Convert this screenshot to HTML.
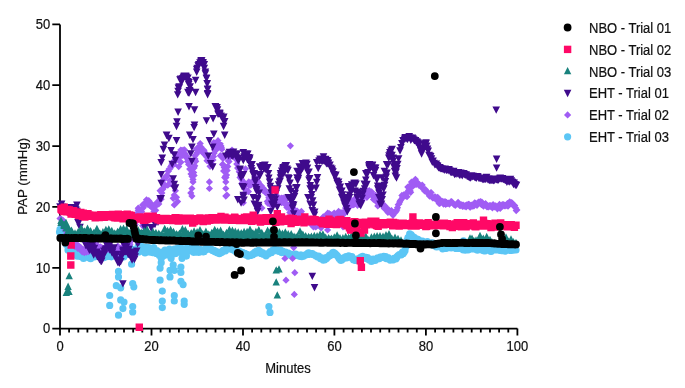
<!DOCTYPE html>
<html><head><meta charset="utf-8"><style>
html,body{margin:0;padding:0;background:#fff;}
svg{display:block;will-change:transform;font-family:"Liberation Sans",sans-serif;font-size:13px;fill:#000;}
</style></head><body>
<svg width="685" height="388" viewBox="0 0 685 388">
<rect width="685" height="388" fill="#fff"/>
<path d="M60 24.4V328.6H517.4" fill="none" stroke="#000" stroke-width="1.8"/><path d="M52.3 328.6H60M52.3 267.8H60M52.3 206.9H60M52.3 146.1H60M52.3 85.2H60M52.3 24.4H60M60.0 328.6v6.8M69.1 328.6v3.9M78.3 328.6v3.9M87.4 328.6v3.9M96.6 328.6v3.9M105.7 328.6v3.9M114.9 328.6v3.9M124.0 328.6v3.9M133.2 328.6v3.9M142.3 328.6v3.9M151.5 328.6v6.8M160.6 328.6v3.9M169.8 328.6v3.9M178.9 328.6v3.9M188.1 328.6v3.9M197.2 328.6v3.9M206.4 328.6v3.9M215.5 328.6v3.9M224.7 328.6v3.9M233.8 328.6v3.9M243.0 328.6v6.8M252.1 328.6v3.9M261.3 328.6v3.9M270.4 328.6v3.9M279.6 328.6v3.9M288.7 328.6v3.9M297.8 328.6v3.9M307.0 328.6v3.9M316.1 328.6v3.9M325.3 328.6v3.9M334.4 328.6v6.8M343.6 328.6v3.9M352.7 328.6v3.9M361.9 328.6v3.9M371.0 328.6v3.9M380.2 328.6v3.9M389.3 328.6v3.9M398.5 328.6v3.9M407.6 328.6v3.9M416.8 328.6v3.9M425.9 328.6v6.8M435.1 328.6v3.9M444.2 328.6v3.9M453.4 328.6v3.9M462.5 328.6v3.9M471.7 328.6v3.9M480.8 328.6v3.9M490.0 328.6v3.9M499.1 328.6v3.9M508.3 328.6v3.9M517.4 328.6v6.8" fill="none" stroke="#000" stroke-width="1.8"/>
<path fill="#5CC6F5" d="M58.0 227.8a3.6 3.6 0 1 0 7.2 0a3.6 3.6 0 1 0 -7.2 0zM60.2 230.0a3.6 3.6 0 1 0 7.2 0a3.6 3.6 0 1 0 -7.2 0zM79.9 258.5a3.6 3.6 0 1 0 7.2 0a3.6 3.6 0 1 0 -7.2 0zM114.9 271.4a3.6 3.6 0 1 0 7.2 0a3.6 3.6 0 1 0 -7.2 0zM114.9 276.9a3.6 3.6 0 1 0 7.2 0a3.6 3.6 0 1 0 -7.2 0zM112.7 285.7a3.6 3.6 0 1 0 7.2 0a3.6 3.6 0 1 0 -7.2 0zM117.1 287.8a3.6 3.6 0 1 0 7.2 0a3.6 3.6 0 1 0 -7.2 0zM129.1 283.5a3.6 3.6 0 1 0 7.2 0a3.6 3.6 0 1 0 -7.2 0zM130.2 286.8a3.6 3.6 0 1 0 7.2 0a3.6 3.6 0 1 0 -7.2 0zM106.1 295.5a3.6 3.6 0 1 0 7.2 0a3.6 3.6 0 1 0 -7.2 0zM106.1 305.4a3.6 3.6 0 1 0 7.2 0a3.6 3.6 0 1 0 -7.2 0zM117.1 299.9a3.6 3.6 0 1 0 7.2 0a3.6 3.6 0 1 0 -7.2 0zM120.4 302.1a3.6 3.6 0 1 0 7.2 0a3.6 3.6 0 1 0 -7.2 0zM119.3 308.6a3.6 3.6 0 1 0 7.2 0a3.6 3.6 0 1 0 -7.2 0zM114.9 315.2a3.6 3.6 0 1 0 7.2 0a3.6 3.6 0 1 0 -7.2 0zM129.1 306.5a3.6 3.6 0 1 0 7.2 0a3.6 3.6 0 1 0 -7.2 0zM129.1 311.9a3.6 3.6 0 1 0 7.2 0a3.6 3.6 0 1 0 -7.2 0zM128.0 264.2a3.6 3.6 0 1 0 7.2 0a3.6 3.6 0 1 0 -7.2 0zM157.6 258.3a3.6 3.6 0 1 0 7.2 0a3.6 3.6 0 1 0 -7.2 0zM157.6 262.7a3.6 3.6 0 1 0 7.2 0a3.6 3.6 0 1 0 -7.2 0zM156.5 268.1a3.6 3.6 0 1 0 7.2 0a3.6 3.6 0 1 0 -7.2 0zM156.5 280.2a3.6 3.6 0 1 0 7.2 0a3.6 3.6 0 1 0 -7.2 0zM158.7 291.1a3.6 3.6 0 1 0 7.2 0a3.6 3.6 0 1 0 -7.2 0zM158.7 301.0a3.6 3.6 0 1 0 7.2 0a3.6 3.6 0 1 0 -7.2 0zM158.7 307.6a3.6 3.6 0 1 0 7.2 0a3.6 3.6 0 1 0 -7.2 0zM167.5 258.3a3.6 3.6 0 1 0 7.2 0a3.6 3.6 0 1 0 -7.2 0zM169.6 264.9a3.6 3.6 0 1 0 7.2 0a3.6 3.6 0 1 0 -7.2 0zM166.4 270.3a3.6 3.6 0 1 0 7.2 0a3.6 3.6 0 1 0 -7.2 0zM166.4 276.9a3.6 3.6 0 1 0 7.2 0a3.6 3.6 0 1 0 -7.2 0zM170.7 270.3a3.6 3.6 0 1 0 7.2 0a3.6 3.6 0 1 0 -7.2 0zM170.7 295.5a3.6 3.6 0 1 0 7.2 0a3.6 3.6 0 1 0 -7.2 0zM170.7 301.0a3.6 3.6 0 1 0 7.2 0a3.6 3.6 0 1 0 -7.2 0zM178.4 258.3a3.6 3.6 0 1 0 7.2 0a3.6 3.6 0 1 0 -7.2 0zM177.3 267.0a3.6 3.6 0 1 0 7.2 0a3.6 3.6 0 1 0 -7.2 0zM177.3 272.5a3.6 3.6 0 1 0 7.2 0a3.6 3.6 0 1 0 -7.2 0zM177.3 281.3a3.6 3.6 0 1 0 7.2 0a3.6 3.6 0 1 0 -7.2 0zM179.5 284.6a3.6 3.6 0 1 0 7.2 0a3.6 3.6 0 1 0 -7.2 0zM180.6 301.0a3.6 3.6 0 1 0 7.2 0a3.6 3.6 0 1 0 -7.2 0zM180.6 304.3a3.6 3.6 0 1 0 7.2 0a3.6 3.6 0 1 0 -7.2 0zM182.8 256.1a3.6 3.6 0 1 0 7.2 0a3.6 3.6 0 1 0 -7.2 0zM265.3 306.5a3.6 3.6 0 1 0 7.2 0a3.6 3.6 0 1 0 -7.2 0zM266.4 312.4a3.6 3.6 0 1 0 7.2 0a3.6 3.6 0 1 0 -7.2 0zM58.4 228.0a3.6 3.6 0 1 0 7.2 0a3.6 3.6 0 1 0 -7.2 0zM60.4 231.0a3.6 3.6 0 1 0 7.2 0a3.6 3.6 0 1 0 -7.2 0zM55.9 232.0a3.6 3.6 0 1 0 7.2 0a3.6 3.6 0 1 0 -7.2 0zM59.4 226.0a3.6 3.6 0 1 0 7.2 0a3.6 3.6 0 1 0 -7.2 0zM459.9 240.8a3.6 3.6 0 1 0 7.2 0a3.6 3.6 0 1 0 -7.2 0zM62.4 228.5a3.6 3.6 0 1 0 7.2 0a3.6 3.6 0 1 0 -7.2 0zM61.4 232.0a3.6 3.6 0 1 0 7.2 0a3.6 3.6 0 1 0 -7.2 0zM57.4 229.0a3.6 3.6 0 1 0 7.2 0a3.6 3.6 0 1 0 -7.2 0zM59.9 226.5a3.6 3.6 0 1 0 7.2 0a3.6 3.6 0 1 0 -7.2 0zM56.4 229.4a3.6 3.6 0 1 0 7.2 0a3.6 3.6 0 1 0 -7.2 0zM57.0 229.3a3.6 3.6 0 1 0 7.2 0a3.6 3.6 0 1 0 -7.2 0zM57.6 231.5a3.6 3.6 0 1 0 7.2 0a3.6 3.6 0 1 0 -7.2 0zM58.2 232.6a3.6 3.6 0 1 0 7.2 0a3.6 3.6 0 1 0 -7.2 0zM58.8 234.3a3.6 3.6 0 1 0 7.2 0a3.6 3.6 0 1 0 -7.2 0zM59.4 237.5a3.6 3.6 0 1 0 7.2 0a3.6 3.6 0 1 0 -7.2 0zM60.0 237.2a3.6 3.6 0 1 0 7.2 0a3.6 3.6 0 1 0 -7.2 0zM60.6 234.0a3.6 3.6 0 1 0 7.2 0a3.6 3.6 0 1 0 -7.2 0zM61.2 240.2a3.6 3.6 0 1 0 7.2 0a3.6 3.6 0 1 0 -7.2 0zM61.8 239.8a3.6 3.6 0 1 0 7.2 0a3.6 3.6 0 1 0 -7.2 0zM62.4 244.3a3.6 3.6 0 1 0 7.2 0a3.6 3.6 0 1 0 -7.2 0zM63.1 242.6a3.6 3.6 0 1 0 7.2 0a3.6 3.6 0 1 0 -7.2 0zM63.7 245.0a3.6 3.6 0 1 0 7.2 0a3.6 3.6 0 1 0 -7.2 0zM64.4 249.9a3.6 3.6 0 1 0 7.2 0a3.6 3.6 0 1 0 -7.2 0zM65.1 244.2a3.6 3.6 0 1 0 7.2 0a3.6 3.6 0 1 0 -7.2 0zM65.7 244.9a3.6 3.6 0 1 0 7.2 0a3.6 3.6 0 1 0 -7.2 0zM66.4 245.2a3.6 3.6 0 1 0 7.2 0a3.6 3.6 0 1 0 -7.2 0zM67.0 243.6a3.6 3.6 0 1 0 7.2 0a3.6 3.6 0 1 0 -7.2 0zM67.6 245.0a3.6 3.6 0 1 0 7.2 0a3.6 3.6 0 1 0 -7.2 0zM68.2 249.9a3.6 3.6 0 1 0 7.2 0a3.6 3.6 0 1 0 -7.2 0zM68.8 248.3a3.6 3.6 0 1 0 7.2 0a3.6 3.6 0 1 0 -7.2 0zM69.4 246.3a3.6 3.6 0 1 0 7.2 0a3.6 3.6 0 1 0 -7.2 0zM70.0 247.4a3.6 3.6 0 1 0 7.2 0a3.6 3.6 0 1 0 -7.2 0zM70.6 252.0a3.6 3.6 0 1 0 7.2 0a3.6 3.6 0 1 0 -7.2 0zM71.2 249.6a3.6 3.6 0 1 0 7.2 0a3.6 3.6 0 1 0 -7.2 0zM71.8 250.9a3.6 3.6 0 1 0 7.2 0a3.6 3.6 0 1 0 -7.2 0zM72.4 252.7a3.6 3.6 0 1 0 7.2 0a3.6 3.6 0 1 0 -7.2 0zM73.0 254.8a3.6 3.6 0 1 0 7.2 0a3.6 3.6 0 1 0 -7.2 0zM73.6 256.1a3.6 3.6 0 1 0 7.2 0a3.6 3.6 0 1 0 -7.2 0zM74.2 254.5a3.6 3.6 0 1 0 7.2 0a3.6 3.6 0 1 0 -7.2 0zM74.8 252.8a3.6 3.6 0 1 0 7.2 0a3.6 3.6 0 1 0 -7.2 0zM75.4 253.0a3.6 3.6 0 1 0 7.2 0a3.6 3.6 0 1 0 -7.2 0zM76.0 256.4a3.6 3.6 0 1 0 7.2 0a3.6 3.6 0 1 0 -7.2 0zM76.6 255.8a3.6 3.6 0 1 0 7.2 0a3.6 3.6 0 1 0 -7.2 0zM77.2 252.4a3.6 3.6 0 1 0 7.2 0a3.6 3.6 0 1 0 -7.2 0zM77.8 254.1a3.6 3.6 0 1 0 7.2 0a3.6 3.6 0 1 0 -7.2 0zM78.4 253.9a3.6 3.6 0 1 0 7.2 0a3.6 3.6 0 1 0 -7.2 0zM79.0 253.6a3.6 3.6 0 1 0 7.2 0a3.6 3.6 0 1 0 -7.2 0zM79.6 252.6a3.6 3.6 0 1 0 7.2 0a3.6 3.6 0 1 0 -7.2 0zM80.2 251.1a3.6 3.6 0 1 0 7.2 0a3.6 3.6 0 1 0 -7.2 0zM80.8 252.8a3.6 3.6 0 1 0 7.2 0a3.6 3.6 0 1 0 -7.2 0zM81.4 250.9a3.6 3.6 0 1 0 7.2 0a3.6 3.6 0 1 0 -7.2 0zM82.0 256.5a3.6 3.6 0 1 0 7.2 0a3.6 3.6 0 1 0 -7.2 0zM82.7 255.2a3.6 3.6 0 1 0 7.2 0a3.6 3.6 0 1 0 -7.2 0zM83.3 251.8a3.6 3.6 0 1 0 7.2 0a3.6 3.6 0 1 0 -7.2 0zM83.9 257.0a3.6 3.6 0 1 0 7.2 0a3.6 3.6 0 1 0 -7.2 0zM84.5 256.1a3.6 3.6 0 1 0 7.2 0a3.6 3.6 0 1 0 -7.2 0zM85.2 250.6a3.6 3.6 0 1 0 7.2 0a3.6 3.6 0 1 0 -7.2 0zM85.8 258.1a3.6 3.6 0 1 0 7.2 0a3.6 3.6 0 1 0 -7.2 0zM86.4 256.1a3.6 3.6 0 1 0 7.2 0a3.6 3.6 0 1 0 -7.2 0zM87.0 258.7a3.6 3.6 0 1 0 7.2 0a3.6 3.6 0 1 0 -7.2 0zM87.7 252.2a3.6 3.6 0 1 0 7.2 0a3.6 3.6 0 1 0 -7.2 0zM88.3 255.7a3.6 3.6 0 1 0 7.2 0a3.6 3.6 0 1 0 -7.2 0zM88.9 255.6a3.6 3.6 0 1 0 7.2 0a3.6 3.6 0 1 0 -7.2 0zM89.5 255.2a3.6 3.6 0 1 0 7.2 0a3.6 3.6 0 1 0 -7.2 0zM90.2 255.2a3.6 3.6 0 1 0 7.2 0a3.6 3.6 0 1 0 -7.2 0zM90.8 257.0a3.6 3.6 0 1 0 7.2 0a3.6 3.6 0 1 0 -7.2 0zM91.4 252.0a3.6 3.6 0 1 0 7.2 0a3.6 3.6 0 1 0 -7.2 0zM92.0 252.5a3.6 3.6 0 1 0 7.2 0a3.6 3.6 0 1 0 -7.2 0zM92.7 252.1a3.6 3.6 0 1 0 7.2 0a3.6 3.6 0 1 0 -7.2 0zM93.3 253.8a3.6 3.6 0 1 0 7.2 0a3.6 3.6 0 1 0 -7.2 0zM93.9 253.7a3.6 3.6 0 1 0 7.2 0a3.6 3.6 0 1 0 -7.2 0zM94.5 255.6a3.6 3.6 0 1 0 7.2 0a3.6 3.6 0 1 0 -7.2 0zM95.2 255.3a3.6 3.6 0 1 0 7.2 0a3.6 3.6 0 1 0 -7.2 0zM95.8 254.8a3.6 3.6 0 1 0 7.2 0a3.6 3.6 0 1 0 -7.2 0zM96.4 253.4a3.6 3.6 0 1 0 7.2 0a3.6 3.6 0 1 0 -7.2 0zM97.0 253.8a3.6 3.6 0 1 0 7.2 0a3.6 3.6 0 1 0 -7.2 0zM97.7 256.6a3.6 3.6 0 1 0 7.2 0a3.6 3.6 0 1 0 -7.2 0zM98.3 256.2a3.6 3.6 0 1 0 7.2 0a3.6 3.6 0 1 0 -7.2 0zM98.9 254.8a3.6 3.6 0 1 0 7.2 0a3.6 3.6 0 1 0 -7.2 0zM99.5 253.9a3.6 3.6 0 1 0 7.2 0a3.6 3.6 0 1 0 -7.2 0zM100.2 257.7a3.6 3.6 0 1 0 7.2 0a3.6 3.6 0 1 0 -7.2 0zM100.8 253.3a3.6 3.6 0 1 0 7.2 0a3.6 3.6 0 1 0 -7.2 0zM101.4 255.8a3.6 3.6 0 1 0 7.2 0a3.6 3.6 0 1 0 -7.2 0zM102.0 256.8a3.6 3.6 0 1 0 7.2 0a3.6 3.6 0 1 0 -7.2 0zM102.7 253.9a3.6 3.6 0 1 0 7.2 0a3.6 3.6 0 1 0 -7.2 0zM103.3 256.1a3.6 3.6 0 1 0 7.2 0a3.6 3.6 0 1 0 -7.2 0zM103.9 252.1a3.6 3.6 0 1 0 7.2 0a3.6 3.6 0 1 0 -7.2 0zM104.5 256.4a3.6 3.6 0 1 0 7.2 0a3.6 3.6 0 1 0 -7.2 0zM105.2 254.7a3.6 3.6 0 1 0 7.2 0a3.6 3.6 0 1 0 -7.2 0zM105.8 251.1a3.6 3.6 0 1 0 7.2 0a3.6 3.6 0 1 0 -7.2 0zM106.4 255.6a3.6 3.6 0 1 0 7.2 0a3.6 3.6 0 1 0 -7.2 0zM107.0 252.4a3.6 3.6 0 1 0 7.2 0a3.6 3.6 0 1 0 -7.2 0zM107.7 256.8a3.6 3.6 0 1 0 7.2 0a3.6 3.6 0 1 0 -7.2 0zM108.3 252.8a3.6 3.6 0 1 0 7.2 0a3.6 3.6 0 1 0 -7.2 0zM108.9 253.8a3.6 3.6 0 1 0 7.2 0a3.6 3.6 0 1 0 -7.2 0zM109.5 254.7a3.6 3.6 0 1 0 7.2 0a3.6 3.6 0 1 0 -7.2 0zM110.2 253.4a3.6 3.6 0 1 0 7.2 0a3.6 3.6 0 1 0 -7.2 0zM110.8 254.6a3.6 3.6 0 1 0 7.2 0a3.6 3.6 0 1 0 -7.2 0zM111.4 252.9a3.6 3.6 0 1 0 7.2 0a3.6 3.6 0 1 0 -7.2 0zM112.0 255.2a3.6 3.6 0 1 0 7.2 0a3.6 3.6 0 1 0 -7.2 0zM112.7 253.8a3.6 3.6 0 1 0 7.2 0a3.6 3.6 0 1 0 -7.2 0zM113.3 254.0a3.6 3.6 0 1 0 7.2 0a3.6 3.6 0 1 0 -7.2 0zM113.9 248.0a3.6 3.6 0 1 0 7.2 0a3.6 3.6 0 1 0 -7.2 0zM114.5 255.7a3.6 3.6 0 1 0 7.2 0a3.6 3.6 0 1 0 -7.2 0zM115.2 253.3a3.6 3.6 0 1 0 7.2 0a3.6 3.6 0 1 0 -7.2 0zM115.8 249.6a3.6 3.6 0 1 0 7.2 0a3.6 3.6 0 1 0 -7.2 0zM116.4 253.2a3.6 3.6 0 1 0 7.2 0a3.6 3.6 0 1 0 -7.2 0zM117.0 253.8a3.6 3.6 0 1 0 7.2 0a3.6 3.6 0 1 0 -7.2 0zM117.7 254.9a3.6 3.6 0 1 0 7.2 0a3.6 3.6 0 1 0 -7.2 0zM118.3 250.5a3.6 3.6 0 1 0 7.2 0a3.6 3.6 0 1 0 -7.2 0zM118.9 255.6a3.6 3.6 0 1 0 7.2 0a3.6 3.6 0 1 0 -7.2 0zM119.5 252.1a3.6 3.6 0 1 0 7.2 0a3.6 3.6 0 1 0 -7.2 0zM120.2 257.0a3.6 3.6 0 1 0 7.2 0a3.6 3.6 0 1 0 -7.2 0zM120.8 251.8a3.6 3.6 0 1 0 7.2 0a3.6 3.6 0 1 0 -7.2 0zM121.4 253.4a3.6 3.6 0 1 0 7.2 0a3.6 3.6 0 1 0 -7.2 0zM122.0 251.1a3.6 3.6 0 1 0 7.2 0a3.6 3.6 0 1 0 -7.2 0zM122.7 249.5a3.6 3.6 0 1 0 7.2 0a3.6 3.6 0 1 0 -7.2 0zM123.3 253.8a3.6 3.6 0 1 0 7.2 0a3.6 3.6 0 1 0 -7.2 0zM123.9 253.3a3.6 3.6 0 1 0 7.2 0a3.6 3.6 0 1 0 -7.2 0zM124.5 254.5a3.6 3.6 0 1 0 7.2 0a3.6 3.6 0 1 0 -7.2 0zM125.2 253.0a3.6 3.6 0 1 0 7.2 0a3.6 3.6 0 1 0 -7.2 0zM125.8 250.0a3.6 3.6 0 1 0 7.2 0a3.6 3.6 0 1 0 -7.2 0zM126.4 247.7a3.6 3.6 0 1 0 7.2 0a3.6 3.6 0 1 0 -7.2 0zM127.0 249.6a3.6 3.6 0 1 0 7.2 0a3.6 3.6 0 1 0 -7.2 0zM127.7 249.4a3.6 3.6 0 1 0 7.2 0a3.6 3.6 0 1 0 -7.2 0zM128.3 249.0a3.6 3.6 0 1 0 7.2 0a3.6 3.6 0 1 0 -7.2 0zM128.9 251.7a3.6 3.6 0 1 0 7.2 0a3.6 3.6 0 1 0 -7.2 0zM129.5 251.0a3.6 3.6 0 1 0 7.2 0a3.6 3.6 0 1 0 -7.2 0zM130.2 249.7a3.6 3.6 0 1 0 7.2 0a3.6 3.6 0 1 0 -7.2 0zM130.8 250.5a3.6 3.6 0 1 0 7.2 0a3.6 3.6 0 1 0 -7.2 0zM131.4 249.7a3.6 3.6 0 1 0 7.2 0a3.6 3.6 0 1 0 -7.2 0zM132.0 250.3a3.6 3.6 0 1 0 7.2 0a3.6 3.6 0 1 0 -7.2 0zM132.7 251.3a3.6 3.6 0 1 0 7.2 0a3.6 3.6 0 1 0 -7.2 0zM133.3 251.5a3.6 3.6 0 1 0 7.2 0a3.6 3.6 0 1 0 -7.2 0zM133.9 248.1a3.6 3.6 0 1 0 7.2 0a3.6 3.6 0 1 0 -7.2 0zM134.5 246.4a3.6 3.6 0 1 0 7.2 0a3.6 3.6 0 1 0 -7.2 0zM135.2 252.1a3.6 3.6 0 1 0 7.2 0a3.6 3.6 0 1 0 -7.2 0zM135.8 249.4a3.6 3.6 0 1 0 7.2 0a3.6 3.6 0 1 0 -7.2 0zM136.4 251.2a3.6 3.6 0 1 0 7.2 0a3.6 3.6 0 1 0 -7.2 0zM137.0 245.8a3.6 3.6 0 1 0 7.2 0a3.6 3.6 0 1 0 -7.2 0zM137.7 248.5a3.6 3.6 0 1 0 7.2 0a3.6 3.6 0 1 0 -7.2 0zM138.3 249.3a3.6 3.6 0 1 0 7.2 0a3.6 3.6 0 1 0 -7.2 0zM138.9 246.5a3.6 3.6 0 1 0 7.2 0a3.6 3.6 0 1 0 -7.2 0zM139.5 248.4a3.6 3.6 0 1 0 7.2 0a3.6 3.6 0 1 0 -7.2 0zM140.2 251.0a3.6 3.6 0 1 0 7.2 0a3.6 3.6 0 1 0 -7.2 0zM140.8 251.8a3.6 3.6 0 1 0 7.2 0a3.6 3.6 0 1 0 -7.2 0zM141.4 252.9a3.6 3.6 0 1 0 7.2 0a3.6 3.6 0 1 0 -7.2 0zM142.0 248.1a3.6 3.6 0 1 0 7.2 0a3.6 3.6 0 1 0 -7.2 0zM142.7 247.1a3.6 3.6 0 1 0 7.2 0a3.6 3.6 0 1 0 -7.2 0zM143.3 251.1a3.6 3.6 0 1 0 7.2 0a3.6 3.6 0 1 0 -7.2 0zM143.9 252.0a3.6 3.6 0 1 0 7.2 0a3.6 3.6 0 1 0 -7.2 0zM144.5 250.6a3.6 3.6 0 1 0 7.2 0a3.6 3.6 0 1 0 -7.2 0zM145.2 247.7a3.6 3.6 0 1 0 7.2 0a3.6 3.6 0 1 0 -7.2 0zM145.8 252.0a3.6 3.6 0 1 0 7.2 0a3.6 3.6 0 1 0 -7.2 0zM146.4 252.1a3.6 3.6 0 1 0 7.2 0a3.6 3.6 0 1 0 -7.2 0zM147.0 251.7a3.6 3.6 0 1 0 7.2 0a3.6 3.6 0 1 0 -7.2 0zM147.7 249.8a3.6 3.6 0 1 0 7.2 0a3.6 3.6 0 1 0 -7.2 0zM148.3 251.5a3.6 3.6 0 1 0 7.2 0a3.6 3.6 0 1 0 -7.2 0zM148.9 252.6a3.6 3.6 0 1 0 7.2 0a3.6 3.6 0 1 0 -7.2 0zM149.5 250.0a3.6 3.6 0 1 0 7.2 0a3.6 3.6 0 1 0 -7.2 0zM150.2 247.6a3.6 3.6 0 1 0 7.2 0a3.6 3.6 0 1 0 -7.2 0zM150.8 252.0a3.6 3.6 0 1 0 7.2 0a3.6 3.6 0 1 0 -7.2 0zM151.4 252.5a3.6 3.6 0 1 0 7.2 0a3.6 3.6 0 1 0 -7.2 0zM152.0 251.7a3.6 3.6 0 1 0 7.2 0a3.6 3.6 0 1 0 -7.2 0zM152.7 253.5a3.6 3.6 0 1 0 7.2 0a3.6 3.6 0 1 0 -7.2 0zM153.3 250.7a3.6 3.6 0 1 0 7.2 0a3.6 3.6 0 1 0 -7.2 0zM153.9 251.8a3.6 3.6 0 1 0 7.2 0a3.6 3.6 0 1 0 -7.2 0zM154.5 251.5a3.6 3.6 0 1 0 7.2 0a3.6 3.6 0 1 0 -7.2 0zM155.2 253.4a3.6 3.6 0 1 0 7.2 0a3.6 3.6 0 1 0 -7.2 0zM155.8 255.6a3.6 3.6 0 1 0 7.2 0a3.6 3.6 0 1 0 -7.2 0zM156.4 252.0a3.6 3.6 0 1 0 7.2 0a3.6 3.6 0 1 0 -7.2 0zM157.0 256.6a3.6 3.6 0 1 0 7.2 0a3.6 3.6 0 1 0 -7.2 0zM157.7 255.5a3.6 3.6 0 1 0 7.2 0a3.6 3.6 0 1 0 -7.2 0zM158.3 254.0a3.6 3.6 0 1 0 7.2 0a3.6 3.6 0 1 0 -7.2 0zM158.9 253.5a3.6 3.6 0 1 0 7.2 0a3.6 3.6 0 1 0 -7.2 0zM159.5 255.9a3.6 3.6 0 1 0 7.2 0a3.6 3.6 0 1 0 -7.2 0zM160.2 252.0a3.6 3.6 0 1 0 7.2 0a3.6 3.6 0 1 0 -7.2 0zM160.8 252.1a3.6 3.6 0 1 0 7.2 0a3.6 3.6 0 1 0 -7.2 0zM161.4 250.1a3.6 3.6 0 1 0 7.2 0a3.6 3.6 0 1 0 -7.2 0zM162.0 253.2a3.6 3.6 0 1 0 7.2 0a3.6 3.6 0 1 0 -7.2 0zM162.7 254.9a3.6 3.6 0 1 0 7.2 0a3.6 3.6 0 1 0 -7.2 0zM163.3 253.2a3.6 3.6 0 1 0 7.2 0a3.6 3.6 0 1 0 -7.2 0zM163.9 253.0a3.6 3.6 0 1 0 7.2 0a3.6 3.6 0 1 0 -7.2 0zM164.5 251.7a3.6 3.6 0 1 0 7.2 0a3.6 3.6 0 1 0 -7.2 0zM165.2 252.4a3.6 3.6 0 1 0 7.2 0a3.6 3.6 0 1 0 -7.2 0zM165.8 249.2a3.6 3.6 0 1 0 7.2 0a3.6 3.6 0 1 0 -7.2 0zM166.4 254.1a3.6 3.6 0 1 0 7.2 0a3.6 3.6 0 1 0 -7.2 0zM167.0 251.1a3.6 3.6 0 1 0 7.2 0a3.6 3.6 0 1 0 -7.2 0zM167.7 249.7a3.6 3.6 0 1 0 7.2 0a3.6 3.6 0 1 0 -7.2 0zM168.3 250.4a3.6 3.6 0 1 0 7.2 0a3.6 3.6 0 1 0 -7.2 0zM168.9 250.2a3.6 3.6 0 1 0 7.2 0a3.6 3.6 0 1 0 -7.2 0zM169.5 253.6a3.6 3.6 0 1 0 7.2 0a3.6 3.6 0 1 0 -7.2 0zM170.2 253.9a3.6 3.6 0 1 0 7.2 0a3.6 3.6 0 1 0 -7.2 0zM170.8 249.1a3.6 3.6 0 1 0 7.2 0a3.6 3.6 0 1 0 -7.2 0zM171.4 253.6a3.6 3.6 0 1 0 7.2 0a3.6 3.6 0 1 0 -7.2 0zM172.0 253.5a3.6 3.6 0 1 0 7.2 0a3.6 3.6 0 1 0 -7.2 0zM172.7 250.5a3.6 3.6 0 1 0 7.2 0a3.6 3.6 0 1 0 -7.2 0zM173.3 248.7a3.6 3.6 0 1 0 7.2 0a3.6 3.6 0 1 0 -7.2 0zM173.9 250.1a3.6 3.6 0 1 0 7.2 0a3.6 3.6 0 1 0 -7.2 0zM174.5 250.3a3.6 3.6 0 1 0 7.2 0a3.6 3.6 0 1 0 -7.2 0zM175.2 252.2a3.6 3.6 0 1 0 7.2 0a3.6 3.6 0 1 0 -7.2 0zM175.8 250.8a3.6 3.6 0 1 0 7.2 0a3.6 3.6 0 1 0 -7.2 0zM176.4 247.4a3.6 3.6 0 1 0 7.2 0a3.6 3.6 0 1 0 -7.2 0zM177.0 251.9a3.6 3.6 0 1 0 7.2 0a3.6 3.6 0 1 0 -7.2 0zM177.7 248.2a3.6 3.6 0 1 0 7.2 0a3.6 3.6 0 1 0 -7.2 0zM178.3 253.0a3.6 3.6 0 1 0 7.2 0a3.6 3.6 0 1 0 -7.2 0zM178.9 248.7a3.6 3.6 0 1 0 7.2 0a3.6 3.6 0 1 0 -7.2 0zM179.5 249.6a3.6 3.6 0 1 0 7.2 0a3.6 3.6 0 1 0 -7.2 0zM180.2 249.2a3.6 3.6 0 1 0 7.2 0a3.6 3.6 0 1 0 -7.2 0zM180.8 249.8a3.6 3.6 0 1 0 7.2 0a3.6 3.6 0 1 0 -7.2 0zM181.4 253.3a3.6 3.6 0 1 0 7.2 0a3.6 3.6 0 1 0 -7.2 0zM182.0 252.4a3.6 3.6 0 1 0 7.2 0a3.6 3.6 0 1 0 -7.2 0zM182.7 251.8a3.6 3.6 0 1 0 7.2 0a3.6 3.6 0 1 0 -7.2 0zM183.3 251.1a3.6 3.6 0 1 0 7.2 0a3.6 3.6 0 1 0 -7.2 0zM183.9 247.3a3.6 3.6 0 1 0 7.2 0a3.6 3.6 0 1 0 -7.2 0zM184.5 249.2a3.6 3.6 0 1 0 7.2 0a3.6 3.6 0 1 0 -7.2 0zM185.2 249.1a3.6 3.6 0 1 0 7.2 0a3.6 3.6 0 1 0 -7.2 0zM185.8 248.1a3.6 3.6 0 1 0 7.2 0a3.6 3.6 0 1 0 -7.2 0zM186.4 251.0a3.6 3.6 0 1 0 7.2 0a3.6 3.6 0 1 0 -7.2 0zM187.0 248.5a3.6 3.6 0 1 0 7.2 0a3.6 3.6 0 1 0 -7.2 0zM187.7 248.5a3.6 3.6 0 1 0 7.2 0a3.6 3.6 0 1 0 -7.2 0zM188.3 247.8a3.6 3.6 0 1 0 7.2 0a3.6 3.6 0 1 0 -7.2 0zM188.9 245.8a3.6 3.6 0 1 0 7.2 0a3.6 3.6 0 1 0 -7.2 0zM189.5 251.0a3.6 3.6 0 1 0 7.2 0a3.6 3.6 0 1 0 -7.2 0zM190.2 252.5a3.6 3.6 0 1 0 7.2 0a3.6 3.6 0 1 0 -7.2 0zM190.8 250.1a3.6 3.6 0 1 0 7.2 0a3.6 3.6 0 1 0 -7.2 0zM191.4 247.8a3.6 3.6 0 1 0 7.2 0a3.6 3.6 0 1 0 -7.2 0zM192.0 244.3a3.6 3.6 0 1 0 7.2 0a3.6 3.6 0 1 0 -7.2 0zM192.7 250.0a3.6 3.6 0 1 0 7.2 0a3.6 3.6 0 1 0 -7.2 0zM193.3 252.1a3.6 3.6 0 1 0 7.2 0a3.6 3.6 0 1 0 -7.2 0zM193.9 250.2a3.6 3.6 0 1 0 7.2 0a3.6 3.6 0 1 0 -7.2 0zM194.5 251.4a3.6 3.6 0 1 0 7.2 0a3.6 3.6 0 1 0 -7.2 0zM195.2 252.5a3.6 3.6 0 1 0 7.2 0a3.6 3.6 0 1 0 -7.2 0zM195.8 251.8a3.6 3.6 0 1 0 7.2 0a3.6 3.6 0 1 0 -7.2 0zM196.4 249.3a3.6 3.6 0 1 0 7.2 0a3.6 3.6 0 1 0 -7.2 0zM197.0 250.6a3.6 3.6 0 1 0 7.2 0a3.6 3.6 0 1 0 -7.2 0zM197.6 251.1a3.6 3.6 0 1 0 7.2 0a3.6 3.6 0 1 0 -7.2 0zM198.2 250.5a3.6 3.6 0 1 0 7.2 0a3.6 3.6 0 1 0 -7.2 0zM198.8 251.7a3.6 3.6 0 1 0 7.2 0a3.6 3.6 0 1 0 -7.2 0zM199.4 251.8a3.6 3.6 0 1 0 7.2 0a3.6 3.6 0 1 0 -7.2 0zM200.0 251.8a3.6 3.6 0 1 0 7.2 0a3.6 3.6 0 1 0 -7.2 0zM200.7 251.4a3.6 3.6 0 1 0 7.2 0a3.6 3.6 0 1 0 -7.2 0zM201.3 249.9a3.6 3.6 0 1 0 7.2 0a3.6 3.6 0 1 0 -7.2 0zM201.9 248.7a3.6 3.6 0 1 0 7.2 0a3.6 3.6 0 1 0 -7.2 0zM202.5 249.7a3.6 3.6 0 1 0 7.2 0a3.6 3.6 0 1 0 -7.2 0zM203.2 248.6a3.6 3.6 0 1 0 7.2 0a3.6 3.6 0 1 0 -7.2 0zM203.8 248.4a3.6 3.6 0 1 0 7.2 0a3.6 3.6 0 1 0 -7.2 0zM204.4 246.3a3.6 3.6 0 1 0 7.2 0a3.6 3.6 0 1 0 -7.2 0zM205.0 247.9a3.6 3.6 0 1 0 7.2 0a3.6 3.6 0 1 0 -7.2 0zM205.6 248.8a3.6 3.6 0 1 0 7.2 0a3.6 3.6 0 1 0 -7.2 0zM206.2 249.2a3.6 3.6 0 1 0 7.2 0a3.6 3.6 0 1 0 -7.2 0zM206.8 248.5a3.6 3.6 0 1 0 7.2 0a3.6 3.6 0 1 0 -7.2 0zM207.4 249.1a3.6 3.6 0 1 0 7.2 0a3.6 3.6 0 1 0 -7.2 0zM208.0 249.3a3.6 3.6 0 1 0 7.2 0a3.6 3.6 0 1 0 -7.2 0zM208.6 250.3a3.6 3.6 0 1 0 7.2 0a3.6 3.6 0 1 0 -7.2 0zM209.2 250.7a3.6 3.6 0 1 0 7.2 0a3.6 3.6 0 1 0 -7.2 0zM209.8 250.6a3.6 3.6 0 1 0 7.2 0a3.6 3.6 0 1 0 -7.2 0zM210.4 250.3a3.6 3.6 0 1 0 7.2 0a3.6 3.6 0 1 0 -7.2 0zM211.0 251.6a3.6 3.6 0 1 0 7.2 0a3.6 3.6 0 1 0 -7.2 0zM211.6 251.2a3.6 3.6 0 1 0 7.2 0a3.6 3.6 0 1 0 -7.2 0zM212.2 251.9a3.6 3.6 0 1 0 7.2 0a3.6 3.6 0 1 0 -7.2 0zM212.8 251.9a3.6 3.6 0 1 0 7.2 0a3.6 3.6 0 1 0 -7.2 0zM213.4 252.8a3.6 3.6 0 1 0 7.2 0a3.6 3.6 0 1 0 -7.2 0zM214.0 252.8a3.6 3.6 0 1 0 7.2 0a3.6 3.6 0 1 0 -7.2 0zM214.6 252.2a3.6 3.6 0 1 0 7.2 0a3.6 3.6 0 1 0 -7.2 0zM215.2 252.8a3.6 3.6 0 1 0 7.2 0a3.6 3.6 0 1 0 -7.2 0zM215.8 253.7a3.6 3.6 0 1 0 7.2 0a3.6 3.6 0 1 0 -7.2 0zM216.4 252.7a3.6 3.6 0 1 0 7.2 0a3.6 3.6 0 1 0 -7.2 0zM217.0 252.8a3.6 3.6 0 1 0 7.2 0a3.6 3.6 0 1 0 -7.2 0zM217.6 252.8a3.6 3.6 0 1 0 7.2 0a3.6 3.6 0 1 0 -7.2 0zM218.2 252.5a3.6 3.6 0 1 0 7.2 0a3.6 3.6 0 1 0 -7.2 0zM218.9 251.7a3.6 3.6 0 1 0 7.2 0a3.6 3.6 0 1 0 -7.2 0zM219.5 250.4a3.6 3.6 0 1 0 7.2 0a3.6 3.6 0 1 0 -7.2 0zM220.1 250.1a3.6 3.6 0 1 0 7.2 0a3.6 3.6 0 1 0 -7.2 0zM220.7 250.4a3.6 3.6 0 1 0 7.2 0a3.6 3.6 0 1 0 -7.2 0zM221.3 250.1a3.6 3.6 0 1 0 7.2 0a3.6 3.6 0 1 0 -7.2 0zM221.9 250.8a3.6 3.6 0 1 0 7.2 0a3.6 3.6 0 1 0 -7.2 0zM222.6 248.7a3.6 3.6 0 1 0 7.2 0a3.6 3.6 0 1 0 -7.2 0zM223.2 249.3a3.6 3.6 0 1 0 7.2 0a3.6 3.6 0 1 0 -7.2 0zM223.8 248.8a3.6 3.6 0 1 0 7.2 0a3.6 3.6 0 1 0 -7.2 0zM224.4 247.2a3.6 3.6 0 1 0 7.2 0a3.6 3.6 0 1 0 -7.2 0zM225.0 247.8a3.6 3.6 0 1 0 7.2 0a3.6 3.6 0 1 0 -7.2 0zM225.6 248.5a3.6 3.6 0 1 0 7.2 0a3.6 3.6 0 1 0 -7.2 0zM226.2 248.4a3.6 3.6 0 1 0 7.2 0a3.6 3.6 0 1 0 -7.2 0zM226.8 248.7a3.6 3.6 0 1 0 7.2 0a3.6 3.6 0 1 0 -7.2 0zM227.4 249.2a3.6 3.6 0 1 0 7.2 0a3.6 3.6 0 1 0 -7.2 0zM228.0 248.8a3.6 3.6 0 1 0 7.2 0a3.6 3.6 0 1 0 -7.2 0zM228.6 249.6a3.6 3.6 0 1 0 7.2 0a3.6 3.6 0 1 0 -7.2 0zM229.2 249.3a3.6 3.6 0 1 0 7.2 0a3.6 3.6 0 1 0 -7.2 0zM229.8 249.5a3.6 3.6 0 1 0 7.2 0a3.6 3.6 0 1 0 -7.2 0zM230.4 250.3a3.6 3.6 0 1 0 7.2 0a3.6 3.6 0 1 0 -7.2 0zM231.0 249.9a3.6 3.6 0 1 0 7.2 0a3.6 3.6 0 1 0 -7.2 0zM231.6 250.5a3.6 3.6 0 1 0 7.2 0a3.6 3.6 0 1 0 -7.2 0zM232.2 251.4a3.6 3.6 0 1 0 7.2 0a3.6 3.6 0 1 0 -7.2 0zM232.8 250.8a3.6 3.6 0 1 0 7.2 0a3.6 3.6 0 1 0 -7.2 0zM233.4 250.9a3.6 3.6 0 1 0 7.2 0a3.6 3.6 0 1 0 -7.2 0zM234.0 251.6a3.6 3.6 0 1 0 7.2 0a3.6 3.6 0 1 0 -7.2 0zM234.6 251.2a3.6 3.6 0 1 0 7.2 0a3.6 3.6 0 1 0 -7.2 0zM235.2 252.1a3.6 3.6 0 1 0 7.2 0a3.6 3.6 0 1 0 -7.2 0zM235.8 251.2a3.6 3.6 0 1 0 7.2 0a3.6 3.6 0 1 0 -7.2 0zM236.4 252.3a3.6 3.6 0 1 0 7.2 0a3.6 3.6 0 1 0 -7.2 0zM237.0 252.0a3.6 3.6 0 1 0 7.2 0a3.6 3.6 0 1 0 -7.2 0zM237.7 252.0a3.6 3.6 0 1 0 7.2 0a3.6 3.6 0 1 0 -7.2 0zM238.3 253.5a3.6 3.6 0 1 0 7.2 0a3.6 3.6 0 1 0 -7.2 0zM238.9 252.4a3.6 3.6 0 1 0 7.2 0a3.6 3.6 0 1 0 -7.2 0zM239.5 254.0a3.6 3.6 0 1 0 7.2 0a3.6 3.6 0 1 0 -7.2 0zM240.2 253.6a3.6 3.6 0 1 0 7.2 0a3.6 3.6 0 1 0 -7.2 0zM240.8 254.3a3.6 3.6 0 1 0 7.2 0a3.6 3.6 0 1 0 -7.2 0zM241.4 253.3a3.6 3.6 0 1 0 7.2 0a3.6 3.6 0 1 0 -7.2 0zM242.0 254.6a3.6 3.6 0 1 0 7.2 0a3.6 3.6 0 1 0 -7.2 0zM242.7 254.9a3.6 3.6 0 1 0 7.2 0a3.6 3.6 0 1 0 -7.2 0zM243.3 254.3a3.6 3.6 0 1 0 7.2 0a3.6 3.6 0 1 0 -7.2 0zM243.9 254.6a3.6 3.6 0 1 0 7.2 0a3.6 3.6 0 1 0 -7.2 0zM244.5 256.1a3.6 3.6 0 1 0 7.2 0a3.6 3.6 0 1 0 -7.2 0zM245.2 255.2a3.6 3.6 0 1 0 7.2 0a3.6 3.6 0 1 0 -7.2 0zM245.8 255.1a3.6 3.6 0 1 0 7.2 0a3.6 3.6 0 1 0 -7.2 0zM246.4 255.2a3.6 3.6 0 1 0 7.2 0a3.6 3.6 0 1 0 -7.2 0zM247.0 255.4a3.6 3.6 0 1 0 7.2 0a3.6 3.6 0 1 0 -7.2 0zM247.6 255.0a3.6 3.6 0 1 0 7.2 0a3.6 3.6 0 1 0 -7.2 0zM248.2 254.6a3.6 3.6 0 1 0 7.2 0a3.6 3.6 0 1 0 -7.2 0zM248.9 255.0a3.6 3.6 0 1 0 7.2 0a3.6 3.6 0 1 0 -7.2 0zM249.5 253.6a3.6 3.6 0 1 0 7.2 0a3.6 3.6 0 1 0 -7.2 0zM250.1 253.7a3.6 3.6 0 1 0 7.2 0a3.6 3.6 0 1 0 -7.2 0zM250.7 253.8a3.6 3.6 0 1 0 7.2 0a3.6 3.6 0 1 0 -7.2 0zM251.3 252.2a3.6 3.6 0 1 0 7.2 0a3.6 3.6 0 1 0 -7.2 0zM251.9 252.9a3.6 3.6 0 1 0 7.2 0a3.6 3.6 0 1 0 -7.2 0zM252.6 253.0a3.6 3.6 0 1 0 7.2 0a3.6 3.6 0 1 0 -7.2 0zM253.2 251.0a3.6 3.6 0 1 0 7.2 0a3.6 3.6 0 1 0 -7.2 0zM253.8 250.8a3.6 3.6 0 1 0 7.2 0a3.6 3.6 0 1 0 -7.2 0zM254.4 250.5a3.6 3.6 0 1 0 7.2 0a3.6 3.6 0 1 0 -7.2 0zM255.0 250.4a3.6 3.6 0 1 0 7.2 0a3.6 3.6 0 1 0 -7.2 0zM255.6 251.9a3.6 3.6 0 1 0 7.2 0a3.6 3.6 0 1 0 -7.2 0zM256.2 251.1a3.6 3.6 0 1 0 7.2 0a3.6 3.6 0 1 0 -7.2 0zM256.9 252.6a3.6 3.6 0 1 0 7.2 0a3.6 3.6 0 1 0 -7.2 0zM257.5 253.5a3.6 3.6 0 1 0 7.2 0a3.6 3.6 0 1 0 -7.2 0zM258.1 252.3a3.6 3.6 0 1 0 7.2 0a3.6 3.6 0 1 0 -7.2 0zM258.7 253.3a3.6 3.6 0 1 0 7.2 0a3.6 3.6 0 1 0 -7.2 0zM259.3 252.8a3.6 3.6 0 1 0 7.2 0a3.6 3.6 0 1 0 -7.2 0zM259.9 254.5a3.6 3.6 0 1 0 7.2 0a3.6 3.6 0 1 0 -7.2 0zM260.6 254.1a3.6 3.6 0 1 0 7.2 0a3.6 3.6 0 1 0 -7.2 0zM261.2 254.7a3.6 3.6 0 1 0 7.2 0a3.6 3.6 0 1 0 -7.2 0zM261.8 255.2a3.6 3.6 0 1 0 7.2 0a3.6 3.6 0 1 0 -7.2 0zM262.4 255.8a3.6 3.6 0 1 0 7.2 0a3.6 3.6 0 1 0 -7.2 0zM263.0 254.9a3.6 3.6 0 1 0 7.2 0a3.6 3.6 0 1 0 -7.2 0zM263.6 254.7a3.6 3.6 0 1 0 7.2 0a3.6 3.6 0 1 0 -7.2 0zM264.2 254.0a3.6 3.6 0 1 0 7.2 0a3.6 3.6 0 1 0 -7.2 0zM264.9 253.9a3.6 3.6 0 1 0 7.2 0a3.6 3.6 0 1 0 -7.2 0zM265.5 252.8a3.6 3.6 0 1 0 7.2 0a3.6 3.6 0 1 0 -7.2 0zM266.1 253.0a3.6 3.6 0 1 0 7.2 0a3.6 3.6 0 1 0 -7.2 0zM266.7 251.6a3.6 3.6 0 1 0 7.2 0a3.6 3.6 0 1 0 -7.2 0zM267.3 251.9a3.6 3.6 0 1 0 7.2 0a3.6 3.6 0 1 0 -7.2 0zM267.9 252.6a3.6 3.6 0 1 0 7.2 0a3.6 3.6 0 1 0 -7.2 0zM268.6 251.3a3.6 3.6 0 1 0 7.2 0a3.6 3.6 0 1 0 -7.2 0zM269.2 250.2a3.6 3.6 0 1 0 7.2 0a3.6 3.6 0 1 0 -7.2 0zM269.8 250.6a3.6 3.6 0 1 0 7.2 0a3.6 3.6 0 1 0 -7.2 0zM270.4 249.5a3.6 3.6 0 1 0 7.2 0a3.6 3.6 0 1 0 -7.2 0zM271.0 249.3a3.6 3.6 0 1 0 7.2 0a3.6 3.6 0 1 0 -7.2 0zM271.6 249.8a3.6 3.6 0 1 0 7.2 0a3.6 3.6 0 1 0 -7.2 0zM272.2 250.6a3.6 3.6 0 1 0 7.2 0a3.6 3.6 0 1 0 -7.2 0zM272.8 250.5a3.6 3.6 0 1 0 7.2 0a3.6 3.6 0 1 0 -7.2 0zM273.4 250.4a3.6 3.6 0 1 0 7.2 0a3.6 3.6 0 1 0 -7.2 0zM274.0 250.0a3.6 3.6 0 1 0 7.2 0a3.6 3.6 0 1 0 -7.2 0zM274.6 250.0a3.6 3.6 0 1 0 7.2 0a3.6 3.6 0 1 0 -7.2 0zM275.2 251.3a3.6 3.6 0 1 0 7.2 0a3.6 3.6 0 1 0 -7.2 0zM275.8 250.8a3.6 3.6 0 1 0 7.2 0a3.6 3.6 0 1 0 -7.2 0zM276.4 250.3a3.6 3.6 0 1 0 7.2 0a3.6 3.6 0 1 0 -7.2 0zM277.0 250.0a3.6 3.6 0 1 0 7.2 0a3.6 3.6 0 1 0 -7.2 0zM277.6 250.6a3.6 3.6 0 1 0 7.2 0a3.6 3.6 0 1 0 -7.2 0zM278.2 252.7a3.6 3.6 0 1 0 7.2 0a3.6 3.6 0 1 0 -7.2 0zM278.8 251.1a3.6 3.6 0 1 0 7.2 0a3.6 3.6 0 1 0 -7.2 0zM279.4 251.9a3.6 3.6 0 1 0 7.2 0a3.6 3.6 0 1 0 -7.2 0zM280.0 252.2a3.6 3.6 0 1 0 7.2 0a3.6 3.6 0 1 0 -7.2 0zM280.6 252.3a3.6 3.6 0 1 0 7.2 0a3.6 3.6 0 1 0 -7.2 0zM281.2 252.4a3.6 3.6 0 1 0 7.2 0a3.6 3.6 0 1 0 -7.2 0zM281.8 252.1a3.6 3.6 0 1 0 7.2 0a3.6 3.6 0 1 0 -7.2 0zM282.4 252.5a3.6 3.6 0 1 0 7.2 0a3.6 3.6 0 1 0 -7.2 0zM283.0 254.0a3.6 3.6 0 1 0 7.2 0a3.6 3.6 0 1 0 -7.2 0zM283.6 253.0a3.6 3.6 0 1 0 7.2 0a3.6 3.6 0 1 0 -7.2 0zM284.2 254.0a3.6 3.6 0 1 0 7.2 0a3.6 3.6 0 1 0 -7.2 0zM284.8 253.0a3.6 3.6 0 1 0 7.2 0a3.6 3.6 0 1 0 -7.2 0zM285.4 253.9a3.6 3.6 0 1 0 7.2 0a3.6 3.6 0 1 0 -7.2 0zM286.0 254.3a3.6 3.6 0 1 0 7.2 0a3.6 3.6 0 1 0 -7.2 0zM286.6 254.9a3.6 3.6 0 1 0 7.2 0a3.6 3.6 0 1 0 -7.2 0zM287.2 254.0a3.6 3.6 0 1 0 7.2 0a3.6 3.6 0 1 0 -7.2 0zM287.8 255.1a3.6 3.6 0 1 0 7.2 0a3.6 3.6 0 1 0 -7.2 0zM288.4 255.2a3.6 3.6 0 1 0 7.2 0a3.6 3.6 0 1 0 -7.2 0zM289.0 254.7a3.6 3.6 0 1 0 7.2 0a3.6 3.6 0 1 0 -7.2 0zM289.6 255.4a3.6 3.6 0 1 0 7.2 0a3.6 3.6 0 1 0 -7.2 0zM290.3 254.7a3.6 3.6 0 1 0 7.2 0a3.6 3.6 0 1 0 -7.2 0zM290.9 254.9a3.6 3.6 0 1 0 7.2 0a3.6 3.6 0 1 0 -7.2 0zM291.5 255.3a3.6 3.6 0 1 0 7.2 0a3.6 3.6 0 1 0 -7.2 0zM292.1 254.0a3.6 3.6 0 1 0 7.2 0a3.6 3.6 0 1 0 -7.2 0zM292.8 255.4a3.6 3.6 0 1 0 7.2 0a3.6 3.6 0 1 0 -7.2 0zM293.4 255.0a3.6 3.6 0 1 0 7.2 0a3.6 3.6 0 1 0 -7.2 0zM294.0 254.8a3.6 3.6 0 1 0 7.2 0a3.6 3.6 0 1 0 -7.2 0zM294.6 255.4a3.6 3.6 0 1 0 7.2 0a3.6 3.6 0 1 0 -7.2 0zM295.2 256.0a3.6 3.6 0 1 0 7.2 0a3.6 3.6 0 1 0 -7.2 0zM295.8 255.5a3.6 3.6 0 1 0 7.2 0a3.6 3.6 0 1 0 -7.2 0zM296.4 256.4a3.6 3.6 0 1 0 7.2 0a3.6 3.6 0 1 0 -7.2 0zM297.0 255.2a3.6 3.6 0 1 0 7.2 0a3.6 3.6 0 1 0 -7.2 0zM297.6 255.2a3.6 3.6 0 1 0 7.2 0a3.6 3.6 0 1 0 -7.2 0zM298.2 256.7a3.6 3.6 0 1 0 7.2 0a3.6 3.6 0 1 0 -7.2 0zM298.8 256.1a3.6 3.6 0 1 0 7.2 0a3.6 3.6 0 1 0 -7.2 0zM299.4 256.5a3.6 3.6 0 1 0 7.2 0a3.6 3.6 0 1 0 -7.2 0zM300.0 255.3a3.6 3.6 0 1 0 7.2 0a3.6 3.6 0 1 0 -7.2 0zM300.6 255.8a3.6 3.6 0 1 0 7.2 0a3.6 3.6 0 1 0 -7.2 0zM301.3 255.2a3.6 3.6 0 1 0 7.2 0a3.6 3.6 0 1 0 -7.2 0zM301.9 255.1a3.6 3.6 0 1 0 7.2 0a3.6 3.6 0 1 0 -7.2 0zM302.5 254.5a3.6 3.6 0 1 0 7.2 0a3.6 3.6 0 1 0 -7.2 0zM303.1 254.7a3.6 3.6 0 1 0 7.2 0a3.6 3.6 0 1 0 -7.2 0zM303.8 253.5a3.6 3.6 0 1 0 7.2 0a3.6 3.6 0 1 0 -7.2 0zM304.4 253.0a3.6 3.6 0 1 0 7.2 0a3.6 3.6 0 1 0 -7.2 0zM305.0 252.9a3.6 3.6 0 1 0 7.2 0a3.6 3.6 0 1 0 -7.2 0zM305.6 254.3a3.6 3.6 0 1 0 7.2 0a3.6 3.6 0 1 0 -7.2 0zM306.3 253.5a3.6 3.6 0 1 0 7.2 0a3.6 3.6 0 1 0 -7.2 0zM306.9 253.5a3.6 3.6 0 1 0 7.2 0a3.6 3.6 0 1 0 -7.2 0zM307.5 253.7a3.6 3.6 0 1 0 7.2 0a3.6 3.6 0 1 0 -7.2 0zM308.1 254.0a3.6 3.6 0 1 0 7.2 0a3.6 3.6 0 1 0 -7.2 0zM308.8 253.7a3.6 3.6 0 1 0 7.2 0a3.6 3.6 0 1 0 -7.2 0zM309.4 254.4a3.6 3.6 0 1 0 7.2 0a3.6 3.6 0 1 0 -7.2 0zM310.0 254.5a3.6 3.6 0 1 0 7.2 0a3.6 3.6 0 1 0 -7.2 0zM310.6 254.8a3.6 3.6 0 1 0 7.2 0a3.6 3.6 0 1 0 -7.2 0zM311.3 255.0a3.6 3.6 0 1 0 7.2 0a3.6 3.6 0 1 0 -7.2 0zM311.9 255.8a3.6 3.6 0 1 0 7.2 0a3.6 3.6 0 1 0 -7.2 0zM312.5 255.8a3.6 3.6 0 1 0 7.2 0a3.6 3.6 0 1 0 -7.2 0zM313.1 256.4a3.6 3.6 0 1 0 7.2 0a3.6 3.6 0 1 0 -7.2 0zM313.8 256.8a3.6 3.6 0 1 0 7.2 0a3.6 3.6 0 1 0 -7.2 0zM314.4 257.2a3.6 3.6 0 1 0 7.2 0a3.6 3.6 0 1 0 -7.2 0zM315.0 256.2a3.6 3.6 0 1 0 7.2 0a3.6 3.6 0 1 0 -7.2 0zM315.6 257.3a3.6 3.6 0 1 0 7.2 0a3.6 3.6 0 1 0 -7.2 0zM316.2 257.5a3.6 3.6 0 1 0 7.2 0a3.6 3.6 0 1 0 -7.2 0zM316.8 258.6a3.6 3.6 0 1 0 7.2 0a3.6 3.6 0 1 0 -7.2 0zM317.4 257.7a3.6 3.6 0 1 0 7.2 0a3.6 3.6 0 1 0 -7.2 0zM318.0 258.4a3.6 3.6 0 1 0 7.2 0a3.6 3.6 0 1 0 -7.2 0zM318.6 259.0a3.6 3.6 0 1 0 7.2 0a3.6 3.6 0 1 0 -7.2 0zM319.2 259.2a3.6 3.6 0 1 0 7.2 0a3.6 3.6 0 1 0 -7.2 0zM319.8 260.2a3.6 3.6 0 1 0 7.2 0a3.6 3.6 0 1 0 -7.2 0zM320.4 259.8a3.6 3.6 0 1 0 7.2 0a3.6 3.6 0 1 0 -7.2 0zM321.0 260.0a3.6 3.6 0 1 0 7.2 0a3.6 3.6 0 1 0 -7.2 0zM321.6 258.3a3.6 3.6 0 1 0 7.2 0a3.6 3.6 0 1 0 -7.2 0zM322.3 257.6a3.6 3.6 0 1 0 7.2 0a3.6 3.6 0 1 0 -7.2 0zM322.9 258.6a3.6 3.6 0 1 0 7.2 0a3.6 3.6 0 1 0 -7.2 0zM323.5 257.7a3.6 3.6 0 1 0 7.2 0a3.6 3.6 0 1 0 -7.2 0zM324.1 257.2a3.6 3.6 0 1 0 7.2 0a3.6 3.6 0 1 0 -7.2 0zM324.8 256.6a3.6 3.6 0 1 0 7.2 0a3.6 3.6 0 1 0 -7.2 0zM325.4 256.2a3.6 3.6 0 1 0 7.2 0a3.6 3.6 0 1 0 -7.2 0zM326.0 255.0a3.6 3.6 0 1 0 7.2 0a3.6 3.6 0 1 0 -7.2 0zM326.6 255.6a3.6 3.6 0 1 0 7.2 0a3.6 3.6 0 1 0 -7.2 0zM327.3 254.5a3.6 3.6 0 1 0 7.2 0a3.6 3.6 0 1 0 -7.2 0zM327.9 254.8a3.6 3.6 0 1 0 7.2 0a3.6 3.6 0 1 0 -7.2 0zM328.5 253.9a3.6 3.6 0 1 0 7.2 0a3.6 3.6 0 1 0 -7.2 0zM329.1 252.5a3.6 3.6 0 1 0 7.2 0a3.6 3.6 0 1 0 -7.2 0zM329.8 252.4a3.6 3.6 0 1 0 7.2 0a3.6 3.6 0 1 0 -7.2 0zM330.4 253.2a3.6 3.6 0 1 0 7.2 0a3.6 3.6 0 1 0 -7.2 0zM331.0 253.2a3.6 3.6 0 1 0 7.2 0a3.6 3.6 0 1 0 -7.2 0zM331.7 253.7a3.6 3.6 0 1 0 7.2 0a3.6 3.6 0 1 0 -7.2 0zM332.3 254.6a3.6 3.6 0 1 0 7.2 0a3.6 3.6 0 1 0 -7.2 0zM332.9 254.9a3.6 3.6 0 1 0 7.2 0a3.6 3.6 0 1 0 -7.2 0zM333.6 255.5a3.6 3.6 0 1 0 7.2 0a3.6 3.6 0 1 0 -7.2 0zM334.2 256.5a3.6 3.6 0 1 0 7.2 0a3.6 3.6 0 1 0 -7.2 0zM334.9 257.1a3.6 3.6 0 1 0 7.2 0a3.6 3.6 0 1 0 -7.2 0zM335.5 258.4a3.6 3.6 0 1 0 7.2 0a3.6 3.6 0 1 0 -7.2 0zM336.1 258.4a3.6 3.6 0 1 0 7.2 0a3.6 3.6 0 1 0 -7.2 0zM336.8 259.9a3.6 3.6 0 1 0 7.2 0a3.6 3.6 0 1 0 -7.2 0zM337.4 260.5a3.6 3.6 0 1 0 7.2 0a3.6 3.6 0 1 0 -7.2 0zM338.0 260.1a3.6 3.6 0 1 0 7.2 0a3.6 3.6 0 1 0 -7.2 0zM338.6 259.5a3.6 3.6 0 1 0 7.2 0a3.6 3.6 0 1 0 -7.2 0zM339.3 258.7a3.6 3.6 0 1 0 7.2 0a3.6 3.6 0 1 0 -7.2 0zM339.9 258.4a3.6 3.6 0 1 0 7.2 0a3.6 3.6 0 1 0 -7.2 0zM340.5 257.9a3.6 3.6 0 1 0 7.2 0a3.6 3.6 0 1 0 -7.2 0zM341.1 257.3a3.6 3.6 0 1 0 7.2 0a3.6 3.6 0 1 0 -7.2 0zM341.8 257.3a3.6 3.6 0 1 0 7.2 0a3.6 3.6 0 1 0 -7.2 0zM342.4 256.7a3.6 3.6 0 1 0 7.2 0a3.6 3.6 0 1 0 -7.2 0zM343.1 257.8a3.6 3.6 0 1 0 7.2 0a3.6 3.6 0 1 0 -7.2 0zM343.7 257.2a3.6 3.6 0 1 0 7.2 0a3.6 3.6 0 1 0 -7.2 0zM344.4 256.7a3.6 3.6 0 1 0 7.2 0a3.6 3.6 0 1 0 -7.2 0zM345.1 255.9a3.6 3.6 0 1 0 7.2 0a3.6 3.6 0 1 0 -7.2 0zM345.7 256.8a3.6 3.6 0 1 0 7.2 0a3.6 3.6 0 1 0 -7.2 0zM346.4 256.6a3.6 3.6 0 1 0 7.2 0a3.6 3.6 0 1 0 -7.2 0zM347.0 256.6a3.6 3.6 0 1 0 7.2 0a3.6 3.6 0 1 0 -7.2 0zM347.6 256.9a3.6 3.6 0 1 0 7.2 0a3.6 3.6 0 1 0 -7.2 0zM348.2 256.6a3.6 3.6 0 1 0 7.2 0a3.6 3.6 0 1 0 -7.2 0zM348.8 258.4a3.6 3.6 0 1 0 7.2 0a3.6 3.6 0 1 0 -7.2 0zM349.4 258.4a3.6 3.6 0 1 0 7.2 0a3.6 3.6 0 1 0 -7.2 0zM350.0 260.0a3.6 3.6 0 1 0 7.2 0a3.6 3.6 0 1 0 -7.2 0zM350.6 259.0a3.6 3.6 0 1 0 7.2 0a3.6 3.6 0 1 0 -7.2 0zM351.2 259.3a3.6 3.6 0 1 0 7.2 0a3.6 3.6 0 1 0 -7.2 0zM351.8 260.4a3.6 3.6 0 1 0 7.2 0a3.6 3.6 0 1 0 -7.2 0zM352.4 260.1a3.6 3.6 0 1 0 7.2 0a3.6 3.6 0 1 0 -7.2 0zM353.0 259.8a3.6 3.6 0 1 0 7.2 0a3.6 3.6 0 1 0 -7.2 0zM353.6 259.2a3.6 3.6 0 1 0 7.2 0a3.6 3.6 0 1 0 -7.2 0zM354.2 258.8a3.6 3.6 0 1 0 7.2 0a3.6 3.6 0 1 0 -7.2 0zM354.8 259.5a3.6 3.6 0 1 0 7.2 0a3.6 3.6 0 1 0 -7.2 0zM355.4 259.0a3.6 3.6 0 1 0 7.2 0a3.6 3.6 0 1 0 -7.2 0zM356.0 259.1a3.6 3.6 0 1 0 7.2 0a3.6 3.6 0 1 0 -7.2 0zM356.6 257.7a3.6 3.6 0 1 0 7.2 0a3.6 3.6 0 1 0 -7.2 0zM357.2 257.6a3.6 3.6 0 1 0 7.2 0a3.6 3.6 0 1 0 -7.2 0zM357.8 256.9a3.6 3.6 0 1 0 7.2 0a3.6 3.6 0 1 0 -7.2 0zM358.4 257.5a3.6 3.6 0 1 0 7.2 0a3.6 3.6 0 1 0 -7.2 0zM359.0 256.4a3.6 3.6 0 1 0 7.2 0a3.6 3.6 0 1 0 -7.2 0zM359.6 257.5a3.6 3.6 0 1 0 7.2 0a3.6 3.6 0 1 0 -7.2 0zM360.3 257.9a3.6 3.6 0 1 0 7.2 0a3.6 3.6 0 1 0 -7.2 0zM360.9 258.2a3.6 3.6 0 1 0 7.2 0a3.6 3.6 0 1 0 -7.2 0zM361.5 257.2a3.6 3.6 0 1 0 7.2 0a3.6 3.6 0 1 0 -7.2 0zM362.1 258.3a3.6 3.6 0 1 0 7.2 0a3.6 3.6 0 1 0 -7.2 0zM362.8 257.5a3.6 3.6 0 1 0 7.2 0a3.6 3.6 0 1 0 -7.2 0zM363.4 257.6a3.6 3.6 0 1 0 7.2 0a3.6 3.6 0 1 0 -7.2 0zM364.0 257.7a3.6 3.6 0 1 0 7.2 0a3.6 3.6 0 1 0 -7.2 0zM364.6 259.2a3.6 3.6 0 1 0 7.2 0a3.6 3.6 0 1 0 -7.2 0zM365.3 259.8a3.6 3.6 0 1 0 7.2 0a3.6 3.6 0 1 0 -7.2 0zM365.9 259.0a3.6 3.6 0 1 0 7.2 0a3.6 3.6 0 1 0 -7.2 0zM366.5 259.2a3.6 3.6 0 1 0 7.2 0a3.6 3.6 0 1 0 -7.2 0zM367.1 259.7a3.6 3.6 0 1 0 7.2 0a3.6 3.6 0 1 0 -7.2 0zM367.8 261.4a3.6 3.6 0 1 0 7.2 0a3.6 3.6 0 1 0 -7.2 0zM368.4 261.0a3.6 3.6 0 1 0 7.2 0a3.6 3.6 0 1 0 -7.2 0zM369.0 260.0a3.6 3.6 0 1 0 7.2 0a3.6 3.6 0 1 0 -7.2 0zM369.6 259.2a3.6 3.6 0 1 0 7.2 0a3.6 3.6 0 1 0 -7.2 0zM370.3 259.6a3.6 3.6 0 1 0 7.2 0a3.6 3.6 0 1 0 -7.2 0zM370.9 260.3a3.6 3.6 0 1 0 7.2 0a3.6 3.6 0 1 0 -7.2 0zM371.5 260.5a3.6 3.6 0 1 0 7.2 0a3.6 3.6 0 1 0 -7.2 0zM372.1 259.2a3.6 3.6 0 1 0 7.2 0a3.6 3.6 0 1 0 -7.2 0zM372.8 258.8a3.6 3.6 0 1 0 7.2 0a3.6 3.6 0 1 0 -7.2 0zM373.4 258.7a3.6 3.6 0 1 0 7.2 0a3.6 3.6 0 1 0 -7.2 0zM374.0 257.8a3.6 3.6 0 1 0 7.2 0a3.6 3.6 0 1 0 -7.2 0zM374.6 259.0a3.6 3.6 0 1 0 7.2 0a3.6 3.6 0 1 0 -7.2 0zM375.2 257.8a3.6 3.6 0 1 0 7.2 0a3.6 3.6 0 1 0 -7.2 0zM375.8 258.6a3.6 3.6 0 1 0 7.2 0a3.6 3.6 0 1 0 -7.2 0zM376.4 257.0a3.6 3.6 0 1 0 7.2 0a3.6 3.6 0 1 0 -7.2 0zM377.0 257.0a3.6 3.6 0 1 0 7.2 0a3.6 3.6 0 1 0 -7.2 0zM377.6 257.5a3.6 3.6 0 1 0 7.2 0a3.6 3.6 0 1 0 -7.2 0zM378.2 256.8a3.6 3.6 0 1 0 7.2 0a3.6 3.6 0 1 0 -7.2 0zM378.8 257.3a3.6 3.6 0 1 0 7.2 0a3.6 3.6 0 1 0 -7.2 0zM379.4 256.7a3.6 3.6 0 1 0 7.2 0a3.6 3.6 0 1 0 -7.2 0zM380.1 256.3a3.6 3.6 0 1 0 7.2 0a3.6 3.6 0 1 0 -7.2 0zM380.7 257.4a3.6 3.6 0 1 0 7.2 0a3.6 3.6 0 1 0 -7.2 0zM381.4 257.8a3.6 3.6 0 1 0 7.2 0a3.6 3.6 0 1 0 -7.2 0zM382.1 256.6a3.6 3.6 0 1 0 7.2 0a3.6 3.6 0 1 0 -7.2 0zM382.7 258.7a3.6 3.6 0 1 0 7.2 0a3.6 3.6 0 1 0 -7.2 0zM383.4 258.2a3.6 3.6 0 1 0 7.2 0a3.6 3.6 0 1 0 -7.2 0zM384.0 258.7a3.6 3.6 0 1 0 7.2 0a3.6 3.6 0 1 0 -7.2 0zM384.6 257.7a3.6 3.6 0 1 0 7.2 0a3.6 3.6 0 1 0 -7.2 0zM385.3 258.6a3.6 3.6 0 1 0 7.2 0a3.6 3.6 0 1 0 -7.2 0zM385.9 259.1a3.6 3.6 0 1 0 7.2 0a3.6 3.6 0 1 0 -7.2 0zM386.5 260.1a3.6 3.6 0 1 0 7.2 0a3.6 3.6 0 1 0 -7.2 0zM387.1 259.1a3.6 3.6 0 1 0 7.2 0a3.6 3.6 0 1 0 -7.2 0zM387.8 259.7a3.6 3.6 0 1 0 7.2 0a3.6 3.6 0 1 0 -7.2 0zM388.4 259.5a3.6 3.6 0 1 0 7.2 0a3.6 3.6 0 1 0 -7.2 0zM389.1 260.0a3.6 3.6 0 1 0 7.2 0a3.6 3.6 0 1 0 -7.2 0zM389.7 259.8a3.6 3.6 0 1 0 7.2 0a3.6 3.6 0 1 0 -7.2 0zM390.4 258.4a3.6 3.6 0 1 0 7.2 0a3.6 3.6 0 1 0 -7.2 0zM391.1 258.5a3.6 3.6 0 1 0 7.2 0a3.6 3.6 0 1 0 -7.2 0zM391.7 258.7a3.6 3.6 0 1 0 7.2 0a3.6 3.6 0 1 0 -7.2 0zM392.4 258.8a3.6 3.6 0 1 0 7.2 0a3.6 3.6 0 1 0 -7.2 0zM393.1 257.7a3.6 3.6 0 1 0 7.2 0a3.6 3.6 0 1 0 -7.2 0zM393.7 256.6a3.6 3.6 0 1 0 7.2 0a3.6 3.6 0 1 0 -7.2 0zM394.4 255.6a3.6 3.6 0 1 0 7.2 0a3.6 3.6 0 1 0 -7.2 0zM395.1 255.1a3.6 3.6 0 1 0 7.2 0a3.6 3.6 0 1 0 -7.2 0zM395.7 254.7a3.6 3.6 0 1 0 7.2 0a3.6 3.6 0 1 0 -7.2 0zM396.4 254.5a3.6 3.6 0 1 0 7.2 0a3.6 3.6 0 1 0 -7.2 0zM397.0 254.0a3.6 3.6 0 1 0 7.2 0a3.6 3.6 0 1 0 -7.2 0zM397.6 255.0a3.6 3.6 0 1 0 7.2 0a3.6 3.6 0 1 0 -7.2 0zM398.3 253.5a3.6 3.6 0 1 0 7.2 0a3.6 3.6 0 1 0 -7.2 0zM398.9 252.0a3.6 3.6 0 1 0 7.2 0a3.6 3.6 0 1 0 -7.2 0zM399.5 253.7a3.6 3.6 0 1 0 7.2 0a3.6 3.6 0 1 0 -7.2 0zM400.1 252.8a3.6 3.6 0 1 0 7.2 0a3.6 3.6 0 1 0 -7.2 0zM400.8 251.8a3.6 3.6 0 1 0 7.2 0a3.6 3.6 0 1 0 -7.2 0zM401.4 250.7a3.6 3.6 0 1 0 7.2 0a3.6 3.6 0 1 0 -7.2 0zM401.7 248.1a3.6 3.6 0 1 0 7.2 0a3.6 3.6 0 1 0 -7.2 0zM402.0 247.2a3.6 3.6 0 1 0 7.2 0a3.6 3.6 0 1 0 -7.2 0zM402.3 247.0a3.6 3.6 0 1 0 7.2 0a3.6 3.6 0 1 0 -7.2 0zM402.6 244.0a3.6 3.6 0 1 0 7.2 0a3.6 3.6 0 1 0 -7.2 0zM402.9 241.9a3.6 3.6 0 1 0 7.2 0a3.6 3.6 0 1 0 -7.2 0zM403.3 241.7a3.6 3.6 0 1 0 7.2 0a3.6 3.6 0 1 0 -7.2 0zM403.6 240.2a3.6 3.6 0 1 0 7.2 0a3.6 3.6 0 1 0 -7.2 0zM404.0 239.0a3.6 3.6 0 1 0 7.2 0a3.6 3.6 0 1 0 -7.2 0zM404.4 237.5a3.6 3.6 0 1 0 7.2 0a3.6 3.6 0 1 0 -7.2 0zM405.2 236.9a3.6 3.6 0 1 0 7.2 0a3.6 3.6 0 1 0 -7.2 0zM406.1 233.8a3.6 3.6 0 1 0 7.2 0a3.6 3.6 0 1 0 -7.2 0zM406.8 235.7a3.6 3.6 0 1 0 7.2 0a3.6 3.6 0 1 0 -7.2 0zM407.5 234.6a3.6 3.6 0 1 0 7.2 0a3.6 3.6 0 1 0 -7.2 0zM408.3 236.3a3.6 3.6 0 1 0 7.2 0a3.6 3.6 0 1 0 -7.2 0zM409.0 236.3a3.6 3.6 0 1 0 7.2 0a3.6 3.6 0 1 0 -7.2 0zM409.7 236.9a3.6 3.6 0 1 0 7.2 0a3.6 3.6 0 1 0 -7.2 0zM410.4 237.9a3.6 3.6 0 1 0 7.2 0a3.6 3.6 0 1 0 -7.2 0zM411.0 237.6a3.6 3.6 0 1 0 7.2 0a3.6 3.6 0 1 0 -7.2 0zM411.7 239.0a3.6 3.6 0 1 0 7.2 0a3.6 3.6 0 1 0 -7.2 0zM412.4 239.3a3.6 3.6 0 1 0 7.2 0a3.6 3.6 0 1 0 -7.2 0zM413.0 239.2a3.6 3.6 0 1 0 7.2 0a3.6 3.6 0 1 0 -7.2 0zM413.7 239.1a3.6 3.6 0 1 0 7.2 0a3.6 3.6 0 1 0 -7.2 0zM414.4 239.4a3.6 3.6 0 1 0 7.2 0a3.6 3.6 0 1 0 -7.2 0zM415.0 239.9a3.6 3.6 0 1 0 7.2 0a3.6 3.6 0 1 0 -7.2 0zM415.7 240.4a3.6 3.6 0 1 0 7.2 0a3.6 3.6 0 1 0 -7.2 0zM416.3 240.8a3.6 3.6 0 1 0 7.2 0a3.6 3.6 0 1 0 -7.2 0zM416.9 243.5a3.6 3.6 0 1 0 7.2 0a3.6 3.6 0 1 0 -7.2 0zM417.6 241.9a3.6 3.6 0 1 0 7.2 0a3.6 3.6 0 1 0 -7.2 0zM418.2 242.3a3.6 3.6 0 1 0 7.2 0a3.6 3.6 0 1 0 -7.2 0zM418.9 241.2a3.6 3.6 0 1 0 7.2 0a3.6 3.6 0 1 0 -7.2 0zM419.5 241.6a3.6 3.6 0 1 0 7.2 0a3.6 3.6 0 1 0 -7.2 0zM420.1 242.2a3.6 3.6 0 1 0 7.2 0a3.6 3.6 0 1 0 -7.2 0zM420.8 242.9a3.6 3.6 0 1 0 7.2 0a3.6 3.6 0 1 0 -7.2 0zM421.4 242.2a3.6 3.6 0 1 0 7.2 0a3.6 3.6 0 1 0 -7.2 0zM422.0 244.4a3.6 3.6 0 1 0 7.2 0a3.6 3.6 0 1 0 -7.2 0zM422.6 242.8a3.6 3.6 0 1 0 7.2 0a3.6 3.6 0 1 0 -7.2 0zM423.2 244.2a3.6 3.6 0 1 0 7.2 0a3.6 3.6 0 1 0 -7.2 0zM423.8 241.6a3.6 3.6 0 1 0 7.2 0a3.6 3.6 0 1 0 -7.2 0zM424.4 243.6a3.6 3.6 0 1 0 7.2 0a3.6 3.6 0 1 0 -7.2 0zM425.0 244.0a3.6 3.6 0 1 0 7.2 0a3.6 3.6 0 1 0 -7.2 0zM425.6 244.0a3.6 3.6 0 1 0 7.2 0a3.6 3.6 0 1 0 -7.2 0zM426.2 244.5a3.6 3.6 0 1 0 7.2 0a3.6 3.6 0 1 0 -7.2 0zM426.8 244.3a3.6 3.6 0 1 0 7.2 0a3.6 3.6 0 1 0 -7.2 0zM427.4 244.4a3.6 3.6 0 1 0 7.2 0a3.6 3.6 0 1 0 -7.2 0zM428.0 242.9a3.6 3.6 0 1 0 7.2 0a3.6 3.6 0 1 0 -7.2 0zM428.6 243.9a3.6 3.6 0 1 0 7.2 0a3.6 3.6 0 1 0 -7.2 0zM429.2 242.8a3.6 3.6 0 1 0 7.2 0a3.6 3.6 0 1 0 -7.2 0zM429.8 245.3a3.6 3.6 0 1 0 7.2 0a3.6 3.6 0 1 0 -7.2 0zM430.4 245.1a3.6 3.6 0 1 0 7.2 0a3.6 3.6 0 1 0 -7.2 0zM431.0 244.8a3.6 3.6 0 1 0 7.2 0a3.6 3.6 0 1 0 -7.2 0zM431.6 244.5a3.6 3.6 0 1 0 7.2 0a3.6 3.6 0 1 0 -7.2 0zM432.2 244.8a3.6 3.6 0 1 0 7.2 0a3.6 3.6 0 1 0 -7.2 0zM432.8 246.9a3.6 3.6 0 1 0 7.2 0a3.6 3.6 0 1 0 -7.2 0zM433.4 246.9a3.6 3.6 0 1 0 7.2 0a3.6 3.6 0 1 0 -7.2 0zM434.0 245.5a3.6 3.6 0 1 0 7.2 0a3.6 3.6 0 1 0 -7.2 0zM434.6 246.7a3.6 3.6 0 1 0 7.2 0a3.6 3.6 0 1 0 -7.2 0zM435.3 244.5a3.6 3.6 0 1 0 7.2 0a3.6 3.6 0 1 0 -7.2 0zM435.9 244.3a3.6 3.6 0 1 0 7.2 0a3.6 3.6 0 1 0 -7.2 0zM436.5 245.6a3.6 3.6 0 1 0 7.2 0a3.6 3.6 0 1 0 -7.2 0zM437.1 245.4a3.6 3.6 0 1 0 7.2 0a3.6 3.6 0 1 0 -7.2 0zM437.7 245.7a3.6 3.6 0 1 0 7.2 0a3.6 3.6 0 1 0 -7.2 0zM438.4 246.4a3.6 3.6 0 1 0 7.2 0a3.6 3.6 0 1 0 -7.2 0zM439.0 248.8a3.6 3.6 0 1 0 7.2 0a3.6 3.6 0 1 0 -7.2 0zM439.6 245.9a3.6 3.6 0 1 0 7.2 0a3.6 3.6 0 1 0 -7.2 0zM440.2 246.6a3.6 3.6 0 1 0 7.2 0a3.6 3.6 0 1 0 -7.2 0zM440.8 246.9a3.6 3.6 0 1 0 7.2 0a3.6 3.6 0 1 0 -7.2 0zM441.4 246.7a3.6 3.6 0 1 0 7.2 0a3.6 3.6 0 1 0 -7.2 0zM442.1 247.6a3.6 3.6 0 1 0 7.2 0a3.6 3.6 0 1 0 -7.2 0zM442.7 248.3a3.6 3.6 0 1 0 7.2 0a3.6 3.6 0 1 0 -7.2 0zM443.3 246.0a3.6 3.6 0 1 0 7.2 0a3.6 3.6 0 1 0 -7.2 0zM443.9 247.2a3.6 3.6 0 1 0 7.2 0a3.6 3.6 0 1 0 -7.2 0zM444.5 247.0a3.6 3.6 0 1 0 7.2 0a3.6 3.6 0 1 0 -7.2 0zM445.2 247.6a3.6 3.6 0 1 0 7.2 0a3.6 3.6 0 1 0 -7.2 0zM445.8 246.2a3.6 3.6 0 1 0 7.2 0a3.6 3.6 0 1 0 -7.2 0zM446.4 246.1a3.6 3.6 0 1 0 7.2 0a3.6 3.6 0 1 0 -7.2 0zM447.0 245.7a3.6 3.6 0 1 0 7.2 0a3.6 3.6 0 1 0 -7.2 0zM447.6 248.0a3.6 3.6 0 1 0 7.2 0a3.6 3.6 0 1 0 -7.2 0zM448.2 247.7a3.6 3.6 0 1 0 7.2 0a3.6 3.6 0 1 0 -7.2 0zM448.8 247.7a3.6 3.6 0 1 0 7.2 0a3.6 3.6 0 1 0 -7.2 0zM449.4 245.8a3.6 3.6 0 1 0 7.2 0a3.6 3.6 0 1 0 -7.2 0zM450.0 247.4a3.6 3.6 0 1 0 7.2 0a3.6 3.6 0 1 0 -7.2 0zM450.6 247.1a3.6 3.6 0 1 0 7.2 0a3.6 3.6 0 1 0 -7.2 0zM451.2 246.6a3.6 3.6 0 1 0 7.2 0a3.6 3.6 0 1 0 -7.2 0zM451.9 247.0a3.6 3.6 0 1 0 7.2 0a3.6 3.6 0 1 0 -7.2 0zM452.5 248.4a3.6 3.6 0 1 0 7.2 0a3.6 3.6 0 1 0 -7.2 0zM453.1 248.3a3.6 3.6 0 1 0 7.2 0a3.6 3.6 0 1 0 -7.2 0zM453.7 247.8a3.6 3.6 0 1 0 7.2 0a3.6 3.6 0 1 0 -7.2 0zM454.3 248.3a3.6 3.6 0 1 0 7.2 0a3.6 3.6 0 1 0 -7.2 0zM454.9 247.4a3.6 3.6 0 1 0 7.2 0a3.6 3.6 0 1 0 -7.2 0zM455.5 248.0a3.6 3.6 0 1 0 7.2 0a3.6 3.6 0 1 0 -7.2 0zM456.1 248.0a3.6 3.6 0 1 0 7.2 0a3.6 3.6 0 1 0 -7.2 0zM456.7 248.5a3.6 3.6 0 1 0 7.2 0a3.6 3.6 0 1 0 -7.2 0zM457.3 248.0a3.6 3.6 0 1 0 7.2 0a3.6 3.6 0 1 0 -7.2 0zM457.9 248.0a3.6 3.6 0 1 0 7.2 0a3.6 3.6 0 1 0 -7.2 0zM458.5 248.0a3.6 3.6 0 1 0 7.2 0a3.6 3.6 0 1 0 -7.2 0zM459.1 247.6a3.6 3.6 0 1 0 7.2 0a3.6 3.6 0 1 0 -7.2 0zM459.7 250.0a3.6 3.6 0 1 0 7.2 0a3.6 3.6 0 1 0 -7.2 0zM460.3 248.6a3.6 3.6 0 1 0 7.2 0a3.6 3.6 0 1 0 -7.2 0zM460.9 248.6a3.6 3.6 0 1 0 7.2 0a3.6 3.6 0 1 0 -7.2 0zM461.6 250.1a3.6 3.6 0 1 0 7.2 0a3.6 3.6 0 1 0 -7.2 0zM462.2 249.4a3.6 3.6 0 1 0 7.2 0a3.6 3.6 0 1 0 -7.2 0zM462.8 247.1a3.6 3.6 0 1 0 7.2 0a3.6 3.6 0 1 0 -7.2 0zM463.4 248.9a3.6 3.6 0 1 0 7.2 0a3.6 3.6 0 1 0 -7.2 0zM464.0 249.0a3.6 3.6 0 1 0 7.2 0a3.6 3.6 0 1 0 -7.2 0zM464.6 249.9a3.6 3.6 0 1 0 7.2 0a3.6 3.6 0 1 0 -7.2 0zM465.2 249.5a3.6 3.6 0 1 0 7.2 0a3.6 3.6 0 1 0 -7.2 0zM465.8 249.1a3.6 3.6 0 1 0 7.2 0a3.6 3.6 0 1 0 -7.2 0zM466.4 247.6a3.6 3.6 0 1 0 7.2 0a3.6 3.6 0 1 0 -7.2 0zM467.0 247.8a3.6 3.6 0 1 0 7.2 0a3.6 3.6 0 1 0 -7.2 0zM467.6 248.8a3.6 3.6 0 1 0 7.2 0a3.6 3.6 0 1 0 -7.2 0zM468.2 249.0a3.6 3.6 0 1 0 7.2 0a3.6 3.6 0 1 0 -7.2 0zM468.8 247.8a3.6 3.6 0 1 0 7.2 0a3.6 3.6 0 1 0 -7.2 0zM469.4 248.3a3.6 3.6 0 1 0 7.2 0a3.6 3.6 0 1 0 -7.2 0zM470.1 248.4a3.6 3.6 0 1 0 7.2 0a3.6 3.6 0 1 0 -7.2 0zM470.7 248.8a3.6 3.6 0 1 0 7.2 0a3.6 3.6 0 1 0 -7.2 0zM471.3 249.0a3.6 3.6 0 1 0 7.2 0a3.6 3.6 0 1 0 -7.2 0zM471.9 248.5a3.6 3.6 0 1 0 7.2 0a3.6 3.6 0 1 0 -7.2 0zM472.5 247.8a3.6 3.6 0 1 0 7.2 0a3.6 3.6 0 1 0 -7.2 0zM473.1 249.8a3.6 3.6 0 1 0 7.2 0a3.6 3.6 0 1 0 -7.2 0zM473.7 250.1a3.6 3.6 0 1 0 7.2 0a3.6 3.6 0 1 0 -7.2 0zM474.3 248.8a3.6 3.6 0 1 0 7.2 0a3.6 3.6 0 1 0 -7.2 0zM474.9 249.7a3.6 3.6 0 1 0 7.2 0a3.6 3.6 0 1 0 -7.2 0zM475.5 249.3a3.6 3.6 0 1 0 7.2 0a3.6 3.6 0 1 0 -7.2 0zM476.2 249.5a3.6 3.6 0 1 0 7.2 0a3.6 3.6 0 1 0 -7.2 0zM476.8 249.4a3.6 3.6 0 1 0 7.2 0a3.6 3.6 0 1 0 -7.2 0zM477.4 248.4a3.6 3.6 0 1 0 7.2 0a3.6 3.6 0 1 0 -7.2 0zM478.0 249.5a3.6 3.6 0 1 0 7.2 0a3.6 3.6 0 1 0 -7.2 0zM478.6 249.9a3.6 3.6 0 1 0 7.2 0a3.6 3.6 0 1 0 -7.2 0zM479.2 248.4a3.6 3.6 0 1 0 7.2 0a3.6 3.6 0 1 0 -7.2 0zM479.8 250.7a3.6 3.6 0 1 0 7.2 0a3.6 3.6 0 1 0 -7.2 0zM480.4 250.8a3.6 3.6 0 1 0 7.2 0a3.6 3.6 0 1 0 -7.2 0zM481.0 250.7a3.6 3.6 0 1 0 7.2 0a3.6 3.6 0 1 0 -7.2 0zM481.6 250.8a3.6 3.6 0 1 0 7.2 0a3.6 3.6 0 1 0 -7.2 0zM482.3 249.9a3.6 3.6 0 1 0 7.2 0a3.6 3.6 0 1 0 -7.2 0zM482.9 249.0a3.6 3.6 0 1 0 7.2 0a3.6 3.6 0 1 0 -7.2 0zM483.5 248.8a3.6 3.6 0 1 0 7.2 0a3.6 3.6 0 1 0 -7.2 0zM484.1 248.7a3.6 3.6 0 1 0 7.2 0a3.6 3.6 0 1 0 -7.2 0zM484.7 249.5a3.6 3.6 0 1 0 7.2 0a3.6 3.6 0 1 0 -7.2 0zM485.3 249.4a3.6 3.6 0 1 0 7.2 0a3.6 3.6 0 1 0 -7.2 0zM485.9 250.0a3.6 3.6 0 1 0 7.2 0a3.6 3.6 0 1 0 -7.2 0zM486.5 247.8a3.6 3.6 0 1 0 7.2 0a3.6 3.6 0 1 0 -7.2 0zM487.1 251.3a3.6 3.6 0 1 0 7.2 0a3.6 3.6 0 1 0 -7.2 0zM487.7 251.3a3.6 3.6 0 1 0 7.2 0a3.6 3.6 0 1 0 -7.2 0zM488.4 249.5a3.6 3.6 0 1 0 7.2 0a3.6 3.6 0 1 0 -7.2 0zM489.0 250.1a3.6 3.6 0 1 0 7.2 0a3.6 3.6 0 1 0 -7.2 0zM489.6 250.0a3.6 3.6 0 1 0 7.2 0a3.6 3.6 0 1 0 -7.2 0zM490.2 249.9a3.6 3.6 0 1 0 7.2 0a3.6 3.6 0 1 0 -7.2 0zM490.8 249.5a3.6 3.6 0 1 0 7.2 0a3.6 3.6 0 1 0 -7.2 0zM491.4 249.6a3.6 3.6 0 1 0 7.2 0a3.6 3.6 0 1 0 -7.2 0zM492.0 249.0a3.6 3.6 0 1 0 7.2 0a3.6 3.6 0 1 0 -7.2 0zM492.6 249.9a3.6 3.6 0 1 0 7.2 0a3.6 3.6 0 1 0 -7.2 0zM493.2 249.7a3.6 3.6 0 1 0 7.2 0a3.6 3.6 0 1 0 -7.2 0zM493.8 250.0a3.6 3.6 0 1 0 7.2 0a3.6 3.6 0 1 0 -7.2 0zM494.4 249.1a3.6 3.6 0 1 0 7.2 0a3.6 3.6 0 1 0 -7.2 0zM495.0 249.8a3.6 3.6 0 1 0 7.2 0a3.6 3.6 0 1 0 -7.2 0zM495.6 249.8a3.6 3.6 0 1 0 7.2 0a3.6 3.6 0 1 0 -7.2 0zM496.2 250.3a3.6 3.6 0 1 0 7.2 0a3.6 3.6 0 1 0 -7.2 0zM496.8 248.9a3.6 3.6 0 1 0 7.2 0a3.6 3.6 0 1 0 -7.2 0zM497.4 250.1a3.6 3.6 0 1 0 7.2 0a3.6 3.6 0 1 0 -7.2 0zM498.0 250.6a3.6 3.6 0 1 0 7.2 0a3.6 3.6 0 1 0 -7.2 0zM498.6 250.3a3.6 3.6 0 1 0 7.2 0a3.6 3.6 0 1 0 -7.2 0zM499.2 249.5a3.6 3.6 0 1 0 7.2 0a3.6 3.6 0 1 0 -7.2 0zM499.8 249.4a3.6 3.6 0 1 0 7.2 0a3.6 3.6 0 1 0 -7.2 0zM500.4 249.6a3.6 3.6 0 1 0 7.2 0a3.6 3.6 0 1 0 -7.2 0zM501.0 250.4a3.6 3.6 0 1 0 7.2 0a3.6 3.6 0 1 0 -7.2 0zM501.6 251.1a3.6 3.6 0 1 0 7.2 0a3.6 3.6 0 1 0 -7.2 0zM502.2 249.7a3.6 3.6 0 1 0 7.2 0a3.6 3.6 0 1 0 -7.2 0zM502.8 249.3a3.6 3.6 0 1 0 7.2 0a3.6 3.6 0 1 0 -7.2 0zM503.4 250.2a3.6 3.6 0 1 0 7.2 0a3.6 3.6 0 1 0 -7.2 0zM504.0 250.0a3.6 3.6 0 1 0 7.2 0a3.6 3.6 0 1 0 -7.2 0zM504.6 249.2a3.6 3.6 0 1 0 7.2 0a3.6 3.6 0 1 0 -7.2 0zM505.2 249.3a3.6 3.6 0 1 0 7.2 0a3.6 3.6 0 1 0 -7.2 0zM505.8 249.8a3.6 3.6 0 1 0 7.2 0a3.6 3.6 0 1 0 -7.2 0zM506.4 250.5a3.6 3.6 0 1 0 7.2 0a3.6 3.6 0 1 0 -7.2 0zM507.0 249.0a3.6 3.6 0 1 0 7.2 0a3.6 3.6 0 1 0 -7.2 0zM507.6 249.1a3.6 3.6 0 1 0 7.2 0a3.6 3.6 0 1 0 -7.2 0zM508.2 250.3a3.6 3.6 0 1 0 7.2 0a3.6 3.6 0 1 0 -7.2 0zM508.8 249.0a3.6 3.6 0 1 0 7.2 0a3.6 3.6 0 1 0 -7.2 0zM509.4 250.0a3.6 3.6 0 1 0 7.2 0a3.6 3.6 0 1 0 -7.2 0zM510.0 250.2a3.6 3.6 0 1 0 7.2 0a3.6 3.6 0 1 0 -7.2 0zM510.6 249.9a3.6 3.6 0 1 0 7.2 0a3.6 3.6 0 1 0 -7.2 0zM511.2 249.2a3.6 3.6 0 1 0 7.2 0a3.6 3.6 0 1 0 -7.2 0zM511.8 249.9a3.6 3.6 0 1 0 7.2 0a3.6 3.6 0 1 0 -7.2 0zM512.4 250.0a3.6 3.6 0 1 0 7.2 0a3.6 3.6 0 1 0 -7.2 0z"/><path fill="#A05CF4" d="M138.2 204.6l3.6 3.6l-3.6 3.6l-3.6-3.6zM142.6 201.3l3.6 3.6l-3.6 3.6l-3.6-3.6zM147.0 196.9l3.6 3.6l-3.6 3.6l-3.6-3.6zM150.3 199.1l3.6 3.6l-3.6 3.6l-3.6-3.6zM153.5 203.5l3.6 3.6l-3.6 3.6l-3.6-3.6zM160.1 187.1l3.6 3.6l-3.6 3.6l-3.6-3.6zM163.4 176.1l3.6 3.6l-3.6 3.6l-3.6-3.6zM166.7 172.9l3.6 3.6l-3.6 3.6l-3.6-3.6zM170.0 177.2l3.6 3.6l-3.6 3.6l-3.6-3.6zM173.2 181.6l3.6 3.6l-3.6 3.6l-3.6-3.6zM175.4 187.1l3.6 3.6l-3.6 3.6l-3.6-3.6zM176.5 193.7l3.6 3.6l-3.6 3.6l-3.6-3.6zM177.6 198.0l3.6 3.6l-3.6 3.6l-3.6-3.6zM178.7 163.0l3.6 3.6l-3.6 3.6l-3.6-3.6zM180.9 158.6l3.6 3.6l-3.6 3.6l-3.6-3.6zM182.0 152.1l3.6 3.6l-3.6 3.6l-3.6-3.6zM184.2 148.8l3.6 3.6l-3.6 3.6l-3.6-3.6zM186.4 154.2l3.6 3.6l-3.6 3.6l-3.6-3.6zM188.6 160.8l3.6 3.6l-3.6 3.6l-3.6-3.6zM190.8 165.2l3.6 3.6l-3.6 3.6l-3.6-3.6zM194.1 171.8l3.6 3.6l-3.6 3.6l-3.6-3.6zM193.0 178.3l3.6 3.6l-3.6 3.6l-3.6-3.6zM191.9 184.9l3.6 3.6l-3.6 3.6l-3.6-3.6zM190.8 189.3l3.6 3.6l-3.6 3.6l-3.6-3.6zM196.2 145.5l3.6 3.6l-3.6 3.6l-3.6-3.6zM199.5 142.2l3.6 3.6l-3.6 3.6l-3.6-3.6zM195.1 152.1l3.6 3.6l-3.6 3.6l-3.6-3.6zM167.8 181.6l3.6 3.6l-3.6 3.6l-3.6-3.6zM174.3 191.5l3.6 3.6l-3.6 3.6l-3.6-3.6zM213.8 138.9l3.6 3.6l-3.6 3.6l-3.6-3.6zM217.0 145.5l3.6 3.6l-3.6 3.6l-3.6-3.6zM220.3 152.1l3.6 3.6l-3.6 3.6l-3.6-3.6zM222.5 160.8l3.6 3.6l-3.6 3.6l-3.6-3.6zM223.6 167.4l3.6 3.6l-3.6 3.6l-3.6-3.6zM224.7 174.0l3.6 3.6l-3.6 3.6l-3.6-3.6zM225.8 178.3l3.6 3.6l-3.6 3.6l-3.6-3.6zM225.8 184.9l3.6 3.6l-3.6 3.6l-3.6-3.6zM226.9 191.5l3.6 3.6l-3.6 3.6l-3.6-3.6zM209.4 178.3l3.6 3.6l-3.6 3.6l-3.6-3.6zM209.4 184.9l3.6 3.6l-3.6 3.6l-3.6-3.6zM233.5 152.1l3.6 3.6l-3.6 3.6l-3.6-3.6zM245.5 165.2l3.6 3.6l-3.6 3.6l-3.6-3.6zM248.8 178.3l3.6 3.6l-3.6 3.6l-3.6-3.6zM257.6 187.1l3.6 3.6l-3.6 3.6l-3.6-3.6zM277.3 193.7l3.6 3.6l-3.6 3.6l-3.6-3.6zM281.6 199.1l3.6 3.6l-3.6 3.6l-3.6-3.6zM290.4 142.2l3.6 3.6l-3.6 3.6l-3.6-3.6zM346.1 200.2l3.6 3.6l-3.6 3.6l-3.6-3.6zM349.4 202.4l3.6 3.6l-3.6 3.6l-3.6-3.6zM366.9 193.7l3.6 3.6l-3.6 3.6l-3.6-3.6zM370.2 189.3l3.6 3.6l-3.6 3.6l-3.6-3.6zM373.5 195.9l3.6 3.6l-3.6 3.6l-3.6-3.6zM377.8 202.4l3.6 3.6l-3.6 3.6l-3.6-3.6zM71.4 240.7l3.6 3.6l-3.6 3.6l-3.6-3.6zM74.7 242.9l3.6 3.6l-3.6 3.6l-3.6-3.6zM79.1 245.0l3.6 3.6l-3.6 3.6l-3.6-3.6zM82.4 246.1l3.6 3.6l-3.6 3.6l-3.6-3.6zM138.2 206.7l3.6 3.6l-3.6 3.6l-3.6-3.6zM147.0 200.2l3.6 3.6l-3.6 3.6l-3.6-3.6zM151.4 202.3l3.6 3.6l-3.6 3.6l-3.6-3.6zM155.7 206.7l3.6 3.6l-3.6 3.6l-3.6-3.6zM173.2 194.7l3.6 3.6l-3.6 3.6l-3.6-3.6zM174.3 201.3l3.6 3.6l-3.6 3.6l-3.6-3.6zM191.9 192.5l3.6 3.6l-3.6 3.6l-3.6-3.6zM142.6 222.1l3.6 3.6l-3.6 3.6l-3.6-3.6zM284.9 254.9l3.6 3.6l-3.6 3.6l-3.6-3.6zM292.6 254.9l3.6 3.6l-3.6 3.6l-3.6-3.6zM294.8 269.1l3.6 3.6l-3.6 3.6l-3.6-3.6zM293.7 244.0l3.6 3.6l-3.6 3.6l-3.6-3.6zM225.8 192.5l3.6 3.6l-3.6 3.6l-3.6-3.6zM243.3 199.1l3.6 3.6l-3.6 3.6l-3.6-3.6zM261.9 204.5l3.6 3.6l-3.6 3.6l-3.6-3.6zM279.5 198.0l3.6 3.6l-3.6 3.6l-3.6-3.6zM283.8 195.8l3.6 3.6l-3.6 3.6l-3.6-3.6zM301.4 207.8l3.6 3.6l-3.6 3.6l-3.6-3.6zM323.2 213.3l3.6 3.6l-3.6 3.6l-3.6-3.6zM326.5 222.1l3.6 3.6l-3.6 3.6l-3.6-3.6zM336.4 212.2l3.6 3.6l-3.6 3.6l-3.6-3.6zM338.6 207.8l3.6 3.6l-3.6 3.6l-3.6-3.6zM343.0 223.2l3.6 3.6l-3.6 3.6l-3.6-3.6zM351.7 200.2l3.6 3.6l-3.6 3.6l-3.6-3.6zM321.1 224.2l3.6 3.6l-3.6 3.6l-3.6-3.6zM327.6 226.4l3.6 3.6l-3.6 3.6l-3.6-3.6zM286.0 276.6l3.6 3.6l-3.6 3.6l-3.6-3.6zM294.3 290.8l3.6 3.6l-3.6 3.6l-3.6-3.6zM60.0 214.9l3.6 3.6l-3.6 3.6l-3.6-3.6zM60.8 215.5l3.6 3.6l-3.6 3.6l-3.6-3.6zM61.5 215.7l3.6 3.6l-3.6 3.6l-3.6-3.6zM62.2 218.0l3.6 3.6l-3.6 3.6l-3.6-3.6zM63.0 216.7l3.6 3.6l-3.6 3.6l-3.6-3.6zM63.8 222.8l3.6 3.6l-3.6 3.6l-3.6-3.6zM64.5 221.8l3.6 3.6l-3.6 3.6l-3.6-3.6zM65.2 226.3l3.6 3.6l-3.6 3.6l-3.6-3.6zM66.0 231.8l3.6 3.6l-3.6 3.6l-3.6-3.6zM66.8 229.6l3.6 3.6l-3.6 3.6l-3.6-3.6zM67.6 231.6l3.6 3.6l-3.6 3.6l-3.6-3.6zM68.4 235.1l3.6 3.6l-3.6 3.6l-3.6-3.6zM69.2 234.8l3.6 3.6l-3.6 3.6l-3.6-3.6zM70.0 235.1l3.6 3.6l-3.6 3.6l-3.6-3.6zM70.8 237.4l3.6 3.6l-3.6 3.6l-3.6-3.6zM71.6 238.5l3.6 3.6l-3.6 3.6l-3.6-3.6zM72.4 239.3l3.6 3.6l-3.6 3.6l-3.6-3.6zM73.1 237.4l3.6 3.6l-3.6 3.6l-3.6-3.6zM73.9 242.1l3.6 3.6l-3.6 3.6l-3.6-3.6zM74.7 242.5l3.6 3.6l-3.6 3.6l-3.6-3.6zM75.5 240.4l3.6 3.6l-3.6 3.6l-3.6-3.6zM76.2 241.5l3.6 3.6l-3.6 3.6l-3.6-3.6zM77.0 241.0l3.6 3.6l-3.6 3.6l-3.6-3.6zM77.8 244.7l3.6 3.6l-3.6 3.6l-3.6-3.6zM78.5 241.9l3.6 3.6l-3.6 3.6l-3.6-3.6zM79.2 244.8l3.6 3.6l-3.6 3.6l-3.6-3.6zM80.0 243.6l3.6 3.6l-3.6 3.6l-3.6-3.6zM80.7 243.8l3.6 3.6l-3.6 3.6l-3.6-3.6zM81.4 246.6l3.6 3.6l-3.6 3.6l-3.6-3.6zM82.2 248.2l3.6 3.6l-3.6 3.6l-3.6-3.6zM82.9 246.6l3.6 3.6l-3.6 3.6l-3.6-3.6zM83.6 246.1l3.6 3.6l-3.6 3.6l-3.6-3.6zM84.3 249.0l3.6 3.6l-3.6 3.6l-3.6-3.6zM85.0 247.1l3.6 3.6l-3.6 3.6l-3.6-3.6zM85.7 247.1l3.6 3.6l-3.6 3.6l-3.6-3.6zM86.4 248.5l3.6 3.6l-3.6 3.6l-3.6-3.6zM87.2 247.4l3.6 3.6l-3.6 3.6l-3.6-3.6zM87.9 244.2l3.6 3.6l-3.6 3.6l-3.6-3.6zM88.6 248.1l3.6 3.6l-3.6 3.6l-3.6-3.6zM89.3 243.9l3.6 3.6l-3.6 3.6l-3.6-3.6zM90.0 244.7l3.6 3.6l-3.6 3.6l-3.6-3.6zM90.7 241.9l3.6 3.6l-3.6 3.6l-3.6-3.6zM91.4 242.5l3.6 3.6l-3.6 3.6l-3.6-3.6zM92.1 239.3l3.6 3.6l-3.6 3.6l-3.6-3.6zM92.9 244.5l3.6 3.6l-3.6 3.6l-3.6-3.6zM93.6 243.4l3.6 3.6l-3.6 3.6l-3.6-3.6zM94.3 238.9l3.6 3.6l-3.6 3.6l-3.6-3.6zM95.0 238.0l3.6 3.6l-3.6 3.6l-3.6-3.6zM95.8 238.5l3.6 3.6l-3.6 3.6l-3.6-3.6zM96.5 243.6l3.6 3.6l-3.6 3.6l-3.6-3.6zM97.3 241.7l3.6 3.6l-3.6 3.6l-3.6-3.6zM98.0 243.0l3.6 3.6l-3.6 3.6l-3.6-3.6zM98.8 243.2l3.6 3.6l-3.6 3.6l-3.6-3.6zM99.5 244.2l3.6 3.6l-3.6 3.6l-3.6-3.6zM100.3 243.3l3.6 3.6l-3.6 3.6l-3.6-3.6zM101.0 245.8l3.6 3.6l-3.6 3.6l-3.6-3.6zM101.8 244.1l3.6 3.6l-3.6 3.6l-3.6-3.6zM102.6 245.9l3.6 3.6l-3.6 3.6l-3.6-3.6zM103.3 246.1l3.6 3.6l-3.6 3.6l-3.6-3.6zM104.1 246.0l3.6 3.6l-3.6 3.6l-3.6-3.6zM104.9 244.5l3.6 3.6l-3.6 3.6l-3.6-3.6zM105.7 243.1l3.6 3.6l-3.6 3.6l-3.6-3.6zM106.5 244.4l3.6 3.6l-3.6 3.6l-3.6-3.6zM107.2 243.0l3.6 3.6l-3.6 3.6l-3.6-3.6zM108.0 245.9l3.6 3.6l-3.6 3.6l-3.6-3.6zM108.7 244.9l3.6 3.6l-3.6 3.6l-3.6-3.6zM109.4 243.8l3.6 3.6l-3.6 3.6l-3.6-3.6zM110.1 243.5l3.6 3.6l-3.6 3.6l-3.6-3.6zM110.8 243.5l3.6 3.6l-3.6 3.6l-3.6-3.6zM111.5 243.4l3.6 3.6l-3.6 3.6l-3.6-3.6zM112.2 244.6l3.6 3.6l-3.6 3.6l-3.6-3.6zM112.9 246.0l3.6 3.6l-3.6 3.6l-3.6-3.6zM113.6 246.6l3.6 3.6l-3.6 3.6l-3.6-3.6zM114.3 247.0l3.6 3.6l-3.6 3.6l-3.6-3.6zM115.0 249.8l3.6 3.6l-3.6 3.6l-3.6-3.6zM115.7 245.1l3.6 3.6l-3.6 3.6l-3.6-3.6zM116.4 246.0l3.6 3.6l-3.6 3.6l-3.6-3.6zM117.1 250.3l3.6 3.6l-3.6 3.6l-3.6-3.6zM117.8 242.6l3.6 3.6l-3.6 3.6l-3.6-3.6zM118.5 244.6l3.6 3.6l-3.6 3.6l-3.6-3.6zM119.2 245.5l3.6 3.6l-3.6 3.6l-3.6-3.6zM119.9 245.2l3.6 3.6l-3.6 3.6l-3.6-3.6zM120.6 245.5l3.6 3.6l-3.6 3.6l-3.6-3.6zM121.3 244.2l3.6 3.6l-3.6 3.6l-3.6-3.6zM122.0 245.0l3.6 3.6l-3.6 3.6l-3.6-3.6zM122.7 244.0l3.6 3.6l-3.6 3.6l-3.6-3.6zM123.5 244.7l3.6 3.6l-3.6 3.6l-3.6-3.6zM124.2 240.0l3.6 3.6l-3.6 3.6l-3.6-3.6zM124.9 241.2l3.6 3.6l-3.6 3.6l-3.6-3.6zM125.6 242.1l3.6 3.6l-3.6 3.6l-3.6-3.6zM126.4 240.0l3.6 3.6l-3.6 3.6l-3.6-3.6zM127.1 239.5l3.6 3.6l-3.6 3.6l-3.6-3.6zM127.8 241.8l3.6 3.6l-3.6 3.6l-3.6-3.6zM128.5 239.3l3.6 3.6l-3.6 3.6l-3.6-3.6zM129.3 240.9l3.6 3.6l-3.6 3.6l-3.6-3.6zM130.0 240.6l3.6 3.6l-3.6 3.6l-3.6-3.6zM130.8 237.7l3.6 3.6l-3.6 3.6l-3.6-3.6zM131.6 235.8l3.6 3.6l-3.6 3.6l-3.6-3.6zM132.4 232.6l3.6 3.6l-3.6 3.6l-3.6-3.6zM133.2 228.3l3.6 3.6l-3.6 3.6l-3.6-3.6zM134.0 228.4l3.6 3.6l-3.6 3.6l-3.6-3.6zM134.6 225.7l3.6 3.6l-3.6 3.6l-3.6-3.6zM135.2 220.8l3.6 3.6l-3.6 3.6l-3.6-3.6zM135.8 218.0l3.6 3.6l-3.6 3.6l-3.6-3.6zM136.4 216.0l3.6 3.6l-3.6 3.6l-3.6-3.6zM137.0 210.0l3.6 3.6l-3.6 3.6l-3.6-3.6zM137.8 211.7l3.6 3.6l-3.6 3.6l-3.6-3.6zM138.5 212.9l3.6 3.6l-3.6 3.6l-3.6-3.6zM139.2 208.3l3.6 3.6l-3.6 3.6l-3.6-3.6zM140.0 208.6l3.6 3.6l-3.6 3.6l-3.6-3.6zM140.8 206.8l3.6 3.6l-3.6 3.6l-3.6-3.6zM141.6 208.1l3.6 3.6l-3.6 3.6l-3.6-3.6zM142.4 204.7l3.6 3.6l-3.6 3.6l-3.6-3.6zM143.2 204.2l3.6 3.6l-3.6 3.6l-3.6-3.6zM144.0 200.3l3.6 3.6l-3.6 3.6l-3.6-3.6zM144.8 200.6l3.6 3.6l-3.6 3.6l-3.6-3.6zM145.7 199.8l3.6 3.6l-3.6 3.6l-3.6-3.6zM146.5 196.2l3.6 3.6l-3.6 3.6l-3.6-3.6zM147.3 200.5l3.6 3.6l-3.6 3.6l-3.6-3.6zM148.0 200.5l3.6 3.6l-3.6 3.6l-3.6-3.6zM148.8 197.1l3.6 3.6l-3.6 3.6l-3.6-3.6zM149.5 201.9l3.6 3.6l-3.6 3.6l-3.6-3.6zM150.3 201.4l3.6 3.6l-3.6 3.6l-3.6-3.6zM151.0 203.1l3.6 3.6l-3.6 3.6l-3.6-3.6zM151.8 203.7l3.6 3.6l-3.6 3.6l-3.6-3.6zM152.5 201.5l3.6 3.6l-3.6 3.6l-3.6-3.6zM153.2 204.3l3.6 3.6l-3.6 3.6l-3.6-3.6zM154.0 207.8l3.6 3.6l-3.6 3.6l-3.6-3.6zM154.8 203.3l3.6 3.6l-3.6 3.6l-3.6-3.6zM155.6 201.4l3.6 3.6l-3.6 3.6l-3.6-3.6zM156.4 199.6l3.6 3.6l-3.6 3.6l-3.6-3.6zM157.2 198.6l3.6 3.6l-3.6 3.6l-3.6-3.6zM158.0 199.9l3.6 3.6l-3.6 3.6l-3.6-3.6zM158.8 200.3l3.6 3.6l-3.6 3.6l-3.6-3.6zM159.6 196.4l3.6 3.6l-3.6 3.6l-3.6-3.6zM160.3 194.3l3.6 3.6l-3.6 3.6l-3.6-3.6zM161.1 195.6l3.6 3.6l-3.6 3.6l-3.6-3.6zM161.9 189.4l3.6 3.6l-3.6 3.6l-3.6-3.6zM162.7 185.7l3.6 3.6l-3.6 3.6l-3.6-3.6zM163.4 184.1l3.6 3.6l-3.6 3.6l-3.6-3.6zM164.2 180.7l3.6 3.6l-3.6 3.6l-3.6-3.6zM165.0 174.8l3.6 3.6l-3.6 3.6l-3.6-3.6zM165.7 172.8l3.6 3.6l-3.6 3.6l-3.6-3.6zM166.4 173.4l3.6 3.6l-3.6 3.6l-3.6-3.6zM167.1 171.7l3.6 3.6l-3.6 3.6l-3.6-3.6zM167.9 167.5l3.6 3.6l-3.6 3.6l-3.6-3.6zM168.6 167.5l3.6 3.6l-3.6 3.6l-3.6-3.6zM169.3 165.2l3.6 3.6l-3.6 3.6l-3.6-3.6zM170.0 165.1l3.6 3.6l-3.6 3.6l-3.6-3.6zM170.7 163.1l3.6 3.6l-3.6 3.6l-3.6-3.6zM171.4 162.0l3.6 3.6l-3.6 3.6l-3.6-3.6zM172.1 160.4l3.6 3.6l-3.6 3.6l-3.6-3.6zM172.9 161.5l3.6 3.6l-3.6 3.6l-3.6-3.6zM173.6 160.9l3.6 3.6l-3.6 3.6l-3.6-3.6zM174.3 157.0l3.6 3.6l-3.6 3.6l-3.6-3.6zM175.0 157.8l3.6 3.6l-3.6 3.6l-3.6-3.6zM175.7 154.2l3.6 3.6l-3.6 3.6l-3.6-3.6zM176.4 154.5l3.6 3.6l-3.6 3.6l-3.6-3.6zM177.1 154.6l3.6 3.6l-3.6 3.6l-3.6-3.6zM177.9 154.8l3.6 3.6l-3.6 3.6l-3.6-3.6zM178.6 150.8l3.6 3.6l-3.6 3.6l-3.6-3.6zM179.3 150.3l3.6 3.6l-3.6 3.6l-3.6-3.6zM180.0 149.7l3.6 3.6l-3.6 3.6l-3.6-3.6zM180.8 146.5l3.6 3.6l-3.6 3.6l-3.6-3.6zM181.5 148.4l3.6 3.6l-3.6 3.6l-3.6-3.6zM182.2 146.8l3.6 3.6l-3.6 3.6l-3.6-3.6zM183.0 148.0l3.6 3.6l-3.6 3.6l-3.6-3.6zM183.8 146.6l3.6 3.6l-3.6 3.6l-3.6-3.6zM184.5 146.2l3.6 3.6l-3.6 3.6l-3.6-3.6zM185.2 150.5l3.6 3.6l-3.6 3.6l-3.6-3.6zM186.0 151.8l3.6 3.6l-3.6 3.6l-3.6-3.6zM186.8 153.0l3.6 3.6l-3.6 3.6l-3.6-3.6zM187.5 157.8l3.6 3.6l-3.6 3.6l-3.6-3.6zM188.2 158.5l3.6 3.6l-3.6 3.6l-3.6-3.6zM189.0 160.4l3.6 3.6l-3.6 3.6l-3.6-3.6zM189.7 165.5l3.6 3.6l-3.6 3.6l-3.6-3.6zM190.3 165.6l3.6 3.6l-3.6 3.6l-3.6-3.6zM191.0 170.3l3.6 3.6l-3.6 3.6l-3.6-3.6zM192.0 172.9l3.6 3.6l-3.6 3.6l-3.6-3.6zM193.0 175.8l3.6 3.6l-3.6 3.6l-3.6-3.6zM193.3 171.1l3.6 3.6l-3.6 3.6l-3.6-3.6zM193.7 168.9l3.6 3.6l-3.6 3.6l-3.6-3.6zM194.0 164.4l3.6 3.6l-3.6 3.6l-3.6-3.6zM194.3 162.9l3.6 3.6l-3.6 3.6l-3.6-3.6zM194.7 162.1l3.6 3.6l-3.6 3.6l-3.6-3.6zM195.0 155.3l3.6 3.6l-3.6 3.6l-3.6-3.6zM195.8 157.7l3.6 3.6l-3.6 3.6l-3.6-3.6zM196.5 150.4l3.6 3.6l-3.6 3.6l-3.6-3.6zM197.2 148.9l3.6 3.6l-3.6 3.6l-3.6-3.6zM198.0 146.7l3.6 3.6l-3.6 3.6l-3.6-3.6zM198.8 147.0l3.6 3.6l-3.6 3.6l-3.6-3.6zM199.5 142.4l3.6 3.6l-3.6 3.6l-3.6-3.6zM200.2 140.0l3.6 3.6l-3.6 3.6l-3.6-3.6zM201.0 143.4l3.6 3.6l-3.6 3.6l-3.6-3.6zM201.8 144.7l3.6 3.6l-3.6 3.6l-3.6-3.6zM202.5 145.4l3.6 3.6l-3.6 3.6l-3.6-3.6zM203.2 149.6l3.6 3.6l-3.6 3.6l-3.6-3.6zM204.0 146.7l3.6 3.6l-3.6 3.6l-3.6-3.6zM204.8 148.8l3.6 3.6l-3.6 3.6l-3.6-3.6zM205.5 151.9l3.6 3.6l-3.6 3.6l-3.6-3.6zM206.2 153.0l3.6 3.6l-3.6 3.6l-3.6-3.6zM207.0 157.1l3.6 3.6l-3.6 3.6l-3.6-3.6zM207.8 154.2l3.6 3.6l-3.6 3.6l-3.6-3.6zM208.5 157.3l3.6 3.6l-3.6 3.6l-3.6-3.6zM209.2 154.1l3.6 3.6l-3.6 3.6l-3.6-3.6zM210.0 162.7l3.6 3.6l-3.6 3.6l-3.6-3.6zM210.8 159.6l3.6 3.6l-3.6 3.6l-3.6-3.6zM211.5 160.4l3.6 3.6l-3.6 3.6l-3.6-3.6zM212.2 161.1l3.6 3.6l-3.6 3.6l-3.6-3.6zM213.0 156.4l3.6 3.6l-3.6 3.6l-3.6-3.6zM213.5 153.0l3.6 3.6l-3.6 3.6l-3.6-3.6zM214.0 149.6l3.6 3.6l-3.6 3.6l-3.6-3.6zM214.5 146.1l3.6 3.6l-3.6 3.6l-3.6-3.6zM215.0 143.4l3.6 3.6l-3.6 3.6l-3.6-3.6zM215.5 142.4l3.6 3.6l-3.6 3.6l-3.6-3.6zM216.3 140.1l3.6 3.6l-3.6 3.6l-3.6-3.6zM217.2 138.8l3.6 3.6l-3.6 3.6l-3.6-3.6zM218.0 137.1l3.6 3.6l-3.6 3.6l-3.6-3.6zM218.8 139.9l3.6 3.6l-3.6 3.6l-3.6-3.6zM219.5 140.2l3.6 3.6l-3.6 3.6l-3.6-3.6zM220.2 140.2l3.6 3.6l-3.6 3.6l-3.6-3.6zM221.0 142.5l3.6 3.6l-3.6 3.6l-3.6-3.6zM221.4 144.2l3.6 3.6l-3.6 3.6l-3.6-3.6zM221.8 145.6l3.6 3.6l-3.6 3.6l-3.6-3.6zM222.2 152.7l3.6 3.6l-3.6 3.6l-3.6-3.6zM222.6 154.1l3.6 3.6l-3.6 3.6l-3.6-3.6zM223.0 154.9l3.6 3.6l-3.6 3.6l-3.6-3.6zM223.6 161.5l3.6 3.6l-3.6 3.6l-3.6-3.6zM224.2 163.8l3.6 3.6l-3.6 3.6l-3.6-3.6zM224.8 164.1l3.6 3.6l-3.6 3.6l-3.6-3.6zM225.4 172.6l3.6 3.6l-3.6 3.6l-3.6-3.6zM226.0 173.9l3.6 3.6l-3.6 3.6l-3.6-3.6zM226.6 171.4l3.6 3.6l-3.6 3.6l-3.6-3.6zM227.2 166.9l3.6 3.6l-3.6 3.6l-3.6-3.6zM227.8 163.0l3.6 3.6l-3.6 3.6l-3.6-3.6zM228.4 157.3l3.6 3.6l-3.6 3.6l-3.6-3.6zM229.0 158.0l3.6 3.6l-3.6 3.6l-3.6-3.6zM229.8 153.9l3.6 3.6l-3.6 3.6l-3.6-3.6zM230.5 150.9l3.6 3.6l-3.6 3.6l-3.6-3.6zM231.2 149.5l3.6 3.6l-3.6 3.6l-3.6-3.6zM232.0 146.5l3.6 3.6l-3.6 3.6l-3.6-3.6zM232.8 149.5l3.6 3.6l-3.6 3.6l-3.6-3.6zM233.6 149.8l3.6 3.6l-3.6 3.6l-3.6-3.6zM234.4 152.3l3.6 3.6l-3.6 3.6l-3.6-3.6zM235.2 151.0l3.6 3.6l-3.6 3.6l-3.6-3.6zM236.0 155.7l3.6 3.6l-3.6 3.6l-3.6-3.6zM236.8 160.5l3.6 3.6l-3.6 3.6l-3.6-3.6zM237.6 164.5l3.6 3.6l-3.6 3.6l-3.6-3.6zM238.4 164.8l3.6 3.6l-3.6 3.6l-3.6-3.6zM239.2 168.2l3.6 3.6l-3.6 3.6l-3.6-3.6zM240.0 173.9l3.6 3.6l-3.6 3.6l-3.6-3.6zM240.8 172.5l3.6 3.6l-3.6 3.6l-3.6-3.6zM241.6 175.8l3.6 3.6l-3.6 3.6l-3.6-3.6zM242.4 178.9l3.6 3.6l-3.6 3.6l-3.6-3.6zM243.2 177.9l3.6 3.6l-3.6 3.6l-3.6-3.6zM244.0 181.4l3.6 3.6l-3.6 3.6l-3.6-3.6zM244.7 181.3l3.6 3.6l-3.6 3.6l-3.6-3.6zM245.3 185.7l3.6 3.6l-3.6 3.6l-3.6-3.6zM246.0 188.3l3.6 3.6l-3.6 3.6l-3.6-3.6zM246.8 187.2l3.6 3.6l-3.6 3.6l-3.6-3.6zM247.6 187.4l3.6 3.6l-3.6 3.6l-3.6-3.6zM248.4 188.0l3.6 3.6l-3.6 3.6l-3.6-3.6zM249.2 181.7l3.6 3.6l-3.6 3.6l-3.6-3.6zM250.0 180.5l3.6 3.6l-3.6 3.6l-3.6-3.6zM250.8 181.6l3.6 3.6l-3.6 3.6l-3.6-3.6zM251.5 178.5l3.6 3.6l-3.6 3.6l-3.6-3.6zM252.2 180.3l3.6 3.6l-3.6 3.6l-3.6-3.6zM253.0 179.8l3.6 3.6l-3.6 3.6l-3.6-3.6zM253.8 177.8l3.6 3.6l-3.6 3.6l-3.6-3.6zM254.5 178.5l3.6 3.6l-3.6 3.6l-3.6-3.6zM255.2 174.5l3.6 3.6l-3.6 3.6l-3.6-3.6zM256.0 177.6l3.6 3.6l-3.6 3.6l-3.6-3.6zM256.8 174.9l3.6 3.6l-3.6 3.6l-3.6-3.6zM257.6 177.3l3.6 3.6l-3.6 3.6l-3.6-3.6zM258.4 178.5l3.6 3.6l-3.6 3.6l-3.6-3.6zM259.2 179.8l3.6 3.6l-3.6 3.6l-3.6-3.6zM260.0 182.8l3.6 3.6l-3.6 3.6l-3.6-3.6zM260.7 182.2l3.6 3.6l-3.6 3.6l-3.6-3.6zM261.4 182.2l3.6 3.6l-3.6 3.6l-3.6-3.6zM262.1 184.4l3.6 3.6l-3.6 3.6l-3.6-3.6zM262.9 186.8l3.6 3.6l-3.6 3.6l-3.6-3.6zM263.6 185.0l3.6 3.6l-3.6 3.6l-3.6-3.6zM264.3 186.3l3.6 3.6l-3.6 3.6l-3.6-3.6zM265.0 188.4l3.6 3.6l-3.6 3.6l-3.6-3.6zM265.8 189.3l3.6 3.6l-3.6 3.6l-3.6-3.6zM266.5 189.3l3.6 3.6l-3.6 3.6l-3.6-3.6zM267.2 197.9l3.6 3.6l-3.6 3.6l-3.6-3.6zM268.0 199.9l3.6 3.6l-3.6 3.6l-3.6-3.6zM268.8 194.2l3.6 3.6l-3.6 3.6l-3.6-3.6zM269.6 198.3l3.6 3.6l-3.6 3.6l-3.6-3.6zM270.4 200.1l3.6 3.6l-3.6 3.6l-3.6-3.6zM271.2 201.9l3.6 3.6l-3.6 3.6l-3.6-3.6zM272.0 202.5l3.6 3.6l-3.6 3.6l-3.6-3.6zM272.8 200.3l3.6 3.6l-3.6 3.6l-3.6-3.6zM273.5 198.5l3.6 3.6l-3.6 3.6l-3.6-3.6zM274.2 199.7l3.6 3.6l-3.6 3.6l-3.6-3.6zM275.0 200.6l3.6 3.6l-3.6 3.6l-3.6-3.6zM275.8 196.5l3.6 3.6l-3.6 3.6l-3.6-3.6zM276.5 196.0l3.6 3.6l-3.6 3.6l-3.6-3.6zM277.2 197.0l3.6 3.6l-3.6 3.6l-3.6-3.6zM278.0 193.3l3.6 3.6l-3.6 3.6l-3.6-3.6zM278.8 195.9l3.6 3.6l-3.6 3.6l-3.6-3.6zM279.5 195.5l3.6 3.6l-3.6 3.6l-3.6-3.6zM280.2 196.7l3.6 3.6l-3.6 3.6l-3.6-3.6zM281.0 194.8l3.6 3.6l-3.6 3.6l-3.6-3.6zM281.8 194.4l3.6 3.6l-3.6 3.6l-3.6-3.6zM282.5 195.0l3.6 3.6l-3.6 3.6l-3.6-3.6zM283.2 195.4l3.6 3.6l-3.6 3.6l-3.6-3.6zM284.0 194.3l3.6 3.6l-3.6 3.6l-3.6-3.6zM284.7 196.8l3.6 3.6l-3.6 3.6l-3.6-3.6zM285.4 199.5l3.6 3.6l-3.6 3.6l-3.6-3.6zM286.1 201.6l3.6 3.6l-3.6 3.6l-3.6-3.6zM286.9 203.8l3.6 3.6l-3.6 3.6l-3.6-3.6zM287.6 201.3l3.6 3.6l-3.6 3.6l-3.6-3.6zM288.3 203.3l3.6 3.6l-3.6 3.6l-3.6-3.6zM289.0 201.4l3.6 3.6l-3.6 3.6l-3.6-3.6zM289.8 208.9l3.6 3.6l-3.6 3.6l-3.6-3.6zM290.5 205.2l3.6 3.6l-3.6 3.6l-3.6-3.6zM291.2 206.8l3.6 3.6l-3.6 3.6l-3.6-3.6zM292.0 208.2l3.6 3.6l-3.6 3.6l-3.6-3.6zM292.8 205.7l3.6 3.6l-3.6 3.6l-3.6-3.6zM293.5 209.1l3.6 3.6l-3.6 3.6l-3.6-3.6zM294.2 208.9l3.6 3.6l-3.6 3.6l-3.6-3.6zM295.0 206.5l3.6 3.6l-3.6 3.6l-3.6-3.6zM295.8 210.2l3.6 3.6l-3.6 3.6l-3.6-3.6zM296.5 212.1l3.6 3.6l-3.6 3.6l-3.6-3.6zM297.2 207.5l3.6 3.6l-3.6 3.6l-3.6-3.6zM298.0 212.2l3.6 3.6l-3.6 3.6l-3.6-3.6zM298.8 211.6l3.6 3.6l-3.6 3.6l-3.6-3.6zM299.5 212.4l3.6 3.6l-3.6 3.6l-3.6-3.6zM300.2 212.7l3.6 3.6l-3.6 3.6l-3.6-3.6zM301.0 214.5l3.6 3.6l-3.6 3.6l-3.6-3.6zM301.7 212.5l3.6 3.6l-3.6 3.6l-3.6-3.6zM302.5 214.7l3.6 3.6l-3.6 3.6l-3.6-3.6zM303.2 213.1l3.6 3.6l-3.6 3.6l-3.6-3.6zM303.9 215.4l3.6 3.6l-3.6 3.6l-3.6-3.6zM304.6 213.4l3.6 3.6l-3.6 3.6l-3.6-3.6zM305.4 215.0l3.6 3.6l-3.6 3.6l-3.6-3.6zM306.1 218.4l3.6 3.6l-3.6 3.6l-3.6-3.6zM306.8 216.7l3.6 3.6l-3.6 3.6l-3.6-3.6zM307.5 216.2l3.6 3.6l-3.6 3.6l-3.6-3.6zM308.3 215.1l3.6 3.6l-3.6 3.6l-3.6-3.6zM309.0 216.1l3.6 3.6l-3.6 3.6l-3.6-3.6zM309.8 218.3l3.6 3.6l-3.6 3.6l-3.6-3.6zM310.5 220.2l3.6 3.6l-3.6 3.6l-3.6-3.6zM311.2 220.0l3.6 3.6l-3.6 3.6l-3.6-3.6zM312.0 220.7l3.6 3.6l-3.6 3.6l-3.6-3.6zM312.8 220.5l3.6 3.6l-3.6 3.6l-3.6-3.6zM313.5 223.3l3.6 3.6l-3.6 3.6l-3.6-3.6zM314.2 221.1l3.6 3.6l-3.6 3.6l-3.6-3.6zM315.0 221.5l3.6 3.6l-3.6 3.6l-3.6-3.6zM315.8 223.3l3.6 3.6l-3.6 3.6l-3.6-3.6zM316.5 221.5l3.6 3.6l-3.6 3.6l-3.6-3.6zM317.2 220.5l3.6 3.6l-3.6 3.6l-3.6-3.6zM318.0 219.5l3.6 3.6l-3.6 3.6l-3.6-3.6zM318.8 219.5l3.6 3.6l-3.6 3.6l-3.6-3.6zM319.5 220.4l3.6 3.6l-3.6 3.6l-3.6-3.6zM320.2 219.5l3.6 3.6l-3.6 3.6l-3.6-3.6zM321.0 216.5l3.6 3.6l-3.6 3.6l-3.6-3.6zM321.8 218.1l3.6 3.6l-3.6 3.6l-3.6-3.6zM322.5 216.7l3.6 3.6l-3.6 3.6l-3.6-3.6zM323.2 213.8l3.6 3.6l-3.6 3.6l-3.6-3.6zM324.0 215.6l3.6 3.6l-3.6 3.6l-3.6-3.6zM324.8 213.0l3.6 3.6l-3.6 3.6l-3.6-3.6zM325.5 211.9l3.6 3.6l-3.6 3.6l-3.6-3.6zM326.2 212.7l3.6 3.6l-3.6 3.6l-3.6-3.6zM327.0 212.5l3.6 3.6l-3.6 3.6l-3.6-3.6zM327.7 209.6l3.6 3.6l-3.6 3.6l-3.6-3.6zM328.4 211.7l3.6 3.6l-3.6 3.6l-3.6-3.6zM329.1 209.9l3.6 3.6l-3.6 3.6l-3.6-3.6zM329.9 215.2l3.6 3.6l-3.6 3.6l-3.6-3.6zM330.6 211.0l3.6 3.6l-3.6 3.6l-3.6-3.6zM331.3 214.0l3.6 3.6l-3.6 3.6l-3.6-3.6zM332.0 211.4l3.6 3.6l-3.6 3.6l-3.6-3.6zM332.8 214.1l3.6 3.6l-3.6 3.6l-3.6-3.6zM333.5 216.7l3.6 3.6l-3.6 3.6l-3.6-3.6zM334.2 209.5l3.6 3.6l-3.6 3.6l-3.6-3.6zM335.0 213.2l3.6 3.6l-3.6 3.6l-3.6-3.6zM335.8 215.1l3.6 3.6l-3.6 3.6l-3.6-3.6zM336.5 214.5l3.6 3.6l-3.6 3.6l-3.6-3.6zM337.2 214.0l3.6 3.6l-3.6 3.6l-3.6-3.6zM338.0 218.8l3.6 3.6l-3.6 3.6l-3.6-3.6zM338.8 214.7l3.6 3.6l-3.6 3.6l-3.6-3.6zM339.5 211.0l3.6 3.6l-3.6 3.6l-3.6-3.6zM340.2 214.1l3.6 3.6l-3.6 3.6l-3.6-3.6zM341.0 209.1l3.6 3.6l-3.6 3.6l-3.6-3.6zM341.8 212.9l3.6 3.6l-3.6 3.6l-3.6-3.6zM342.5 209.2l3.6 3.6l-3.6 3.6l-3.6-3.6zM343.2 209.5l3.6 3.6l-3.6 3.6l-3.6-3.6zM344.0 210.4l3.6 3.6l-3.6 3.6l-3.6-3.6zM344.8 207.7l3.6 3.6l-3.6 3.6l-3.6-3.6zM345.5 204.4l3.6 3.6l-3.6 3.6l-3.6-3.6zM346.2 203.1l3.6 3.6l-3.6 3.6l-3.6-3.6zM347.0 206.8l3.6 3.6l-3.6 3.6l-3.6-3.6zM347.8 205.2l3.6 3.6l-3.6 3.6l-3.6-3.6zM348.5 201.8l3.6 3.6l-3.6 3.6l-3.6-3.6zM349.2 203.7l3.6 3.6l-3.6 3.6l-3.6-3.6zM350.0 202.2l3.6 3.6l-3.6 3.6l-3.6-3.6zM350.8 202.1l3.6 3.6l-3.6 3.6l-3.6-3.6zM351.5 197.0l3.6 3.6l-3.6 3.6l-3.6-3.6zM352.2 199.8l3.6 3.6l-3.6 3.6l-3.6-3.6zM353.0 201.3l3.6 3.6l-3.6 3.6l-3.6-3.6zM353.8 200.7l3.6 3.6l-3.6 3.6l-3.6-3.6zM354.5 200.6l3.6 3.6l-3.6 3.6l-3.6-3.6zM355.2 194.8l3.6 3.6l-3.6 3.6l-3.6-3.6zM356.0 198.7l3.6 3.6l-3.6 3.6l-3.6-3.6zM356.8 198.8l3.6 3.6l-3.6 3.6l-3.6-3.6zM357.5 201.7l3.6 3.6l-3.6 3.6l-3.6-3.6zM358.2 195.7l3.6 3.6l-3.6 3.6l-3.6-3.6zM359.0 196.4l3.6 3.6l-3.6 3.6l-3.6-3.6zM359.8 196.6l3.6 3.6l-3.6 3.6l-3.6-3.6zM360.5 197.6l3.6 3.6l-3.6 3.6l-3.6-3.6zM361.2 195.1l3.6 3.6l-3.6 3.6l-3.6-3.6zM362.0 197.2l3.6 3.6l-3.6 3.6l-3.6-3.6zM362.8 193.1l3.6 3.6l-3.6 3.6l-3.6-3.6zM363.6 193.8l3.6 3.6l-3.6 3.6l-3.6-3.6zM364.4 191.6l3.6 3.6l-3.6 3.6l-3.6-3.6zM365.2 191.7l3.6 3.6l-3.6 3.6l-3.6-3.6zM366.0 189.3l3.6 3.6l-3.6 3.6l-3.6-3.6zM366.8 187.2l3.6 3.6l-3.6 3.6l-3.6-3.6zM367.6 190.9l3.6 3.6l-3.6 3.6l-3.6-3.6zM368.4 189.1l3.6 3.6l-3.6 3.6l-3.6-3.6zM369.2 187.1l3.6 3.6l-3.6 3.6l-3.6-3.6zM370.0 187.7l3.6 3.6l-3.6 3.6l-3.6-3.6zM370.8 190.2l3.6 3.6l-3.6 3.6l-3.6-3.6zM371.6 188.2l3.6 3.6l-3.6 3.6l-3.6-3.6zM372.4 190.8l3.6 3.6l-3.6 3.6l-3.6-3.6zM373.2 193.1l3.6 3.6l-3.6 3.6l-3.6-3.6zM374.0 194.2l3.6 3.6l-3.6 3.6l-3.6-3.6zM374.8 193.7l3.6 3.6l-3.6 3.6l-3.6-3.6zM375.5 191.8l3.6 3.6l-3.6 3.6l-3.6-3.6zM376.2 198.0l3.6 3.6l-3.6 3.6l-3.6-3.6zM377.0 197.4l3.6 3.6l-3.6 3.6l-3.6-3.6zM377.8 197.8l3.6 3.6l-3.6 3.6l-3.6-3.6zM378.5 198.2l3.6 3.6l-3.6 3.6l-3.6-3.6zM379.2 199.9l3.6 3.6l-3.6 3.6l-3.6-3.6zM380.0 199.7l3.6 3.6l-3.6 3.6l-3.6-3.6zM380.7 199.3l3.6 3.6l-3.6 3.6l-3.6-3.6zM381.4 200.4l3.6 3.6l-3.6 3.6l-3.6-3.6zM382.1 201.2l3.6 3.6l-3.6 3.6l-3.6-3.6zM382.9 201.7l3.6 3.6l-3.6 3.6l-3.6-3.6zM383.6 201.4l3.6 3.6l-3.6 3.6l-3.6-3.6zM384.3 204.8l3.6 3.6l-3.6 3.6l-3.6-3.6zM385.0 202.3l3.6 3.6l-3.6 3.6l-3.6-3.6zM385.7 206.0l3.6 3.6l-3.6 3.6l-3.6-3.6zM386.4 203.9l3.6 3.6l-3.6 3.6l-3.6-3.6zM387.1 206.7l3.6 3.6l-3.6 3.6l-3.6-3.6zM387.9 208.9l3.6 3.6l-3.6 3.6l-3.6-3.6zM388.6 207.6l3.6 3.6l-3.6 3.6l-3.6-3.6zM389.3 206.7l3.6 3.6l-3.6 3.6l-3.6-3.6zM390.0 208.5l3.6 3.6l-3.6 3.6l-3.6-3.6zM390.8 209.4l3.6 3.6l-3.6 3.6l-3.6-3.6zM391.5 207.1l3.6 3.6l-3.6 3.6l-3.6-3.6zM392.2 209.7l3.6 3.6l-3.6 3.6l-3.6-3.6zM393.0 211.7l3.6 3.6l-3.6 3.6l-3.6-3.6zM393.8 209.3l3.6 3.6l-3.6 3.6l-3.6-3.6zM394.5 209.0l3.6 3.6l-3.6 3.6l-3.6-3.6zM395.2 209.0l3.6 3.6l-3.6 3.6l-3.6-3.6zM396.0 207.8l3.6 3.6l-3.6 3.6l-3.6-3.6zM396.8 206.3l3.6 3.6l-3.6 3.6l-3.6-3.6zM397.5 204.1l3.6 3.6l-3.6 3.6l-3.6-3.6zM398.2 201.1l3.6 3.6l-3.6 3.6l-3.6-3.6zM399.0 200.3l3.6 3.6l-3.6 3.6l-3.6-3.6zM399.7 198.5l3.6 3.6l-3.6 3.6l-3.6-3.6zM400.4 197.0l3.6 3.6l-3.6 3.6l-3.6-3.6zM401.2 195.9l3.6 3.6l-3.6 3.6l-3.6-3.6zM401.9 191.8l3.6 3.6l-3.6 3.6l-3.6-3.6zM402.6 193.6l3.6 3.6l-3.6 3.6l-3.6-3.6zM403.4 193.4l3.6 3.6l-3.6 3.6l-3.6-3.6zM404.1 190.9l3.6 3.6l-3.6 3.6l-3.6-3.6zM404.8 191.9l3.6 3.6l-3.6 3.6l-3.6-3.6zM405.6 192.1l3.6 3.6l-3.6 3.6l-3.6-3.6zM406.3 190.1l3.6 3.6l-3.6 3.6l-3.6-3.6zM407.0 193.1l3.6 3.6l-3.6 3.6l-3.6-3.6zM407.8 183.5l3.6 3.6l-3.6 3.6l-3.6-3.6zM408.5 186.8l3.6 3.6l-3.6 3.6l-3.6-3.6zM409.2 182.8l3.6 3.6l-3.6 3.6l-3.6-3.6zM410.0 186.7l3.6 3.6l-3.6 3.6l-3.6-3.6zM410.7 188.7l3.6 3.6l-3.6 3.6l-3.6-3.6zM411.5 178.5l3.6 3.6l-3.6 3.6l-3.6-3.6zM412.4 182.4l3.6 3.6l-3.6 3.6l-3.6-3.6zM413.2 182.2l3.6 3.6l-3.6 3.6l-3.6-3.6zM414.0 179.9l3.6 3.6l-3.6 3.6l-3.6-3.6zM414.7 181.1l3.6 3.6l-3.6 3.6l-3.6-3.6zM415.4 175.7l3.6 3.6l-3.6 3.6l-3.6-3.6zM416.1 180.9l3.6 3.6l-3.6 3.6l-3.6-3.6zM416.8 180.4l3.6 3.6l-3.6 3.6l-3.6-3.6zM417.6 180.2l3.6 3.6l-3.6 3.6l-3.6-3.6zM418.3 179.8l3.6 3.6l-3.6 3.6l-3.6-3.6zM419.0 181.7l3.6 3.6l-3.6 3.6l-3.6-3.6zM419.8 181.2l3.6 3.6l-3.6 3.6l-3.6-3.6zM420.6 182.8l3.6 3.6l-3.6 3.6l-3.6-3.6zM421.4 182.8l3.6 3.6l-3.6 3.6l-3.6-3.6zM422.2 181.5l3.6 3.6l-3.6 3.6l-3.6-3.6zM423.0 185.0l3.6 3.6l-3.6 3.6l-3.6-3.6zM423.8 186.1l3.6 3.6l-3.6 3.6l-3.6-3.6zM424.6 187.4l3.6 3.6l-3.6 3.6l-3.6-3.6zM425.5 186.0l3.6 3.6l-3.6 3.6l-3.6-3.6zM426.3 187.7l3.6 3.6l-3.6 3.6l-3.6-3.6zM427.2 189.0l3.6 3.6l-3.6 3.6l-3.6-3.6zM428.0 189.1l3.6 3.6l-3.6 3.6l-3.6-3.6zM428.8 191.0l3.6 3.6l-3.6 3.6l-3.6-3.6zM429.5 192.5l3.6 3.6l-3.6 3.6l-3.6-3.6zM430.3 189.6l3.6 3.6l-3.6 3.6l-3.6-3.6zM431.1 188.9l3.6 3.6l-3.6 3.6l-3.6-3.6zM431.8 192.8l3.6 3.6l-3.6 3.6l-3.6-3.6zM432.6 194.2l3.6 3.6l-3.6 3.6l-3.6-3.6zM433.3 194.0l3.6 3.6l-3.6 3.6l-3.6-3.6zM434.1 194.4l3.6 3.6l-3.6 3.6l-3.6-3.6zM434.8 193.2l3.6 3.6l-3.6 3.6l-3.6-3.6zM435.5 193.5l3.6 3.6l-3.6 3.6l-3.6-3.6zM436.2 196.0l3.6 3.6l-3.6 3.6l-3.6-3.6zM437.0 194.3l3.6 3.6l-3.6 3.6l-3.6-3.6zM437.7 193.7l3.6 3.6l-3.6 3.6l-3.6-3.6zM438.4 195.2l3.6 3.6l-3.6 3.6l-3.6-3.6zM439.1 199.9l3.6 3.6l-3.6 3.6l-3.6-3.6zM439.9 199.7l3.6 3.6l-3.6 3.6l-3.6-3.6zM440.6 197.1l3.6 3.6l-3.6 3.6l-3.6-3.6zM441.3 197.5l3.6 3.6l-3.6 3.6l-3.6-3.6zM442.0 198.8l3.6 3.6l-3.6 3.6l-3.6-3.6zM442.8 197.8l3.6 3.6l-3.6 3.6l-3.6-3.6zM443.5 200.5l3.6 3.6l-3.6 3.6l-3.6-3.6zM444.2 198.9l3.6 3.6l-3.6 3.6l-3.6-3.6zM445.0 197.9l3.6 3.6l-3.6 3.6l-3.6-3.6zM445.7 200.9l3.6 3.6l-3.6 3.6l-3.6-3.6zM446.4 198.8l3.6 3.6l-3.6 3.6l-3.6-3.6zM447.2 199.9l3.6 3.6l-3.6 3.6l-3.6-3.6zM447.9 199.8l3.6 3.6l-3.6 3.6l-3.6-3.6zM448.6 199.6l3.6 3.6l-3.6 3.6l-3.6-3.6zM449.4 200.5l3.6 3.6l-3.6 3.6l-3.6-3.6zM450.1 199.5l3.6 3.6l-3.6 3.6l-3.6-3.6zM450.8 198.3l3.6 3.6l-3.6 3.6l-3.6-3.6zM451.6 198.0l3.6 3.6l-3.6 3.6l-3.6-3.6zM452.3 199.3l3.6 3.6l-3.6 3.6l-3.6-3.6zM453.0 199.9l3.6 3.6l-3.6 3.6l-3.6-3.6zM453.8 200.9l3.6 3.6l-3.6 3.6l-3.6-3.6zM454.5 201.0l3.6 3.6l-3.6 3.6l-3.6-3.6zM455.2 201.7l3.6 3.6l-3.6 3.6l-3.6-3.6zM455.9 201.2l3.6 3.6l-3.6 3.6l-3.6-3.6zM456.7 200.2l3.6 3.6l-3.6 3.6l-3.6-3.6zM457.4 200.3l3.6 3.6l-3.6 3.6l-3.6-3.6zM458.1 198.7l3.6 3.6l-3.6 3.6l-3.6-3.6zM458.9 201.1l3.6 3.6l-3.6 3.6l-3.6-3.6zM459.6 201.9l3.6 3.6l-3.6 3.6l-3.6-3.6zM460.3 202.0l3.6 3.6l-3.6 3.6l-3.6-3.6zM461.0 201.3l3.6 3.6l-3.6 3.6l-3.6-3.6zM461.8 201.3l3.6 3.6l-3.6 3.6l-3.6-3.6zM462.5 202.7l3.6 3.6l-3.6 3.6l-3.6-3.6zM463.2 201.6l3.6 3.6l-3.6 3.6l-3.6-3.6zM464.0 202.5l3.6 3.6l-3.6 3.6l-3.6-3.6zM464.7 202.4l3.6 3.6l-3.6 3.6l-3.6-3.6zM465.4 202.0l3.6 3.6l-3.6 3.6l-3.6-3.6zM466.1 203.4l3.6 3.6l-3.6 3.6l-3.6-3.6zM466.9 201.2l3.6 3.6l-3.6 3.6l-3.6-3.6zM467.6 201.5l3.6 3.6l-3.6 3.6l-3.6-3.6zM468.3 200.8l3.6 3.6l-3.6 3.6l-3.6-3.6zM469.0 200.7l3.6 3.6l-3.6 3.6l-3.6-3.6zM469.7 203.4l3.6 3.6l-3.6 3.6l-3.6-3.6zM470.4 203.6l3.6 3.6l-3.6 3.6l-3.6-3.6zM471.2 201.4l3.6 3.6l-3.6 3.6l-3.6-3.6zM471.9 201.9l3.6 3.6l-3.6 3.6l-3.6-3.6zM472.6 202.5l3.6 3.6l-3.6 3.6l-3.6-3.6zM473.3 202.0l3.6 3.6l-3.6 3.6l-3.6-3.6zM474.0 202.3l3.6 3.6l-3.6 3.6l-3.6-3.6zM474.7 199.2l3.6 3.6l-3.6 3.6l-3.6-3.6zM475.5 199.7l3.6 3.6l-3.6 3.6l-3.6-3.6zM476.2 200.8l3.6 3.6l-3.6 3.6l-3.6-3.6zM477.0 201.7l3.6 3.6l-3.6 3.6l-3.6-3.6zM477.7 199.9l3.6 3.6l-3.6 3.6l-3.6-3.6zM478.5 198.5l3.6 3.6l-3.6 3.6l-3.6-3.6zM479.2 198.9l3.6 3.6l-3.6 3.6l-3.6-3.6zM480.0 198.3l3.6 3.6l-3.6 3.6l-3.6-3.6zM480.7 197.9l3.6 3.6l-3.6 3.6l-3.6-3.6zM481.4 201.0l3.6 3.6l-3.6 3.6l-3.6-3.6zM482.1 198.7l3.6 3.6l-3.6 3.6l-3.6-3.6zM482.8 199.8l3.6 3.6l-3.6 3.6l-3.6-3.6zM483.5 202.6l3.6 3.6l-3.6 3.6l-3.6-3.6zM484.2 201.7l3.6 3.6l-3.6 3.6l-3.6-3.6zM484.9 201.0l3.6 3.6l-3.6 3.6l-3.6-3.6zM485.6 200.1l3.6 3.6l-3.6 3.6l-3.6-3.6zM486.3 201.6l3.6 3.6l-3.6 3.6l-3.6-3.6zM487.0 203.3l3.6 3.6l-3.6 3.6l-3.6-3.6zM487.8 202.3l3.6 3.6l-3.6 3.6l-3.6-3.6zM488.5 203.3l3.6 3.6l-3.6 3.6l-3.6-3.6zM489.3 202.1l3.6 3.6l-3.6 3.6l-3.6-3.6zM490.1 202.7l3.6 3.6l-3.6 3.6l-3.6-3.6zM490.8 202.0l3.6 3.6l-3.6 3.6l-3.6-3.6zM491.6 203.0l3.6 3.6l-3.6 3.6l-3.6-3.6zM492.4 204.2l3.6 3.6l-3.6 3.6l-3.6-3.6zM493.1 201.1l3.6 3.6l-3.6 3.6l-3.6-3.6zM493.9 202.9l3.6 3.6l-3.6 3.6l-3.6-3.6zM494.6 203.2l3.6 3.6l-3.6 3.6l-3.6-3.6zM495.3 202.2l3.6 3.6l-3.6 3.6l-3.6-3.6zM496.0 202.5l3.6 3.6l-3.6 3.6l-3.6-3.6zM496.7 203.8l3.6 3.6l-3.6 3.6l-3.6-3.6zM497.4 205.2l3.6 3.6l-3.6 3.6l-3.6-3.6zM498.1 203.5l3.6 3.6l-3.6 3.6l-3.6-3.6zM498.8 203.1l3.6 3.6l-3.6 3.6l-3.6-3.6zM499.5 200.8l3.6 3.6l-3.6 3.6l-3.6-3.6zM500.2 204.9l3.6 3.6l-3.6 3.6l-3.6-3.6zM500.9 202.6l3.6 3.6l-3.6 3.6l-3.6-3.6zM501.6 202.5l3.6 3.6l-3.6 3.6l-3.6-3.6zM502.3 201.1l3.6 3.6l-3.6 3.6l-3.6-3.6zM503.0 202.3l3.6 3.6l-3.6 3.6l-3.6-3.6zM503.7 200.9l3.6 3.6l-3.6 3.6l-3.6-3.6zM504.4 202.1l3.6 3.6l-3.6 3.6l-3.6-3.6zM505.1 202.3l3.6 3.6l-3.6 3.6l-3.6-3.6zM505.9 201.6l3.6 3.6l-3.6 3.6l-3.6-3.6zM506.6 201.7l3.6 3.6l-3.6 3.6l-3.6-3.6zM507.3 200.1l3.6 3.6l-3.6 3.6l-3.6-3.6zM508.0 202.6l3.6 3.6l-3.6 3.6l-3.6-3.6zM508.9 199.9l3.6 3.6l-3.6 3.6l-3.6-3.6zM509.7 198.2l3.6 3.6l-3.6 3.6l-3.6-3.6zM510.5 199.9l3.6 3.6l-3.6 3.6l-3.6-3.6zM511.4 199.0l3.6 3.6l-3.6 3.6l-3.6-3.6zM512.3 199.5l3.6 3.6l-3.6 3.6l-3.6-3.6zM513.1 201.1l3.6 3.6l-3.6 3.6l-3.6-3.6zM514.0 202.7l3.6 3.6l-3.6 3.6l-3.6-3.6zM514.7 202.0l3.6 3.6l-3.6 3.6l-3.6-3.6zM515.5 204.2l3.6 3.6l-3.6 3.6l-3.6-3.6zM516.2 207.0l3.6 3.6l-3.6 3.6l-3.6-3.6zM516.9 206.3l3.6 3.6l-3.6 3.6l-3.6-3.6z"/><path fill="#3F0A8C" d="M162.9 131.6h7.6l-3.8 7.4zM165.1 134.8h7.6l-3.8 7.4zM172.7 137.0h7.6l-3.8 7.4zM160.7 141.4h7.6l-3.8 7.4zM159.6 145.8h7.6l-3.8 7.4zM158.5 154.5h7.6l-3.8 7.4zM157.4 158.9h7.6l-3.8 7.4zM167.3 146.9h7.6l-3.8 7.4zM170.5 151.3h7.6l-3.8 7.4zM171.6 156.7h7.6l-3.8 7.4zM168.4 160.7h7.6l-3.8 7.4zM157.4 171.0h7.6l-3.8 7.4zM157.4 179.7h7.6l-3.8 7.4zM169.4 175.3h7.6l-3.8 7.4zM170.5 180.8h7.6l-3.8 7.4zM170.5 185.2h7.6l-3.8 7.4zM156.3 195.1h7.6l-3.8 7.4zM172.7 122.8h7.6l-3.8 7.4zM185.9 131.6h7.6l-3.8 7.4zM189.2 135.9h7.6l-3.8 7.4zM188.1 143.6h7.6l-3.8 7.4zM187.0 150.2h7.6l-3.8 7.4zM188.1 157.8h7.6l-3.8 7.4zM190.3 123.9h7.6l-3.8 7.4zM174.3 87.7h7.6l-3.8 7.4zM175.4 83.3h7.6l-3.8 7.4zM177.6 78.9h7.6l-3.8 7.4zM179.7 74.5h7.6l-3.8 7.4zM181.9 72.4h7.6l-3.8 7.4zM184.1 74.5h7.6l-3.8 7.4zM185.2 78.9h7.6l-3.8 7.4zM186.3 83.3h7.6l-3.8 7.4zM186.3 87.7h7.6l-3.8 7.4zM184.1 88.8h7.6l-3.8 7.4zM191.8 76.7h7.6l-3.8 7.4zM191.8 88.8h7.6l-3.8 7.4zM192.9 65.8h7.6l-3.8 7.4zM195.1 61.4h7.6l-3.8 7.4zM197.3 57.0h7.6l-3.8 7.4zM199.4 59.2h7.6l-3.8 7.4zM200.5 64.7h7.6l-3.8 7.4zM201.6 70.2h7.6l-3.8 7.4zM202.7 74.5h7.6l-3.8 7.4zM203.4 80.0h7.6l-3.8 7.4zM203.8 85.5h7.6l-3.8 7.4zM203.8 91.0h7.6l-3.8 7.4zM174.3 108.5h7.6l-3.8 7.4zM173.2 118.3h7.6l-3.8 7.4zM185.2 103.0h7.6l-3.8 7.4zM190.7 106.3h7.6l-3.8 7.4zM190.7 121.6h7.6l-3.8 7.4zM202.7 117.2h7.6l-3.8 7.4zM209.3 115.1h7.6l-3.8 7.4zM211.5 103.0h7.6l-3.8 7.4zM213.7 106.3h7.6l-3.8 7.4zM215.9 109.6h7.6l-3.8 7.4zM218.1 114.0h7.6l-3.8 7.4zM220.3 118.3h7.6l-3.8 7.4zM210.0 130.5h7.6l-3.8 7.4zM220.9 131.6h7.6l-3.8 7.4zM219.8 122.8h7.6l-3.8 7.4zM205.6 137.0h7.6l-3.8 7.4zM208.9 143.6h7.6l-3.8 7.4zM204.5 152.4h7.6l-3.8 7.4zM206.7 160.0h7.6l-3.8 7.4zM208.9 163.3h7.6l-3.8 7.4zM222.0 152.4h7.6l-3.8 7.4zM224.8 150.6h7.6l-3.8 7.4zM227.5 150.2h7.6l-3.8 7.4zM231.9 151.3h7.6l-3.8 7.4zM235.1 156.7h7.6l-3.8 7.4zM236.2 165.5h7.6l-3.8 7.4zM237.3 174.3h7.6l-3.8 7.4zM238.4 183.0h7.6l-3.8 7.4zM239.5 191.8h7.6l-3.8 7.4zM239.5 149.1h7.6l-3.8 7.4zM242.8 150.2h7.6l-3.8 7.4zM246.1 154.5h7.6l-3.8 7.4zM248.3 161.1h7.6l-3.8 7.4zM250.5 169.9h7.6l-3.8 7.4zM251.6 178.6h7.6l-3.8 7.4zM252.7 187.4h7.6l-3.8 7.4zM253.8 196.2h7.6l-3.8 7.4zM254.8 203.8h7.6l-3.8 7.4zM255.9 163.3h7.6l-3.8 7.4zM259.2 162.2h7.6l-3.8 7.4zM262.5 164.4h7.6l-3.8 7.4zM264.7 169.9h7.6l-3.8 7.4zM265.8 178.6h7.6l-3.8 7.4zM266.9 185.2h7.6l-3.8 7.4zM276.7 169.9h7.6l-3.8 7.4zM278.9 165.5h7.6l-3.8 7.4zM281.1 163.3h7.6l-3.8 7.4zM283.3 165.5h7.6l-3.8 7.4zM284.4 174.3h7.6l-3.8 7.4zM285.5 185.2h7.6l-3.8 7.4zM286.6 194.0h7.6l-3.8 7.4zM293.2 167.7h7.6l-3.8 7.4zM295.4 163.3h7.6l-3.8 7.4zM298.6 160.0h7.6l-3.8 7.4zM303.0 161.1h7.6l-3.8 7.4zM304.1 168.8h7.6l-3.8 7.4zM305.2 176.4h7.6l-3.8 7.4zM306.3 185.2h7.6l-3.8 7.4zM307.4 194.0h7.6l-3.8 7.4zM312.9 158.9h7.6l-3.8 7.4zM316.2 155.6h7.6l-3.8 7.4zM320.5 156.7h7.6l-3.8 7.4zM323.8 160.0h7.6l-3.8 7.4zM328.2 165.5h7.6l-3.8 7.4zM331.5 172.1h7.6l-3.8 7.4zM334.8 178.6h7.6l-3.8 7.4zM338.1 187.4h7.6l-3.8 7.4zM340.3 196.2h7.6l-3.8 7.4zM341.3 202.7h7.6l-3.8 7.4zM345.7 183.0h7.6l-3.8 7.4zM347.9 187.4h7.6l-3.8 7.4zM276.7 174.3h7.6l-3.8 7.4zM280.0 169.9h7.6l-3.8 7.4zM293.2 174.3h7.6l-3.8 7.4zM344.5 183.0h7.6l-3.8 7.4zM347.8 184.1h7.6l-3.8 7.4zM351.1 187.4h7.6l-3.8 7.4zM353.2 194.0h7.6l-3.8 7.4zM355.4 200.5h7.6l-3.8 7.4zM343.4 194.0h7.6l-3.8 7.4zM342.3 199.4h7.6l-3.8 7.4zM360.9 185.2h7.6l-3.8 7.4zM363.1 180.8h7.6l-3.8 7.4zM362.0 169.9h7.6l-3.8 7.4zM365.3 164.4h7.6l-3.8 7.4zM368.6 162.2h7.6l-3.8 7.4zM371.9 164.4h7.6l-3.8 7.4zM369.7 172.1h7.6l-3.8 7.4zM373.0 176.4h7.6l-3.8 7.4zM374.0 185.2h7.6l-3.8 7.4zM375.1 194.0h7.6l-3.8 7.4zM376.2 200.5h7.6l-3.8 7.4zM377.3 183.0h7.6l-3.8 7.4zM378.4 174.3h7.6l-3.8 7.4zM380.6 167.7h7.6l-3.8 7.4zM382.8 161.1h7.6l-3.8 7.4zM385.0 154.5h7.6l-3.8 7.4zM386.1 149.1h7.6l-3.8 7.4zM388.3 145.8h7.6l-3.8 7.4zM389.4 154.5h7.6l-3.8 7.4zM390.5 161.1h7.6l-3.8 7.4zM391.6 168.8h7.6l-3.8 7.4zM392.7 174.3h7.6l-3.8 7.4zM420.0 140.3h7.6l-3.8 7.4zM422.2 139.2h7.6l-3.8 7.4zM492.8 155.6h7.6l-3.8 7.4zM492.8 164.4h7.6l-3.8 7.4zM492.4 106.4h7.6l-3.8 7.4zM57.8 200.5h7.6l-3.8 7.4zM73.1 201.6h7.6l-3.8 7.4zM74.2 219.1h7.6l-3.8 7.4zM84.0 237.7h7.6l-3.8 7.4zM88.4 242.1h7.6l-3.8 7.4zM92.8 248.6h7.6l-3.8 7.4zM97.2 255.2h7.6l-3.8 7.4zM101.6 246.4h7.6l-3.8 7.4zM103.8 242.1h7.6l-3.8 7.4zM105.9 246.4h7.6l-3.8 7.4zM110.3 251.9h7.6l-3.8 7.4zM114.7 256.3h7.6l-3.8 7.4zM119.1 246.4h7.6l-3.8 7.4zM121.3 242.1h7.6l-3.8 7.4zM125.7 248.6h7.6l-3.8 7.4zM130.0 249.7h7.6l-3.8 7.4zM141.0 222.4h7.6l-3.8 7.4zM147.6 224.5h7.6l-3.8 7.4zM157.4 195.0h7.6l-3.8 7.4zM119.1 280.2h7.6l-3.8 7.4zM308.5 272.7h7.6l-3.8 7.4zM234.0 196.1h7.6l-3.8 7.4zM237.3 199.4h7.6l-3.8 7.4zM249.4 193.9h7.6l-3.8 7.4zM250.5 200.5h7.6l-3.8 7.4zM252.7 204.8h7.6l-3.8 7.4zM253.8 208.1h7.6l-3.8 7.4zM266.9 193.9h7.6l-3.8 7.4zM268.0 200.5h7.6l-3.8 7.4zM266.9 208.1h7.6l-3.8 7.4zM273.5 203.7h7.6l-3.8 7.4zM284.4 193.9h7.6l-3.8 7.4zM287.7 198.3h7.6l-3.8 7.4zM288.8 204.8h7.6l-3.8 7.4zM289.9 210.3h7.6l-3.8 7.4zM304.1 193.9h7.6l-3.8 7.4zM306.3 200.5h7.6l-3.8 7.4zM308.5 207.0h7.6l-3.8 7.4zM310.7 211.4h7.6l-3.8 7.4zM339.2 196.1h7.6l-3.8 7.4zM341.3 202.6h7.6l-3.8 7.4zM343.5 208.1h7.6l-3.8 7.4zM345.7 193.9h7.6l-3.8 7.4zM310.7 284.1h7.6l-3.8 7.4zM56.2 203.3h7.6l-3.8 7.4zM56.9 204.7h7.6l-3.8 7.4zM57.6 204.0h7.6l-3.8 7.4zM58.3 204.1h7.6l-3.8 7.4zM59.1 203.5h7.6l-3.8 7.4zM59.8 204.8h7.6l-3.8 7.4zM60.5 207.0h7.6l-3.8 7.4zM61.2 206.3h7.6l-3.8 7.4zM61.9 207.3h7.6l-3.8 7.4zM62.6 206.3h7.6l-3.8 7.4zM63.3 206.7h7.6l-3.8 7.4zM64.1 206.5h7.6l-3.8 7.4zM64.8 204.1h7.6l-3.8 7.4zM65.5 207.8h7.6l-3.8 7.4zM66.2 207.4h7.6l-3.8 7.4zM67.0 207.3h7.6l-3.8 7.4zM67.7 204.1h7.6l-3.8 7.4zM68.5 203.9h7.6l-3.8 7.4zM69.2 205.0h7.6l-3.8 7.4zM70.0 205.4h7.6l-3.8 7.4zM70.7 206.4h7.6l-3.8 7.4zM71.5 205.8h7.6l-3.8 7.4zM72.2 206.4h7.6l-3.8 7.4zM73.2 207.8h7.6l-3.8 7.4zM74.2 212.1h7.6l-3.8 7.4zM75.2 218.8h7.6l-3.8 7.4zM76.2 223.8h7.6l-3.8 7.4zM76.9 230.6h7.6l-3.8 7.4zM77.6 230.2h7.6l-3.8 7.4zM78.3 233.8h7.6l-3.8 7.4zM79.1 231.9h7.6l-3.8 7.4zM79.8 233.8h7.6l-3.8 7.4zM80.5 236.8h7.6l-3.8 7.4zM81.2 239.5h7.6l-3.8 7.4zM81.9 241.8h7.6l-3.8 7.4zM82.7 241.7h7.6l-3.8 7.4zM83.4 240.9h7.6l-3.8 7.4zM84.1 240.5h7.6l-3.8 7.4zM84.8 242.2h7.6l-3.8 7.4zM85.6 246.7h7.6l-3.8 7.4zM86.3 243.0h7.6l-3.8 7.4zM87.0 246.1h7.6l-3.8 7.4zM87.7 247.2h7.6l-3.8 7.4zM88.5 243.7h7.6l-3.8 7.4zM89.2 247.8h7.6l-3.8 7.4zM89.9 251.3h7.6l-3.8 7.4zM90.7 244.7h7.6l-3.8 7.4zM91.4 249.2h7.6l-3.8 7.4zM92.1 250.4h7.6l-3.8 7.4zM92.8 249.5h7.6l-3.8 7.4zM93.6 253.2h7.6l-3.8 7.4zM94.3 252.7h7.6l-3.8 7.4zM95.0 250.3h7.6l-3.8 7.4zM95.7 256.1h7.6l-3.8 7.4zM96.5 256.4h7.6l-3.8 7.4zM97.2 257.8h7.6l-3.8 7.4zM97.9 257.5h7.6l-3.8 7.4zM98.7 253.8h7.6l-3.8 7.4zM99.4 251.9h7.6l-3.8 7.4zM100.1 247.4h7.6l-3.8 7.4zM100.8 250.2h7.6l-3.8 7.4zM101.6 246.2h7.6l-3.8 7.4zM102.3 245.2h7.6l-3.8 7.4zM103.0 242.0h7.6l-3.8 7.4zM103.7 241.3h7.6l-3.8 7.4zM104.5 240.9h7.6l-3.8 7.4zM105.2 243.5h7.6l-3.8 7.4zM105.9 237.5h7.6l-3.8 7.4zM106.6 240.1h7.6l-3.8 7.4zM107.3 245.1h7.6l-3.8 7.4zM108.1 249.0h7.6l-3.8 7.4zM108.8 248.4h7.6l-3.8 7.4zM109.5 244.2h7.6l-3.8 7.4zM110.2 244.2h7.6l-3.8 7.4zM111.0 251.8h7.6l-3.8 7.4zM111.7 250.8h7.6l-3.8 7.4zM112.5 251.3h7.6l-3.8 7.4zM113.2 257.3h7.6l-3.8 7.4zM114.0 258.9h7.6l-3.8 7.4zM114.7 258.2h7.6l-3.8 7.4zM115.5 259.7h7.6l-3.8 7.4zM116.2 257.7h7.6l-3.8 7.4zM117.0 257.9h7.6l-3.8 7.4zM117.7 253.3h7.6l-3.8 7.4zM118.4 250.7h7.6l-3.8 7.4zM119.2 248.3h7.6l-3.8 7.4zM119.9 241.2h7.6l-3.8 7.4zM120.7 248.2h7.6l-3.8 7.4zM121.4 248.2h7.6l-3.8 7.4zM122.2 248.0h7.6l-3.8 7.4zM122.9 243.2h7.6l-3.8 7.4zM123.7 246.9h7.6l-3.8 7.4zM124.4 250.8h7.6l-3.8 7.4zM125.2 245.7h7.6l-3.8 7.4zM126.0 250.1h7.6l-3.8 7.4zM126.8 253.5h7.6l-3.8 7.4zM127.6 249.2h7.6l-3.8 7.4zM128.3 256.4h7.6l-3.8 7.4zM129.1 254.8h7.6l-3.8 7.4zM129.9 254.1h7.6l-3.8 7.4zM130.7 255.9h7.6l-3.8 7.4zM131.4 253.3h7.6l-3.8 7.4zM132.2 248.7h7.6l-3.8 7.4zM132.9 247.6h7.6l-3.8 7.4zM133.7 240.2h7.6l-3.8 7.4zM134.4 238.2h7.6l-3.8 7.4zM135.1 238.8h7.6l-3.8 7.4zM135.8 234.0h7.6l-3.8 7.4zM136.5 230.1h7.6l-3.8 7.4zM137.2 230.0h7.6l-3.8 7.4zM141.0 224.5h7.6l-3.8 7.4zM147.2 224.1h7.6l-3.8 7.4zM151.2 220.8h7.6l-3.8 7.4zM154.2 218.5h7.6l-3.8 7.4zM162.7 131.5h7.6l-3.8 7.4zM171.7 184.3h7.6l-3.8 7.4zM173.9 91.2h7.6l-3.8 7.4zM174.6 84.4h7.6l-3.8 7.4zM175.4 84.2h7.6l-3.8 7.4zM176.2 76.2h7.6l-3.8 7.4zM176.9 75.4h7.6l-3.8 7.4zM177.6 76.0h7.6l-3.8 7.4zM178.3 76.0h7.6l-3.8 7.4zM179.1 74.9h7.6l-3.8 7.4zM179.8 73.5h7.6l-3.8 7.4zM180.5 72.5h7.6l-3.8 7.4zM181.2 72.9h7.6l-3.8 7.4zM182.0 74.0h7.6l-3.8 7.4zM182.7 73.4h7.6l-3.8 7.4zM183.4 75.8h7.6l-3.8 7.4zM184.2 78.0h7.6l-3.8 7.4zM184.9 80.9h7.6l-3.8 7.4zM185.6 87.1h7.6l-3.8 7.4zM185.2 89.5h7.6l-3.8 7.4zM192.9 68.5h7.6l-3.8 7.4zM193.7 64.7h7.6l-3.8 7.4zM194.4 62.2h7.6l-3.8 7.4zM195.2 60.9h7.6l-3.8 7.4zM196.2 59.2h7.6l-3.8 7.4zM197.2 58.3h7.6l-3.8 7.4zM197.9 57.3h7.6l-3.8 7.4zM198.7 59.0h7.6l-3.8 7.4zM199.4 61.8h7.6l-3.8 7.4zM200.5 61.1h7.6l-3.8 7.4zM201.6 68.6h7.6l-3.8 7.4zM202.7 75.0h7.6l-3.8 7.4zM203.4 80.3h7.6l-3.8 7.4zM203.8 86.0h7.6l-3.8 7.4zM203.8 90.1h7.6l-3.8 7.4zM211.7 103.6h7.6l-3.8 7.4zM212.4 104.1h7.6l-3.8 7.4zM213.2 104.0h7.6l-3.8 7.4zM214.2 110.6h7.6l-3.8 7.4zM215.2 110.2h7.6l-3.8 7.4zM216.2 110.4h7.6l-3.8 7.4zM217.2 112.6h7.6l-3.8 7.4zM218.2 113.9h7.6l-3.8 7.4zM219.2 115.6h7.6l-3.8 7.4zM220.0 113.4h7.6l-3.8 7.4zM220.9 118.0h7.6l-3.8 7.4zM224.8 152.0h7.6l-3.8 7.4zM225.7 148.8h7.6l-3.8 7.4zM226.6 150.2h7.6l-3.8 7.4zM227.5 151.5h7.6l-3.8 7.4zM228.2 151.6h7.6l-3.8 7.4zM229.0 152.7h7.6l-3.8 7.4zM229.7 148.4h7.6l-3.8 7.4zM230.4 150.4h7.6l-3.8 7.4zM231.2 150.6h7.6l-3.8 7.4zM231.9 152.2h7.6l-3.8 7.4zM232.7 154.2h7.6l-3.8 7.4zM233.5 150.2h7.6l-3.8 7.4zM234.3 156.9h7.6l-3.8 7.4zM235.1 154.7h7.6l-3.8 7.4zM236.2 166.5h7.6l-3.8 7.4zM237.3 172.2h7.6l-3.8 7.4zM238.4 183.2h7.6l-3.8 7.4zM239.5 193.5h7.6l-3.8 7.4zM240.2 196.5h7.6l-3.8 7.4zM240.0 183.6h7.6l-3.8 7.4zM239.7 171.1h7.6l-3.8 7.4zM239.5 156.9h7.6l-3.8 7.4zM240.3 153.3h7.6l-3.8 7.4zM241.2 152.3h7.6l-3.8 7.4zM241.9 152.2h7.6l-3.8 7.4zM242.6 150.8h7.6l-3.8 7.4zM243.3 155.5h7.6l-3.8 7.4zM244.0 150.6h7.6l-3.8 7.4zM244.7 154.0h7.6l-3.8 7.4zM245.7 156.5h7.6l-3.8 7.4zM246.7 161.3h7.6l-3.8 7.4zM247.5 165.0h7.6l-3.8 7.4zM248.4 167.3h7.6l-3.8 7.4zM249.2 170.8h7.6l-3.8 7.4zM250.2 172.1h7.6l-3.8 7.4zM251.2 176.5h7.6l-3.8 7.4zM251.9 183.9h7.6l-3.8 7.4zM252.7 186.1h7.6l-3.8 7.4zM253.8 194.8h7.6l-3.8 7.4zM254.8 201.7h7.6l-3.8 7.4zM255.3 189.5h7.6l-3.8 7.4zM255.9 172.7h7.6l-3.8 7.4zM256.7 171.1h7.6l-3.8 7.4zM257.4 165.1h7.6l-3.8 7.4zM258.2 163.7h7.6l-3.8 7.4zM258.9 161.9h7.6l-3.8 7.4zM259.7 164.3h7.6l-3.8 7.4zM260.4 165.2h7.6l-3.8 7.4zM261.2 161.5h7.6l-3.8 7.4zM261.9 165.9h7.6l-3.8 7.4zM262.7 166.1h7.6l-3.8 7.4zM263.4 165.5h7.6l-3.8 7.4zM264.2 163.9h7.6l-3.8 7.4zM265.0 174.6h7.6l-3.8 7.4zM265.8 178.5h7.6l-3.8 7.4zM266.5 182.8h7.6l-3.8 7.4zM267.2 189.3h7.6l-3.8 7.4zM267.9 194.3h7.6l-3.8 7.4zM268.5 200.8h7.6l-3.8 7.4zM269.2 202.3h7.6l-3.8 7.4zM270.0 201.9h7.6l-3.8 7.4zM270.8 199.0h7.6l-3.8 7.4zM271.6 195.5h7.6l-3.8 7.4zM272.4 189.8h7.6l-3.8 7.4zM273.2 185.7h7.6l-3.8 7.4zM274.0 185.3h7.6l-3.8 7.4zM274.8 181.3h7.6l-3.8 7.4zM275.6 178.5h7.6l-3.8 7.4zM276.4 177.5h7.6l-3.8 7.4zM277.2 172.3h7.6l-3.8 7.4zM277.9 167.5h7.6l-3.8 7.4zM278.7 168.2h7.6l-3.8 7.4zM279.4 164.1h7.6l-3.8 7.4zM280.2 165.8h7.6l-3.8 7.4zM281.0 164.2h7.6l-3.8 7.4zM281.7 162.0h7.6l-3.8 7.4zM282.5 162.0h7.6l-3.8 7.4zM283.3 165.5h7.6l-3.8 7.4zM284.2 166.8h7.6l-3.8 7.4zM285.2 175.1h7.6l-3.8 7.4zM286.2 179.6h7.6l-3.8 7.4zM287.2 187.7h7.6l-3.8 7.4zM288.2 194.8h7.6l-3.8 7.4zM288.7 201.0h7.6l-3.8 7.4zM289.2 203.8h7.6l-3.8 7.4zM289.9 201.4h7.6l-3.8 7.4zM290.7 193.1h7.6l-3.8 7.4zM291.4 189.7h7.6l-3.8 7.4zM292.2 184.0h7.6l-3.8 7.4zM293.1 184.2h7.6l-3.8 7.4zM293.9 177.0h7.6l-3.8 7.4zM294.7 174.7h7.6l-3.8 7.4zM295.6 170.4h7.6l-3.8 7.4zM296.4 168.5h7.6l-3.8 7.4zM297.2 165.5h7.6l-3.8 7.4zM298.1 164.5h7.6l-3.8 7.4zM298.9 164.5h7.6l-3.8 7.4zM299.7 161.5h7.6l-3.8 7.4zM300.6 161.6h7.6l-3.8 7.4zM301.4 161.8h7.6l-3.8 7.4zM302.2 159.5h7.6l-3.8 7.4zM302.9 160.8h7.6l-3.8 7.4zM303.7 164.5h7.6l-3.8 7.4zM304.4 169.5h7.6l-3.8 7.4zM305.2 168.4h7.6l-3.8 7.4zM305.9 174.9h7.6l-3.8 7.4zM306.5 182.1h7.6l-3.8 7.4zM307.2 186.8h7.6l-3.8 7.4zM308.0 190.9h7.6l-3.8 7.4zM308.9 197.3h7.6l-3.8 7.4zM309.7 201.6h7.6l-3.8 7.4zM310.9 208.5h7.6l-3.8 7.4zM312.2 184.5h7.6l-3.8 7.4zM312.9 178.8h7.6l-3.8 7.4zM313.7 174.0h7.6l-3.8 7.4zM314.4 164.9h7.6l-3.8 7.4zM315.2 157.4h7.6l-3.8 7.4zM315.9 157.3h7.6l-3.8 7.4zM316.7 155.9h7.6l-3.8 7.4zM317.4 157.5h7.6l-3.8 7.4zM318.2 155.6h7.6l-3.8 7.4zM318.9 157.5h7.6l-3.8 7.4zM319.7 153.3h7.6l-3.8 7.4zM320.4 157.7h7.6l-3.8 7.4zM321.1 156.9h7.6l-3.8 7.4zM321.9 155.7h7.6l-3.8 7.4zM322.6 160.0h7.6l-3.8 7.4zM323.3 159.2h7.6l-3.8 7.4zM324.0 157.1h7.6l-3.8 7.4zM324.8 159.6h7.6l-3.8 7.4zM325.5 161.8h7.6l-3.8 7.4zM326.2 161.4h7.6l-3.8 7.4zM326.9 164.5h7.6l-3.8 7.4zM327.7 165.9h7.6l-3.8 7.4zM328.4 167.3h7.6l-3.8 7.4zM329.2 168.3h7.6l-3.8 7.4zM329.9 171.1h7.6l-3.8 7.4zM330.7 171.6h7.6l-3.8 7.4zM331.4 173.2h7.6l-3.8 7.4zM332.1 171.4h7.6l-3.8 7.4zM332.8 177.5h7.6l-3.8 7.4zM333.6 179.9h7.6l-3.8 7.4zM334.3 179.5h7.6l-3.8 7.4zM335.0 181.0h7.6l-3.8 7.4zM335.7 186.6h7.6l-3.8 7.4zM336.5 183.6h7.6l-3.8 7.4zM337.2 188.9h7.6l-3.8 7.4zM337.9 193.8h7.6l-3.8 7.4zM338.7 191.2h7.6l-3.8 7.4zM339.4 195.7h7.6l-3.8 7.4zM340.2 199.6h7.6l-3.8 7.4zM341.1 199.0h7.6l-3.8 7.4zM341.9 202.2h7.6l-3.8 7.4zM342.7 205.0h7.6l-3.8 7.4zM343.4 199.1h7.6l-3.8 7.4zM344.2 196.9h7.6l-3.8 7.4zM344.9 194.1h7.6l-3.8 7.4zM345.7 191.5h7.6l-3.8 7.4zM346.4 187.0h7.6l-3.8 7.4zM347.2 183.4h7.6l-3.8 7.4zM347.9 181.3h7.6l-3.8 7.4zM348.7 181.2h7.6l-3.8 7.4zM349.4 181.9h7.6l-3.8 7.4zM350.2 179.8h7.6l-3.8 7.4zM351.2 179.5h7.6l-3.8 7.4zM352.2 180.5h7.6l-3.8 7.4zM353.0 188.4h7.6l-3.8 7.4zM353.9 189.3h7.6l-3.8 7.4zM354.7 191.6h7.6l-3.8 7.4zM355.4 190.6h7.6l-3.8 7.4zM356.2 198.7h7.6l-3.8 7.4zM356.9 202.1h7.6l-3.8 7.4zM357.6 200.1h7.6l-3.8 7.4zM358.3 194.8h7.6l-3.8 7.4zM359.1 190.5h7.6l-3.8 7.4zM359.8 187.7h7.6l-3.8 7.4zM360.5 180.6h7.6l-3.8 7.4zM361.2 181.1h7.6l-3.8 7.4zM362.0 176.5h7.6l-3.8 7.4zM362.7 171.4h7.6l-3.8 7.4zM363.5 170.6h7.6l-3.8 7.4zM364.2 169.0h7.6l-3.8 7.4zM365.0 162.3h7.6l-3.8 7.4zM365.7 161.1h7.6l-3.8 7.4zM366.4 162.6h7.6l-3.8 7.4zM367.2 162.6h7.6l-3.8 7.4zM367.9 162.0h7.6l-3.8 7.4zM368.7 161.4h7.6l-3.8 7.4zM369.4 165.9h7.6l-3.8 7.4zM370.2 164.6h7.6l-3.8 7.4zM370.9 164.3h7.6l-3.8 7.4zM371.7 167.0h7.6l-3.8 7.4zM372.4 174.2h7.6l-3.8 7.4zM373.2 176.1h7.6l-3.8 7.4zM373.9 182.6h7.6l-3.8 7.4zM374.5 186.5h7.6l-3.8 7.4zM375.2 189.5h7.6l-3.8 7.4zM376.0 194.6h7.6l-3.8 7.4zM376.9 194.8h7.6l-3.8 7.4zM377.7 200.4h7.6l-3.8 7.4zM378.4 196.0h7.6l-3.8 7.4zM379.2 191.4h7.6l-3.8 7.4zM380.0 185.3h7.6l-3.8 7.4zM380.8 181.7h7.6l-3.8 7.4zM381.6 178.1h7.6l-3.8 7.4zM382.4 173.6h7.6l-3.8 7.4zM383.2 169.6h7.6l-3.8 7.4zM384.2 161.0h7.6l-3.8 7.4zM385.2 152.2h7.6l-3.8 7.4zM386.2 151.1h7.6l-3.8 7.4zM387.2 147.3h7.6l-3.8 7.4zM388.2 151.8h7.6l-3.8 7.4zM389.2 157.8h7.6l-3.8 7.4zM390.0 163.3h7.6l-3.8 7.4zM390.7 167.7h7.6l-3.8 7.4zM391.5 172.6h7.6l-3.8 7.4zM392.3 168.5h7.6l-3.8 7.4zM393.2 164.9h7.6l-3.8 7.4zM394.0 160.7h7.6l-3.8 7.4zM394.8 155.3h7.6l-3.8 7.4zM396.2 147.3h7.6l-3.8 7.4zM397.1 144.1h7.6l-3.8 7.4zM398.1 140.1h7.6l-3.8 7.4zM399.2 137.0h7.6l-3.8 7.4zM399.9 137.1h7.6l-3.8 7.4zM400.7 135.4h7.6l-3.8 7.4zM401.4 134.1h7.6l-3.8 7.4zM402.2 135.3h7.6l-3.8 7.4zM403.0 134.4h7.6l-3.8 7.4zM403.8 135.8h7.6l-3.8 7.4zM404.6 134.3h7.6l-3.8 7.4zM405.4 133.0h7.6l-3.8 7.4zM406.2 134.3h7.6l-3.8 7.4zM407.0 136.7h7.6l-3.8 7.4zM407.8 135.3h7.6l-3.8 7.4zM408.6 134.6h7.6l-3.8 7.4zM409.4 135.4h7.6l-3.8 7.4zM410.2 136.6h7.6l-3.8 7.4zM410.9 137.0h7.6l-3.8 7.4zM411.7 137.1h7.6l-3.8 7.4zM412.4 138.6h7.6l-3.8 7.4zM413.2 138.3h7.6l-3.8 7.4zM414.2 139.2h7.6l-3.8 7.4zM415.2 141.2h7.6l-3.8 7.4zM416.1 145.0h7.6l-3.8 7.4zM416.9 147.3h7.6l-3.8 7.4zM417.8 150.3h7.6l-3.8 7.4zM418.6 146.6h7.6l-3.8 7.4zM419.4 145.5h7.6l-3.8 7.4zM420.2 144.3h7.6l-3.8 7.4zM421.2 141.2h7.6l-3.8 7.4zM422.2 140.1h7.6l-3.8 7.4zM422.9 142.5h7.6l-3.8 7.4zM423.7 145.6h7.6l-3.8 7.4zM424.4 147.5h7.6l-3.8 7.4zM425.2 151.7h7.6l-3.8 7.4zM426.1 152.5h7.6l-3.8 7.4zM426.9 153.1h7.6l-3.8 7.4zM427.7 155.3h7.6l-3.8 7.4zM428.5 158.7h7.6l-3.8 7.4zM429.3 157.4h7.6l-3.8 7.4zM430.2 159.7h7.6l-3.8 7.4zM431.0 161.0h7.6l-3.8 7.4zM431.7 160.8h7.6l-3.8 7.4zM432.5 160.4h7.6l-3.8 7.4zM433.2 162.1h7.6l-3.8 7.4zM433.9 162.8h7.6l-3.8 7.4zM434.7 164.1h7.6l-3.8 7.4zM435.4 164.4h7.6l-3.8 7.4zM436.1 164.1h7.6l-3.8 7.4zM436.8 165.1h7.6l-3.8 7.4zM437.6 165.2h7.6l-3.8 7.4zM438.3 165.2h7.6l-3.8 7.4zM439.0 165.4h7.6l-3.8 7.4zM439.7 165.5h7.6l-3.8 7.4zM440.5 166.6h7.6l-3.8 7.4zM441.3 165.4h7.6l-3.8 7.4zM442.1 166.0h7.6l-3.8 7.4zM442.8 166.8h7.6l-3.8 7.4zM443.6 165.9h7.6l-3.8 7.4zM444.4 167.0h7.6l-3.8 7.4zM445.2 166.0h7.6l-3.8 7.4zM446.0 167.3h7.6l-3.8 7.4zM446.8 168.6h7.6l-3.8 7.4zM447.6 168.8h7.6l-3.8 7.4zM448.3 168.5h7.6l-3.8 7.4zM449.1 168.6h7.6l-3.8 7.4zM449.9 167.8h7.6l-3.8 7.4zM450.7 170.8h7.6l-3.8 7.4zM451.5 169.9h7.6l-3.8 7.4zM452.3 170.6h7.6l-3.8 7.4zM453.1 169.2h7.6l-3.8 7.4zM453.8 170.0h7.6l-3.8 7.4zM454.6 168.9h7.6l-3.8 7.4zM455.4 171.3h7.6l-3.8 7.4zM456.2 171.7h7.6l-3.8 7.4zM457.0 169.5h7.6l-3.8 7.4zM457.7 171.2h7.6l-3.8 7.4zM458.5 172.0h7.6l-3.8 7.4zM459.3 170.1h7.6l-3.8 7.4zM460.1 170.3h7.6l-3.8 7.4zM460.8 171.1h7.6l-3.8 7.4zM461.6 171.7h7.6l-3.8 7.4zM462.4 171.2h7.6l-3.8 7.4zM463.2 172.5h7.6l-3.8 7.4zM464.0 172.8h7.6l-3.8 7.4zM464.7 173.3h7.6l-3.8 7.4zM465.5 173.5h7.6l-3.8 7.4zM466.3 174.3h7.6l-3.8 7.4zM467.1 174.2h7.6l-3.8 7.4zM467.9 172.2h7.6l-3.8 7.4zM468.7 173.1h7.6l-3.8 7.4zM469.5 172.7h7.6l-3.8 7.4zM470.2 172.9h7.6l-3.8 7.4zM471.0 173.8h7.6l-3.8 7.4zM471.8 174.1h7.6l-3.8 7.4zM472.6 174.6h7.6l-3.8 7.4zM473.4 173.0h7.6l-3.8 7.4zM474.2 173.4h7.6l-3.8 7.4zM475.0 174.6h7.6l-3.8 7.4zM475.7 174.6h7.6l-3.8 7.4zM476.5 174.6h7.6l-3.8 7.4zM477.3 175.0h7.6l-3.8 7.4zM478.1 174.6h7.6l-3.8 7.4zM478.9 175.9h7.6l-3.8 7.4zM479.7 175.8h7.6l-3.8 7.4zM480.5 175.6h7.6l-3.8 7.4zM481.2 175.2h7.6l-3.8 7.4zM482.0 175.8h7.6l-3.8 7.4zM482.8 173.7h7.6l-3.8 7.4zM483.6 175.4h7.6l-3.8 7.4zM484.3 176.4h7.6l-3.8 7.4zM485.0 175.2h7.6l-3.8 7.4zM485.7 176.8h7.6l-3.8 7.4zM486.5 176.9h7.6l-3.8 7.4zM487.2 175.7h7.6l-3.8 7.4zM487.9 176.8h7.6l-3.8 7.4zM488.7 176.5h7.6l-3.8 7.4zM489.6 177.0h7.6l-3.8 7.4zM490.4 176.9h7.6l-3.8 7.4zM491.2 176.2h7.6l-3.8 7.4zM491.9 175.4h7.6l-3.8 7.4zM492.7 176.0h7.6l-3.8 7.4zM493.4 176.0h7.6l-3.8 7.4zM494.2 176.6h7.6l-3.8 7.4zM494.9 176.1h7.6l-3.8 7.4zM495.7 175.2h7.6l-3.8 7.4zM496.4 174.6h7.6l-3.8 7.4zM497.2 175.4h7.6l-3.8 7.4zM497.9 175.2h7.6l-3.8 7.4zM498.7 175.0h7.6l-3.8 7.4zM499.4 175.9h7.6l-3.8 7.4zM500.1 175.7h7.6l-3.8 7.4zM500.9 176.3h7.6l-3.8 7.4zM501.6 176.8h7.6l-3.8 7.4zM502.3 176.1h7.6l-3.8 7.4zM503.1 178.6h7.6l-3.8 7.4zM503.8 176.4h7.6l-3.8 7.4zM504.5 177.9h7.6l-3.8 7.4zM505.3 177.3h7.6l-3.8 7.4zM506.0 178.4h7.6l-3.8 7.4zM506.7 175.7h7.6l-3.8 7.4zM507.5 177.3h7.6l-3.8 7.4zM508.2 178.4h7.6l-3.8 7.4zM508.9 179.0h7.6l-3.8 7.4zM509.7 180.9h7.6l-3.8 7.4zM510.4 179.5h7.6l-3.8 7.4zM511.2 181.1h7.6l-3.8 7.4zM511.9 181.5h7.6l-3.8 7.4zM512.7 181.7h7.6l-3.8 7.4z"/><path fill="#19827D" d="M69.2 272.0l3.7 7.3h-7.4zM68.1 282.6l3.7 7.3h-7.4zM67.7 286.9l3.7 7.3h-7.4zM276.2 266.3l3.7 7.3h-7.4zM279.0 265.3l3.7 7.3h-7.4zM276.2 278.2l3.7 7.3h-7.4zM277.3 291.3l3.7 7.3h-7.4zM66.3 288.6l3.7 7.3h-7.4zM69.0 287.8l3.7 7.3h-7.4zM61.0 218.8l3.7 7.3h-7.4zM64.0 221.8l3.7 7.3h-7.4zM66.0 224.3l3.7 7.3h-7.4zM68.0 226.8l3.7 7.3h-7.4zM70.3 227.8l3.7 7.3h-7.4zM72.7 228.8l3.7 7.3h-7.4zM75.0 229.8l3.7 7.3h-7.4zM77.1 229.8l3.7 7.3h-7.4zM79.2 229.9l3.7 7.3h-7.4zM81.2 229.9l3.7 7.3h-7.4zM83.3 230.0l3.7 7.3h-7.4zM85.4 230.0l3.7 7.3h-7.4zM87.5 230.1l3.7 7.3h-7.4zM89.6 230.1l3.7 7.3h-7.4zM91.7 230.1l3.7 7.3h-7.4zM93.8 230.2l3.7 7.3h-7.4zM95.8 230.2l3.7 7.3h-7.4zM97.9 230.3l3.7 7.3h-7.4zM100.0 230.3l3.7 7.3h-7.4zM102.0 230.3l3.7 7.3h-7.4zM104.0 230.3l3.7 7.3h-7.4zM106.0 230.4l3.7 7.3h-7.4zM108.0 230.4l3.7 7.3h-7.4zM110.0 230.4l3.7 7.3h-7.4zM112.0 230.4l3.7 7.3h-7.4zM114.0 230.4l3.7 7.3h-7.4zM116.0 230.5l3.7 7.3h-7.4zM118.0 230.5l3.7 7.3h-7.4zM120.0 230.5l3.7 7.3h-7.4zM122.0 230.5l3.7 7.3h-7.4zM124.0 230.5l3.7 7.3h-7.4zM126.0 230.6l3.7 7.3h-7.4zM128.0 230.6l3.7 7.3h-7.4zM130.0 230.6l3.7 7.3h-7.4zM132.0 230.6l3.7 7.3h-7.4zM134.0 230.6l3.7 7.3h-7.4zM136.0 230.7l3.7 7.3h-7.4zM138.0 230.7l3.7 7.3h-7.4zM140.0 230.7l3.7 7.3h-7.4zM142.0 230.7l3.7 7.3h-7.4zM144.0 230.7l3.7 7.3h-7.4zM146.0 230.8l3.7 7.3h-7.4zM148.0 230.8l3.7 7.3h-7.4zM150.0 230.8l3.7 7.3h-7.4zM152.0 230.8l3.7 7.3h-7.4zM154.0 230.8l3.7 7.3h-7.4zM156.0 230.9l3.7 7.3h-7.4zM158.0 230.9l3.7 7.3h-7.4zM160.0 230.9l3.7 7.3h-7.4zM162.0 230.9l3.7 7.3h-7.4zM164.0 230.9l3.7 7.3h-7.4zM166.0 231.0l3.7 7.3h-7.4zM168.0 231.0l3.7 7.3h-7.4zM170.0 231.0l3.7 7.3h-7.4zM172.0 231.0l3.7 7.3h-7.4zM174.0 231.0l3.7 7.3h-7.4zM176.0 231.1l3.7 7.3h-7.4zM178.0 231.1l3.7 7.3h-7.4zM180.0 231.1l3.7 7.3h-7.4zM182.0 231.1l3.7 7.3h-7.4zM184.0 231.1l3.7 7.3h-7.4zM186.0 231.2l3.7 7.3h-7.4zM188.0 231.2l3.7 7.3h-7.4zM190.0 231.2l3.7 7.3h-7.4zM192.0 231.2l3.7 7.3h-7.4zM194.0 231.2l3.7 7.3h-7.4zM196.0 231.3l3.7 7.3h-7.4zM198.0 231.3l3.7 7.3h-7.4zM200.0 231.3l3.7 7.3h-7.4zM202.0 231.3l3.7 7.3h-7.4zM204.0 231.3l3.7 7.3h-7.4zM206.0 231.4l3.7 7.3h-7.4zM208.0 231.4l3.7 7.3h-7.4zM210.0 231.4l3.7 7.3h-7.4zM212.0 231.4l3.7 7.3h-7.4zM214.0 231.4l3.7 7.3h-7.4zM216.0 231.5l3.7 7.3h-7.4zM218.0 231.5l3.7 7.3h-7.4zM220.0 231.5l3.7 7.3h-7.4zM222.0 231.5l3.7 7.3h-7.4zM224.0 231.5l3.7 7.3h-7.4zM226.0 231.6l3.7 7.3h-7.4zM228.0 231.6l3.7 7.3h-7.4zM230.0 231.6l3.7 7.3h-7.4zM232.0 231.6l3.7 7.3h-7.4zM234.0 231.6l3.7 7.3h-7.4zM236.0 231.7l3.7 7.3h-7.4zM238.0 231.7l3.7 7.3h-7.4zM240.0 231.7l3.7 7.3h-7.4zM242.0 231.7l3.7 7.3h-7.4zM244.0 231.7l3.7 7.3h-7.4zM246.0 231.8l3.7 7.3h-7.4zM248.0 231.8l3.7 7.3h-7.4zM250.0 231.8l3.7 7.3h-7.4zM252.0 231.9l3.7 7.3h-7.4zM254.0 231.9l3.7 7.3h-7.4zM256.0 232.0l3.7 7.3h-7.4zM258.0 232.0l3.7 7.3h-7.4zM260.0 232.1l3.7 7.3h-7.4zM262.0 232.2l3.7 7.3h-7.4zM264.0 232.2l3.7 7.3h-7.4zM266.0 232.3l3.7 7.3h-7.4zM268.0 232.3l3.7 7.3h-7.4zM270.0 232.4l3.7 7.3h-7.4zM272.0 232.5l3.7 7.3h-7.4zM274.0 232.5l3.7 7.3h-7.4zM276.0 232.6l3.7 7.3h-7.4zM278.0 232.6l3.7 7.3h-7.4zM280.0 232.7l3.7 7.3h-7.4zM282.0 232.8l3.7 7.3h-7.4zM284.0 232.8l3.7 7.3h-7.4zM286.0 232.9l3.7 7.3h-7.4zM288.0 232.9l3.7 7.3h-7.4zM290.0 233.0l3.7 7.3h-7.4zM292.0 233.1l3.7 7.3h-7.4zM294.0 233.1l3.7 7.3h-7.4zM296.0 233.2l3.7 7.3h-7.4zM298.0 233.2l3.7 7.3h-7.4zM300.0 233.3l3.7 7.3h-7.4zM302.0 233.4l3.7 7.3h-7.4zM304.0 233.6l3.7 7.3h-7.4zM306.0 233.7l3.7 7.3h-7.4zM308.0 233.8l3.7 7.3h-7.4zM310.0 233.9l3.7 7.3h-7.4zM312.0 234.1l3.7 7.3h-7.4zM314.0 234.2l3.7 7.3h-7.4zM316.0 234.3l3.7 7.3h-7.4zM318.0 234.4l3.7 7.3h-7.4zM320.0 234.6l3.7 7.3h-7.4zM322.0 234.7l3.7 7.3h-7.4zM324.0 234.8l3.7 7.3h-7.4zM326.0 234.9l3.7 7.3h-7.4zM328.0 235.1l3.7 7.3h-7.4zM330.0 235.2l3.7 7.3h-7.4zM332.0 235.3l3.7 7.3h-7.4zM334.0 235.4l3.7 7.3h-7.4zM336.0 235.6l3.7 7.3h-7.4zM338.0 235.7l3.7 7.3h-7.4zM340.0 235.8l3.7 7.3h-7.4zM342.0 235.9l3.7 7.3h-7.4zM344.0 235.9l3.7 7.3h-7.4zM346.0 236.0l3.7 7.3h-7.4zM348.0 236.0l3.7 7.3h-7.4zM350.0 236.1l3.7 7.3h-7.4zM352.0 236.1l3.7 7.3h-7.4zM354.0 236.2l3.7 7.3h-7.4zM356.0 236.2l3.7 7.3h-7.4zM358.0 236.2l3.7 7.3h-7.4zM360.0 236.3l3.7 7.3h-7.4zM362.0 236.4l3.7 7.3h-7.4zM364.0 236.4l3.7 7.3h-7.4zM366.0 236.5l3.7 7.3h-7.4zM368.0 236.5l3.7 7.3h-7.4zM370.0 236.6l3.7 7.3h-7.4zM372.0 236.6l3.7 7.3h-7.4zM374.0 236.7l3.7 7.3h-7.4zM376.0 236.7l3.7 7.3h-7.4zM378.0 236.8l3.7 7.3h-7.4zM380.0 236.8l3.7 7.3h-7.4zM382.0 236.6l3.7 7.3h-7.4zM384.0 236.5l3.7 7.3h-7.4zM386.0 236.3l3.7 7.3h-7.4zM388.0 236.1l3.7 7.3h-7.4zM390.0 236.0l3.7 7.3h-7.4zM392.0 235.8l3.7 7.3h-7.4zM394.0 236.6l3.7 7.3h-7.4zM396.0 237.5l3.7 7.3h-7.4zM398.0 238.3l3.7 7.3h-7.4zM400.0 238.8l3.7 7.3h-7.4zM402.0 239.3l3.7 7.3h-7.4zM404.0 239.8l3.7 7.3h-7.4zM61.0 216.6l3.7 7.3h-7.4zM64.0 220.5l3.7 7.3h-7.4zM66.0 218.8l3.7 7.3h-7.4zM68.0 222.8l3.7 7.3h-7.4zM71.5 226.4l3.7 7.3h-7.4zM75.0 229.2l3.7 7.3h-7.4zM78.1 227.9l3.7 7.3h-7.4zM81.2 224.0l3.7 7.3h-7.4zM84.4 227.3l3.7 7.3h-7.4zM87.5 224.4l3.7 7.3h-7.4zM90.6 227.1l3.7 7.3h-7.4zM93.8 228.7l3.7 7.3h-7.4zM96.9 224.7l3.7 7.3h-7.4zM100.0 229.5l3.7 7.3h-7.4zM102.9 228.1l3.7 7.3h-7.4zM105.9 225.7l3.7 7.3h-7.4zM108.8 225.3l3.7 7.3h-7.4zM111.8 226.8l3.7 7.3h-7.4zM114.7 229.2l3.7 7.3h-7.4zM117.6 227.7l3.7 7.3h-7.4zM120.6 225.0l3.7 7.3h-7.4zM123.5 224.5l3.7 7.3h-7.4zM126.5 225.0l3.7 7.3h-7.4zM129.4 229.1l3.7 7.3h-7.4zM132.4 225.5l3.7 7.3h-7.4zM135.3 227.7l3.7 7.3h-7.4zM138.2 226.2l3.7 7.3h-7.4zM141.2 228.6l3.7 7.3h-7.4zM144.1 226.8l3.7 7.3h-7.4zM147.1 225.4l3.7 7.3h-7.4zM150.0 229.7l3.7 7.3h-7.4zM152.9 227.8l3.7 7.3h-7.4zM155.9 228.7l3.7 7.3h-7.4zM158.8 229.4l3.7 7.3h-7.4zM161.8 230.3l3.7 7.3h-7.4zM164.7 224.8l3.7 7.3h-7.4zM167.6 226.8l3.7 7.3h-7.4zM170.6 225.7l3.7 7.3h-7.4zM173.5 227.8l3.7 7.3h-7.4zM176.5 230.0l3.7 7.3h-7.4zM179.4 229.6l3.7 7.3h-7.4zM182.4 225.1l3.7 7.3h-7.4zM185.3 226.0l3.7 7.3h-7.4zM188.2 229.8l3.7 7.3h-7.4zM191.2 229.0l3.7 7.3h-7.4zM194.1 227.3l3.7 7.3h-7.4zM197.1 227.9l3.7 7.3h-7.4zM200.0 226.0l3.7 7.3h-7.4zM202.9 230.1l3.7 7.3h-7.4zM205.9 227.5l3.7 7.3h-7.4zM208.8 230.3l3.7 7.3h-7.4zM211.8 228.8l3.7 7.3h-7.4zM214.7 225.7l3.7 7.3h-7.4zM217.6 227.2l3.7 7.3h-7.4zM220.6 226.6l3.7 7.3h-7.4zM223.5 230.6l3.7 7.3h-7.4zM226.5 228.8l3.7 7.3h-7.4zM229.4 225.7l3.7 7.3h-7.4zM232.4 226.4l3.7 7.3h-7.4zM235.3 227.6l3.7 7.3h-7.4zM238.2 228.2l3.7 7.3h-7.4zM241.2 228.9l3.7 7.3h-7.4zM244.1 227.8l3.7 7.3h-7.4zM247.1 227.7l3.7 7.3h-7.4zM250.0 225.6l3.7 7.3h-7.4zM252.9 229.1l3.7 7.3h-7.4zM255.9 227.7l3.7 7.3h-7.4zM258.8 226.0l3.7 7.3h-7.4zM261.8 228.7l3.7 7.3h-7.4zM264.7 231.8l3.7 7.3h-7.4zM267.6 226.4l3.7 7.3h-7.4zM270.6 227.1l3.7 7.3h-7.4zM273.5 230.3l3.7 7.3h-7.4zM276.5 228.0l3.7 7.3h-7.4zM279.4 228.1l3.7 7.3h-7.4zM282.4 229.5l3.7 7.3h-7.4zM285.3 228.2l3.7 7.3h-7.4zM288.2 230.1l3.7 7.3h-7.4zM291.2 229.9l3.7 7.3h-7.4zM294.1 232.6l3.7 7.3h-7.4zM297.1 232.8l3.7 7.3h-7.4zM300.0 227.3l3.7 7.3h-7.4zM302.9 230.6l3.7 7.3h-7.4zM305.7 232.0l3.7 7.3h-7.4zM308.6 232.8l3.7 7.3h-7.4zM311.4 232.4l3.7 7.3h-7.4zM314.3 231.7l3.7 7.3h-7.4zM317.1 231.9l3.7 7.3h-7.4zM320.0 230.5l3.7 7.3h-7.4zM322.9 230.2l3.7 7.3h-7.4zM325.7 233.4l3.7 7.3h-7.4zM328.6 234.0l3.7 7.3h-7.4zM331.4 234.6l3.7 7.3h-7.4zM334.3 233.2l3.7 7.3h-7.4zM337.1 231.2l3.7 7.3h-7.4zM340.0 234.1l3.7 7.3h-7.4zM342.9 234.0l3.7 7.3h-7.4zM345.7 232.7l3.7 7.3h-7.4zM348.6 233.5l3.7 7.3h-7.4zM351.4 231.9l3.7 7.3h-7.4zM354.3 233.2l3.7 7.3h-7.4zM357.1 232.4l3.7 7.3h-7.4zM360.0 230.5l3.7 7.3h-7.4zM362.9 232.2l3.7 7.3h-7.4zM365.7 232.1l3.7 7.3h-7.4zM368.6 236.1l3.7 7.3h-7.4zM371.4 233.2l3.7 7.3h-7.4zM374.3 232.6l3.7 7.3h-7.4zM377.1 232.0l3.7 7.3h-7.4zM380.0 232.0l3.7 7.3h-7.4zM383.0 232.4l3.7 7.3h-7.4zM386.0 230.9l3.7 7.3h-7.4zM389.0 229.9l3.7 7.3h-7.4zM392.0 234.7l3.7 7.3h-7.4zM395.0 233.5l3.7 7.3h-7.4zM398.0 234.7l3.7 7.3h-7.4zM401.0 236.2l3.7 7.3h-7.4zM470.0 239.3l3.7 7.3h-7.4zM472.0 237.3l3.7 7.3h-7.4zM474.0 236.9l3.7 7.3h-7.4zM476.0 236.6l3.7 7.3h-7.4zM478.0 236.2l3.7 7.3h-7.4zM480.0 235.8l3.7 7.3h-7.4zM482.0 236.0l3.7 7.3h-7.4zM484.0 236.2l3.7 7.3h-7.4zM486.0 236.4l3.7 7.3h-7.4zM488.0 236.6l3.7 7.3h-7.4zM490.0 236.8l3.7 7.3h-7.4zM492.0 238.3l3.7 7.3h-7.4zM494.0 239.8l3.7 7.3h-7.4zM470.0 234.2l3.7 7.3h-7.4zM472.0 234.5l3.7 7.3h-7.4zM476.0 236.2l3.7 7.3h-7.4zM480.0 231.7l3.7 7.3h-7.4zM483.3 234.5l3.7 7.3h-7.4zM486.7 232.8l3.7 7.3h-7.4zM490.0 235.7l3.7 7.3h-7.4zM503.0 239.8l3.7 7.3h-7.4zM506.0 237.8l3.7 7.3h-7.4zM508.5 237.6l3.7 7.3h-7.4zM511.0 237.3l3.7 7.3h-7.4zM513.5 238.1l3.7 7.3h-7.4zM516.0 238.8l3.7 7.3h-7.4zM503.0 234.6l3.7 7.3h-7.4zM506.0 233.2l3.7 7.3h-7.4zM511.0 235.2l3.7 7.3h-7.4z"/><path fill="#FF0866" d="M271.4 186.3h7.4v7.4h-7.4zM67.1 252.3h7.4v7.4h-7.4zM67.1 261.3h7.4v7.4h-7.4zM135.6 323.6h7.4v7.4h-7.4zM67.5 241.3h7.4v7.4h-7.4zM343.6 222.0h7.4v7.4h-7.4zM345.8 224.1h7.4v7.4h-7.4zM346.9 226.3h7.4v7.4h-7.4zM273.6 209.9h7.4v7.4h-7.4zM356.6 257.0h7.4v7.4h-7.4zM357.7 263.6h7.4v7.4h-7.4zM409.2 213.2h7.4v7.4h-7.4zM479.8 216.5h7.4v7.4h-7.4zM353.3 227.3h7.4v7.4h-7.4zM357.3 229.3h7.4v7.4h-7.4zM360.8 226.3h7.4v7.4h-7.4zM57.3 205.3h7.4v7.4h-7.4zM58.1 206.4h7.4v7.4h-7.4zM59.0 204.6h7.4v7.4h-7.4zM59.8 207.8h7.4v7.4h-7.4zM60.6 203.5h7.4v7.4h-7.4zM61.5 205.9h7.4v7.4h-7.4zM62.3 206.3h7.4v7.4h-7.4zM63.2 208.1h7.4v7.4h-7.4zM64.0 205.8h7.4v7.4h-7.4zM64.9 207.8h7.4v7.4h-7.4zM65.7 206.3h7.4v7.4h-7.4zM66.6 208.6h7.4v7.4h-7.4zM67.4 210.4h7.4v7.4h-7.4zM68.3 207.2h7.4v7.4h-7.4zM69.1 208.8h7.4v7.4h-7.4zM69.9 206.9h7.4v7.4h-7.4zM70.7 210.3h7.4v7.4h-7.4zM71.5 210.5h7.4v7.4h-7.4zM72.3 209.3h7.4v7.4h-7.4zM73.1 208.2h7.4v7.4h-7.4zM73.9 210.4h7.4v7.4h-7.4zM74.7 211.6h7.4v7.4h-7.4zM75.5 211.8h7.4v7.4h-7.4zM76.3 211.8h7.4v7.4h-7.4zM77.1 208.7h7.4v7.4h-7.4zM77.9 210.1h7.4v7.4h-7.4zM78.7 212.7h7.4v7.4h-7.4zM79.5 209.6h7.4v7.4h-7.4zM80.3 212.5h7.4v7.4h-7.4zM81.1 213.4h7.4v7.4h-7.4zM81.9 212.1h7.4v7.4h-7.4zM82.7 212.6h7.4v7.4h-7.4zM83.5 210.9h7.4v7.4h-7.4zM84.3 209.9h7.4v7.4h-7.4zM85.1 211.3h7.4v7.4h-7.4zM85.9 211.3h7.4v7.4h-7.4zM86.7 211.5h7.4v7.4h-7.4zM87.5 212.5h7.4v7.4h-7.4zM88.3 211.5h7.4v7.4h-7.4zM89.1 212.0h7.4v7.4h-7.4zM89.9 212.3h7.4v7.4h-7.4zM90.7 211.9h7.4v7.4h-7.4zM91.5 214.2h7.4v7.4h-7.4zM92.3 212.5h7.4v7.4h-7.4zM93.1 212.2h7.4v7.4h-7.4zM93.9 211.9h7.4v7.4h-7.4zM94.7 211.4h7.4v7.4h-7.4zM95.5 213.9h7.4v7.4h-7.4zM96.3 212.5h7.4v7.4h-7.4zM97.1 211.0h7.4v7.4h-7.4zM98.0 211.7h7.4v7.4h-7.4zM98.8 212.2h7.4v7.4h-7.4zM99.6 211.9h7.4v7.4h-7.4zM100.5 213.7h7.4v7.4h-7.4zM101.3 211.1h7.4v7.4h-7.4zM102.1 213.1h7.4v7.4h-7.4zM103.0 212.7h7.4v7.4h-7.4zM103.8 211.1h7.4v7.4h-7.4zM104.6 212.6h7.4v7.4h-7.4zM105.5 212.5h7.4v7.4h-7.4zM106.3 213.2h7.4v7.4h-7.4zM107.1 212.1h7.4v7.4h-7.4zM108.0 213.1h7.4v7.4h-7.4zM108.8 210.7h7.4v7.4h-7.4zM109.6 211.4h7.4v7.4h-7.4zM110.5 213.7h7.4v7.4h-7.4zM111.3 214.0h7.4v7.4h-7.4zM112.1 212.8h7.4v7.4h-7.4zM112.9 212.2h7.4v7.4h-7.4zM113.7 214.3h7.4v7.4h-7.4zM114.6 210.5h7.4v7.4h-7.4zM115.4 212.1h7.4v7.4h-7.4zM116.2 213.9h7.4v7.4h-7.4zM117.0 214.0h7.4v7.4h-7.4zM117.8 212.0h7.4v7.4h-7.4zM118.6 211.0h7.4v7.4h-7.4zM119.4 215.1h7.4v7.4h-7.4zM120.3 213.6h7.4v7.4h-7.4zM121.1 212.4h7.4v7.4h-7.4zM121.9 213.6h7.4v7.4h-7.4zM122.7 214.6h7.4v7.4h-7.4zM123.5 210.5h7.4v7.4h-7.4zM124.3 215.0h7.4v7.4h-7.4zM125.1 214.6h7.4v7.4h-7.4zM126.0 211.3h7.4v7.4h-7.4zM126.8 214.7h7.4v7.4h-7.4zM127.6 211.7h7.4v7.4h-7.4zM128.4 215.3h7.4v7.4h-7.4zM129.2 214.5h7.4v7.4h-7.4zM130.0 216.7h7.4v7.4h-7.4zM130.8 213.4h7.4v7.4h-7.4zM131.6 214.1h7.4v7.4h-7.4zM132.5 215.4h7.4v7.4h-7.4zM133.3 213.5h7.4v7.4h-7.4zM134.1 213.5h7.4v7.4h-7.4zM134.9 213.9h7.4v7.4h-7.4zM135.7 214.3h7.4v7.4h-7.4zM136.5 213.2h7.4v7.4h-7.4zM137.3 215.1h7.4v7.4h-7.4zM138.2 215.2h7.4v7.4h-7.4zM139.0 214.7h7.4v7.4h-7.4zM139.8 216.7h7.4v7.4h-7.4zM140.6 214.3h7.4v7.4h-7.4zM141.4 216.3h7.4v7.4h-7.4zM142.2 214.2h7.4v7.4h-7.4zM143.0 215.8h7.4v7.4h-7.4zM143.9 212.6h7.4v7.4h-7.4zM144.7 215.2h7.4v7.4h-7.4zM145.5 214.8h7.4v7.4h-7.4zM146.3 214.5h7.4v7.4h-7.4zM147.1 214.4h7.4v7.4h-7.4zM147.9 214.7h7.4v7.4h-7.4zM148.7 214.3h7.4v7.4h-7.4zM149.5 212.5h7.4v7.4h-7.4zM150.3 214.5h7.4v7.4h-7.4zM151.1 214.5h7.4v7.4h-7.4zM151.9 214.6h7.4v7.4h-7.4zM152.8 213.9h7.4v7.4h-7.4zM153.6 215.1h7.4v7.4h-7.4zM154.4 216.2h7.4v7.4h-7.4zM155.2 215.0h7.4v7.4h-7.4zM156.0 214.7h7.4v7.4h-7.4zM156.8 216.9h7.4v7.4h-7.4zM157.6 216.5h7.4v7.4h-7.4zM158.4 216.4h7.4v7.4h-7.4zM159.2 216.7h7.4v7.4h-7.4zM160.0 215.0h7.4v7.4h-7.4zM160.8 215.2h7.4v7.4h-7.4zM161.6 216.7h7.4v7.4h-7.4zM162.4 214.7h7.4v7.4h-7.4zM163.2 215.3h7.4v7.4h-7.4zM164.0 215.9h7.4v7.4h-7.4zM164.8 215.9h7.4v7.4h-7.4zM165.7 215.1h7.4v7.4h-7.4zM166.5 216.6h7.4v7.4h-7.4zM167.3 215.3h7.4v7.4h-7.4zM168.1 216.4h7.4v7.4h-7.4zM168.9 216.8h7.4v7.4h-7.4zM169.7 216.3h7.4v7.4h-7.4zM170.5 216.4h7.4v7.4h-7.4zM171.3 214.2h7.4v7.4h-7.4zM172.1 214.0h7.4v7.4h-7.4zM172.9 214.8h7.4v7.4h-7.4zM173.7 216.2h7.4v7.4h-7.4zM174.5 217.4h7.4v7.4h-7.4zM175.3 214.2h7.4v7.4h-7.4zM176.1 216.0h7.4v7.4h-7.4zM176.9 214.6h7.4v7.4h-7.4zM177.8 214.8h7.4v7.4h-7.4zM178.6 215.3h7.4v7.4h-7.4zM179.4 216.5h7.4v7.4h-7.4zM180.2 216.0h7.4v7.4h-7.4zM181.0 217.1h7.4v7.4h-7.4zM181.8 214.6h7.4v7.4h-7.4zM182.6 216.8h7.4v7.4h-7.4zM183.4 216.9h7.4v7.4h-7.4zM184.2 215.9h7.4v7.4h-7.4zM185.0 216.4h7.4v7.4h-7.4zM185.8 215.1h7.4v7.4h-7.4zM186.6 214.5h7.4v7.4h-7.4zM187.4 215.4h7.4v7.4h-7.4zM188.2 215.1h7.4v7.4h-7.4zM189.0 219.3h7.4v7.4h-7.4zM189.8 215.3h7.4v7.4h-7.4zM190.7 217.9h7.4v7.4h-7.4zM191.5 216.2h7.4v7.4h-7.4zM192.3 216.3h7.4v7.4h-7.4zM193.1 216.8h7.4v7.4h-7.4zM193.9 215.0h7.4v7.4h-7.4zM194.7 217.1h7.4v7.4h-7.4zM195.5 216.4h7.4v7.4h-7.4zM196.3 214.2h7.4v7.4h-7.4zM197.1 216.7h7.4v7.4h-7.4zM197.9 216.7h7.4v7.4h-7.4zM198.7 216.5h7.4v7.4h-7.4zM199.5 217.9h7.4v7.4h-7.4zM200.3 215.5h7.4v7.4h-7.4zM201.1 216.6h7.4v7.4h-7.4zM201.9 216.9h7.4v7.4h-7.4zM202.8 214.9h7.4v7.4h-7.4zM203.6 217.4h7.4v7.4h-7.4zM204.4 214.2h7.4v7.4h-7.4zM205.2 214.4h7.4v7.4h-7.4zM206.0 216.5h7.4v7.4h-7.4zM206.8 214.6h7.4v7.4h-7.4zM207.6 215.8h7.4v7.4h-7.4zM208.4 213.9h7.4v7.4h-7.4zM209.2 216.0h7.4v7.4h-7.4zM210.0 214.5h7.4v7.4h-7.4zM210.8 216.3h7.4v7.4h-7.4zM211.6 214.0h7.4v7.4h-7.4zM212.4 216.4h7.4v7.4h-7.4zM213.2 215.5h7.4v7.4h-7.4zM214.0 215.9h7.4v7.4h-7.4zM214.8 215.8h7.4v7.4h-7.4zM215.7 216.0h7.4v7.4h-7.4zM216.5 214.3h7.4v7.4h-7.4zM217.3 212.8h7.4v7.4h-7.4zM218.1 215.9h7.4v7.4h-7.4zM218.9 214.7h7.4v7.4h-7.4zM219.7 215.3h7.4v7.4h-7.4zM220.5 216.3h7.4v7.4h-7.4zM221.3 213.4h7.4v7.4h-7.4zM222.1 214.9h7.4v7.4h-7.4zM222.9 215.1h7.4v7.4h-7.4zM223.7 214.5h7.4v7.4h-7.4zM224.5 216.2h7.4v7.4h-7.4zM225.3 215.6h7.4v7.4h-7.4zM226.1 214.8h7.4v7.4h-7.4zM226.9 214.6h7.4v7.4h-7.4zM227.8 216.7h7.4v7.4h-7.4zM228.6 215.0h7.4v7.4h-7.4zM229.4 216.4h7.4v7.4h-7.4zM230.2 216.3h7.4v7.4h-7.4zM231.0 213.4h7.4v7.4h-7.4zM231.8 214.4h7.4v7.4h-7.4zM232.6 215.7h7.4v7.4h-7.4zM233.4 216.1h7.4v7.4h-7.4zM234.2 216.6h7.4v7.4h-7.4zM235.0 216.7h7.4v7.4h-7.4zM235.8 216.9h7.4v7.4h-7.4zM236.6 215.2h7.4v7.4h-7.4zM237.4 215.4h7.4v7.4h-7.4zM238.2 216.6h7.4v7.4h-7.4zM239.0 215.1h7.4v7.4h-7.4zM239.8 216.9h7.4v7.4h-7.4zM240.7 213.7h7.4v7.4h-7.4zM241.5 216.4h7.4v7.4h-7.4zM242.3 215.4h7.4v7.4h-7.4zM243.1 213.3h7.4v7.4h-7.4zM243.9 216.8h7.4v7.4h-7.4zM244.7 216.0h7.4v7.4h-7.4zM245.5 215.6h7.4v7.4h-7.4zM246.3 214.3h7.4v7.4h-7.4zM247.1 215.1h7.4v7.4h-7.4zM247.9 217.5h7.4v7.4h-7.4zM248.7 214.7h7.4v7.4h-7.4zM249.5 211.5h7.4v7.4h-7.4zM250.3 214.7h7.4v7.4h-7.4zM251.1 214.3h7.4v7.4h-7.4zM251.9 215.6h7.4v7.4h-7.4zM252.8 215.3h7.4v7.4h-7.4zM253.6 214.7h7.4v7.4h-7.4zM254.4 214.8h7.4v7.4h-7.4zM255.2 217.1h7.4v7.4h-7.4zM256.0 214.2h7.4v7.4h-7.4zM256.8 218.3h7.4v7.4h-7.4zM257.6 215.3h7.4v7.4h-7.4zM258.4 214.7h7.4v7.4h-7.4zM259.2 216.9h7.4v7.4h-7.4zM260.0 216.7h7.4v7.4h-7.4zM260.8 214.8h7.4v7.4h-7.4zM261.6 217.0h7.4v7.4h-7.4zM262.4 213.9h7.4v7.4h-7.4zM263.2 215.0h7.4v7.4h-7.4zM264.0 217.5h7.4v7.4h-7.4zM264.8 215.8h7.4v7.4h-7.4zM265.7 214.6h7.4v7.4h-7.4zM266.5 216.8h7.4v7.4h-7.4zM267.3 217.3h7.4v7.4h-7.4zM268.1 216.2h7.4v7.4h-7.4zM268.9 214.1h7.4v7.4h-7.4zM269.7 215.9h7.4v7.4h-7.4zM270.5 216.8h7.4v7.4h-7.4zM271.3 217.3h7.4v7.4h-7.4zM272.1 218.6h7.4v7.4h-7.4zM272.9 216.1h7.4v7.4h-7.4zM273.7 215.8h7.4v7.4h-7.4zM274.5 216.4h7.4v7.4h-7.4zM275.3 217.9h7.4v7.4h-7.4zM276.1 215.4h7.4v7.4h-7.4zM276.9 218.1h7.4v7.4h-7.4zM277.8 213.2h7.4v7.4h-7.4zM278.6 217.5h7.4v7.4h-7.4zM279.4 215.8h7.4v7.4h-7.4zM280.2 217.2h7.4v7.4h-7.4zM281.0 217.5h7.4v7.4h-7.4zM281.8 215.2h7.4v7.4h-7.4zM282.6 216.6h7.4v7.4h-7.4zM283.4 217.0h7.4v7.4h-7.4zM284.2 217.4h7.4v7.4h-7.4zM285.0 215.6h7.4v7.4h-7.4zM285.8 215.6h7.4v7.4h-7.4zM286.6 214.5h7.4v7.4h-7.4zM287.4 219.9h7.4v7.4h-7.4zM288.2 216.6h7.4v7.4h-7.4zM289.0 216.6h7.4v7.4h-7.4zM289.8 215.1h7.4v7.4h-7.4zM290.7 218.0h7.4v7.4h-7.4zM291.5 216.3h7.4v7.4h-7.4zM292.3 218.7h7.4v7.4h-7.4zM293.1 218.0h7.4v7.4h-7.4zM293.9 217.1h7.4v7.4h-7.4zM294.7 217.9h7.4v7.4h-7.4zM295.5 215.7h7.4v7.4h-7.4zM296.3 216.7h7.4v7.4h-7.4zM297.1 216.4h7.4v7.4h-7.4zM297.9 215.6h7.4v7.4h-7.4zM298.7 217.2h7.4v7.4h-7.4zM299.5 217.1h7.4v7.4h-7.4zM300.3 219.0h7.4v7.4h-7.4zM301.1 213.3h7.4v7.4h-7.4zM301.9 216.5h7.4v7.4h-7.4zM302.8 216.3h7.4v7.4h-7.4zM303.6 216.8h7.4v7.4h-7.4zM304.4 217.9h7.4v7.4h-7.4zM305.2 217.9h7.4v7.4h-7.4zM306.0 217.5h7.4v7.4h-7.4zM306.8 217.0h7.4v7.4h-7.4zM307.6 218.1h7.4v7.4h-7.4zM308.4 218.0h7.4v7.4h-7.4zM309.2 215.4h7.4v7.4h-7.4zM310.0 217.3h7.4v7.4h-7.4zM310.8 216.0h7.4v7.4h-7.4zM311.6 216.3h7.4v7.4h-7.4zM312.4 217.9h7.4v7.4h-7.4zM313.2 217.8h7.4v7.4h-7.4zM314.0 217.9h7.4v7.4h-7.4zM314.8 216.8h7.4v7.4h-7.4zM315.7 217.6h7.4v7.4h-7.4zM316.5 216.8h7.4v7.4h-7.4zM317.3 218.4h7.4v7.4h-7.4zM318.1 218.8h7.4v7.4h-7.4zM318.9 220.1h7.4v7.4h-7.4zM319.7 219.6h7.4v7.4h-7.4zM320.5 217.1h7.4v7.4h-7.4zM321.3 217.6h7.4v7.4h-7.4zM322.1 217.0h7.4v7.4h-7.4zM322.9 218.5h7.4v7.4h-7.4zM323.7 220.6h7.4v7.4h-7.4zM324.5 219.1h7.4v7.4h-7.4zM325.3 215.6h7.4v7.4h-7.4zM326.1 216.8h7.4v7.4h-7.4zM326.9 216.8h7.4v7.4h-7.4zM327.8 219.0h7.4v7.4h-7.4zM328.6 218.4h7.4v7.4h-7.4zM329.4 218.8h7.4v7.4h-7.4zM330.2 220.6h7.4v7.4h-7.4zM331.0 217.5h7.4v7.4h-7.4zM331.8 217.5h7.4v7.4h-7.4zM332.6 220.9h7.4v7.4h-7.4zM333.4 219.0h7.4v7.4h-7.4zM334.2 217.7h7.4v7.4h-7.4zM335.0 216.2h7.4v7.4h-7.4zM335.8 216.9h7.4v7.4h-7.4zM336.6 215.8h7.4v7.4h-7.4zM337.4 218.8h7.4v7.4h-7.4zM338.2 218.8h7.4v7.4h-7.4zM339.0 220.0h7.4v7.4h-7.4zM339.8 218.7h7.4v7.4h-7.4zM340.7 218.0h7.4v7.4h-7.4zM341.5 218.0h7.4v7.4h-7.4zM342.3 221.2h7.4v7.4h-7.4zM343.1 216.9h7.4v7.4h-7.4zM343.9 219.2h7.4v7.4h-7.4zM344.7 219.1h7.4v7.4h-7.4zM345.5 219.8h7.4v7.4h-7.4zM346.3 218.6h7.4v7.4h-7.4zM347.1 219.7h7.4v7.4h-7.4zM347.9 220.1h7.4v7.4h-7.4zM348.7 219.0h7.4v7.4h-7.4zM349.5 218.6h7.4v7.4h-7.4zM350.3 219.0h7.4v7.4h-7.4zM351.1 218.1h7.4v7.4h-7.4zM351.9 219.0h7.4v7.4h-7.4zM352.8 218.9h7.4v7.4h-7.4zM353.6 219.5h7.4v7.4h-7.4zM354.4 220.9h7.4v7.4h-7.4zM355.2 220.9h7.4v7.4h-7.4zM356.0 218.8h7.4v7.4h-7.4zM356.8 220.1h7.4v7.4h-7.4zM357.6 219.7h7.4v7.4h-7.4zM358.4 220.3h7.4v7.4h-7.4zM359.2 219.4h7.4v7.4h-7.4zM360.0 219.7h7.4v7.4h-7.4zM360.8 218.9h7.4v7.4h-7.4zM361.6 218.5h7.4v7.4h-7.4zM362.4 220.5h7.4v7.4h-7.4zM363.2 221.1h7.4v7.4h-7.4zM364.0 220.3h7.4v7.4h-7.4zM364.8 220.1h7.4v7.4h-7.4zM365.7 219.9h7.4v7.4h-7.4zM366.5 219.0h7.4v7.4h-7.4zM367.3 217.5h7.4v7.4h-7.4zM368.1 220.4h7.4v7.4h-7.4zM368.9 219.9h7.4v7.4h-7.4zM369.7 219.0h7.4v7.4h-7.4zM370.5 218.5h7.4v7.4h-7.4zM371.3 221.2h7.4v7.4h-7.4zM372.1 217.6h7.4v7.4h-7.4zM372.9 221.9h7.4v7.4h-7.4zM373.7 220.5h7.4v7.4h-7.4zM374.5 222.6h7.4v7.4h-7.4zM375.3 218.9h7.4v7.4h-7.4zM376.1 219.8h7.4v7.4h-7.4zM376.9 219.2h7.4v7.4h-7.4zM377.8 220.0h7.4v7.4h-7.4zM378.6 219.6h7.4v7.4h-7.4zM379.4 219.0h7.4v7.4h-7.4zM380.2 221.2h7.4v7.4h-7.4zM381.0 219.0h7.4v7.4h-7.4zM381.8 219.3h7.4v7.4h-7.4zM382.6 220.6h7.4v7.4h-7.4zM383.4 219.3h7.4v7.4h-7.4zM384.2 219.5h7.4v7.4h-7.4zM385.0 220.5h7.4v7.4h-7.4zM385.8 219.6h7.4v7.4h-7.4zM386.6 218.6h7.4v7.4h-7.4zM387.4 220.0h7.4v7.4h-7.4zM388.2 219.8h7.4v7.4h-7.4zM389.0 222.2h7.4v7.4h-7.4zM389.8 218.8h7.4v7.4h-7.4zM390.7 221.3h7.4v7.4h-7.4zM391.5 219.2h7.4v7.4h-7.4zM392.3 219.8h7.4v7.4h-7.4zM393.1 219.8h7.4v7.4h-7.4zM393.9 220.6h7.4v7.4h-7.4zM394.7 221.3h7.4v7.4h-7.4zM395.5 222.4h7.4v7.4h-7.4zM396.3 219.5h7.4v7.4h-7.4zM397.1 221.9h7.4v7.4h-7.4zM397.9 221.5h7.4v7.4h-7.4zM398.7 221.3h7.4v7.4h-7.4zM399.5 219.5h7.4v7.4h-7.4zM400.3 221.5h7.4v7.4h-7.4zM401.1 220.3h7.4v7.4h-7.4zM401.9 220.8h7.4v7.4h-7.4zM402.8 220.1h7.4v7.4h-7.4zM403.6 221.2h7.4v7.4h-7.4zM404.4 221.8h7.4v7.4h-7.4zM405.2 221.8h7.4v7.4h-7.4zM406.0 220.2h7.4v7.4h-7.4zM406.8 221.7h7.4v7.4h-7.4zM407.6 222.3h7.4v7.4h-7.4zM408.4 219.4h7.4v7.4h-7.4zM409.2 222.3h7.4v7.4h-7.4zM410.0 219.0h7.4v7.4h-7.4zM410.8 221.2h7.4v7.4h-7.4zM411.6 221.3h7.4v7.4h-7.4zM412.4 222.4h7.4v7.4h-7.4zM413.2 221.0h7.4v7.4h-7.4zM414.0 220.1h7.4v7.4h-7.4zM414.8 219.7h7.4v7.4h-7.4zM415.7 219.2h7.4v7.4h-7.4zM416.5 221.6h7.4v7.4h-7.4zM417.3 220.4h7.4v7.4h-7.4zM418.1 219.9h7.4v7.4h-7.4zM418.9 221.4h7.4v7.4h-7.4zM419.7 219.8h7.4v7.4h-7.4zM420.5 220.3h7.4v7.4h-7.4zM421.3 220.2h7.4v7.4h-7.4zM422.1 222.8h7.4v7.4h-7.4zM422.9 222.6h7.4v7.4h-7.4zM423.7 220.7h7.4v7.4h-7.4zM424.5 219.0h7.4v7.4h-7.4zM425.3 221.2h7.4v7.4h-7.4zM426.1 221.0h7.4v7.4h-7.4zM426.9 221.3h7.4v7.4h-7.4zM427.8 221.6h7.4v7.4h-7.4zM428.6 220.6h7.4v7.4h-7.4zM429.4 222.1h7.4v7.4h-7.4zM430.2 222.0h7.4v7.4h-7.4zM431.0 221.2h7.4v7.4h-7.4zM431.8 220.5h7.4v7.4h-7.4zM432.6 220.4h7.4v7.4h-7.4zM433.4 221.9h7.4v7.4h-7.4zM434.2 219.7h7.4v7.4h-7.4zM435.0 220.9h7.4v7.4h-7.4zM435.8 220.2h7.4v7.4h-7.4zM436.6 219.4h7.4v7.4h-7.4zM437.4 221.8h7.4v7.4h-7.4zM438.2 221.1h7.4v7.4h-7.4zM439.0 221.2h7.4v7.4h-7.4zM439.8 222.2h7.4v7.4h-7.4zM440.7 219.4h7.4v7.4h-7.4zM441.5 221.1h7.4v7.4h-7.4zM442.3 221.6h7.4v7.4h-7.4zM443.1 222.2h7.4v7.4h-7.4zM443.9 219.9h7.4v7.4h-7.4zM444.7 222.1h7.4v7.4h-7.4zM445.5 221.5h7.4v7.4h-7.4zM446.3 222.9h7.4v7.4h-7.4zM447.1 222.7h7.4v7.4h-7.4zM447.9 222.0h7.4v7.4h-7.4zM448.7 223.9h7.4v7.4h-7.4zM449.5 221.3h7.4v7.4h-7.4zM450.3 220.8h7.4v7.4h-7.4zM451.1 220.9h7.4v7.4h-7.4zM451.9 220.2h7.4v7.4h-7.4zM452.7 221.3h7.4v7.4h-7.4zM453.5 219.1h7.4v7.4h-7.4zM454.3 221.2h7.4v7.4h-7.4zM455.2 221.8h7.4v7.4h-7.4zM456.0 222.5h7.4v7.4h-7.4zM456.8 220.9h7.4v7.4h-7.4zM457.6 223.0h7.4v7.4h-7.4zM458.4 220.6h7.4v7.4h-7.4zM459.2 221.2h7.4v7.4h-7.4zM460.0 219.1h7.4v7.4h-7.4zM460.8 220.4h7.4v7.4h-7.4zM461.6 220.4h7.4v7.4h-7.4zM462.4 223.1h7.4v7.4h-7.4zM463.2 222.0h7.4v7.4h-7.4zM464.0 220.1h7.4v7.4h-7.4zM464.8 222.0h7.4v7.4h-7.4zM465.6 221.9h7.4v7.4h-7.4zM466.4 221.1h7.4v7.4h-7.4zM467.2 221.4h7.4v7.4h-7.4zM468.0 221.0h7.4v7.4h-7.4zM468.8 220.7h7.4v7.4h-7.4zM469.6 219.3h7.4v7.4h-7.4zM470.4 221.3h7.4v7.4h-7.4zM471.3 222.9h7.4v7.4h-7.4zM472.1 223.1h7.4v7.4h-7.4zM472.9 221.1h7.4v7.4h-7.4zM473.7 220.5h7.4v7.4h-7.4zM474.5 221.1h7.4v7.4h-7.4zM475.3 222.4h7.4v7.4h-7.4zM476.1 221.8h7.4v7.4h-7.4zM476.9 220.7h7.4v7.4h-7.4zM477.7 221.8h7.4v7.4h-7.4zM478.5 221.2h7.4v7.4h-7.4zM479.3 222.0h7.4v7.4h-7.4zM480.1 220.9h7.4v7.4h-7.4zM480.9 219.7h7.4v7.4h-7.4zM481.7 221.5h7.4v7.4h-7.4zM482.5 222.3h7.4v7.4h-7.4zM483.3 220.1h7.4v7.4h-7.4zM484.1 221.3h7.4v7.4h-7.4zM484.9 222.4h7.4v7.4h-7.4zM485.7 221.0h7.4v7.4h-7.4zM486.5 220.7h7.4v7.4h-7.4zM487.3 223.8h7.4v7.4h-7.4zM488.2 222.4h7.4v7.4h-7.4zM489.0 222.6h7.4v7.4h-7.4zM489.8 220.3h7.4v7.4h-7.4zM490.6 223.3h7.4v7.4h-7.4zM491.4 219.5h7.4v7.4h-7.4zM492.2 220.8h7.4v7.4h-7.4zM493.0 222.3h7.4v7.4h-7.4zM493.8 223.0h7.4v7.4h-7.4zM494.6 220.4h7.4v7.4h-7.4zM495.4 220.7h7.4v7.4h-7.4zM496.2 221.7h7.4v7.4h-7.4zM497.0 219.2h7.4v7.4h-7.4zM497.8 222.2h7.4v7.4h-7.4zM498.6 222.1h7.4v7.4h-7.4zM499.4 220.9h7.4v7.4h-7.4zM500.2 222.1h7.4v7.4h-7.4zM501.0 222.4h7.4v7.4h-7.4zM501.8 221.8h7.4v7.4h-7.4zM502.6 222.1h7.4v7.4h-7.4zM503.4 223.2h7.4v7.4h-7.4zM504.3 220.9h7.4v7.4h-7.4zM505.1 221.7h7.4v7.4h-7.4zM505.9 220.9h7.4v7.4h-7.4zM506.7 222.7h7.4v7.4h-7.4zM507.5 221.0h7.4v7.4h-7.4zM508.3 222.0h7.4v7.4h-7.4zM509.1 221.6h7.4v7.4h-7.4zM509.9 221.6h7.4v7.4h-7.4zM510.7 223.5h7.4v7.4h-7.4zM511.5 221.4h7.4v7.4h-7.4zM512.3 221.5h7.4v7.4h-7.4z"/><path fill="#000000" d="M350.0 172.1a3.9 3.9 0 1 0 7.8 0a3.9 3.9 0 1 0 -7.8 0zM430.9 76.1a3.9 3.9 0 1 0 7.8 0a3.9 3.9 0 1 0 -7.8 0zM233.9 253.0a3.9 3.9 0 1 0 7.8 0a3.9 3.9 0 1 0 -7.8 0zM236.1 254.1a3.9 3.9 0 1 0 7.8 0a3.9 3.9 0 1 0 -7.8 0zM230.7 274.9a3.9 3.9 0 1 0 7.8 0a3.9 3.9 0 1 0 -7.8 0zM237.2 270.5a3.9 3.9 0 1 0 7.8 0a3.9 3.9 0 1 0 -7.8 0zM269.0 221.3a3.9 3.9 0 1 0 7.8 0a3.9 3.9 0 1 0 -7.8 0zM270.1 230.0a3.9 3.9 0 1 0 7.8 0a3.9 3.9 0 1 0 -7.8 0zM270.1 236.6a3.9 3.9 0 1 0 7.8 0a3.9 3.9 0 1 0 -7.8 0zM232.9 242.1a3.9 3.9 0 1 0 7.8 0a3.9 3.9 0 1 0 -7.8 0zM351.0 223.5a3.9 3.9 0 1 0 7.8 0a3.9 3.9 0 1 0 -7.8 0zM352.0 235.5a3.9 3.9 0 1 0 7.8 0a3.9 3.9 0 1 0 -7.8 0zM432.0 216.9a3.9 3.9 0 1 0 7.8 0a3.9 3.9 0 1 0 -7.8 0zM432.0 233.3a3.9 3.9 0 1 0 7.8 0a3.9 3.9 0 1 0 -7.8 0zM416.6 248.6a3.9 3.9 0 1 0 7.8 0a3.9 3.9 0 1 0 -7.8 0zM496.0 226.8a3.9 3.9 0 1 0 7.8 0a3.9 3.9 0 1 0 -7.8 0zM497.1 234.4a3.9 3.9 0 1 0 7.8 0a3.9 3.9 0 1 0 -7.8 0zM498.2 238.8a3.9 3.9 0 1 0 7.8 0a3.9 3.9 0 1 0 -7.8 0zM61.4 242.5a3.9 3.9 0 1 0 7.8 0a3.9 3.9 0 1 0 -7.8 0zM101.5 235.2a3.9 3.9 0 1 0 7.8 0a3.9 3.9 0 1 0 -7.8 0zM194.4 235.5a3.9 3.9 0 1 0 7.8 0a3.9 3.9 0 1 0 -7.8 0zM202.1 236.6a3.9 3.9 0 1 0 7.8 0a3.9 3.9 0 1 0 -7.8 0zM232.7 244.0a3.9 3.9 0 1 0 7.8 0a3.9 3.9 0 1 0 -7.8 0zM56.4 237.9a3.9 3.9 0 1 0 7.8 0a3.9 3.9 0 1 0 -7.8 0zM57.2 237.9a3.9 3.9 0 1 0 7.8 0a3.9 3.9 0 1 0 -7.8 0zM58.0 238.0a3.9 3.9 0 1 0 7.8 0a3.9 3.9 0 1 0 -7.8 0zM58.8 238.0a3.9 3.9 0 1 0 7.8 0a3.9 3.9 0 1 0 -7.8 0zM59.6 238.1a3.9 3.9 0 1 0 7.8 0a3.9 3.9 0 1 0 -7.8 0zM60.5 238.1a3.9 3.9 0 1 0 7.8 0a3.9 3.9 0 1 0 -7.8 0zM61.3 237.8a3.9 3.9 0 1 0 7.8 0a3.9 3.9 0 1 0 -7.8 0zM62.1 238.0a3.9 3.9 0 1 0 7.8 0a3.9 3.9 0 1 0 -7.8 0zM62.9 238.2a3.9 3.9 0 1 0 7.8 0a3.9 3.9 0 1 0 -7.8 0zM63.7 238.2a3.9 3.9 0 1 0 7.8 0a3.9 3.9 0 1 0 -7.8 0zM64.5 238.0a3.9 3.9 0 1 0 7.8 0a3.9 3.9 0 1 0 -7.8 0zM65.3 238.2a3.9 3.9 0 1 0 7.8 0a3.9 3.9 0 1 0 -7.8 0zM66.1 238.1a3.9 3.9 0 1 0 7.8 0a3.9 3.9 0 1 0 -7.8 0zM66.9 238.1a3.9 3.9 0 1 0 7.8 0a3.9 3.9 0 1 0 -7.8 0zM67.7 238.0a3.9 3.9 0 1 0 7.8 0a3.9 3.9 0 1 0 -7.8 0zM68.6 238.1a3.9 3.9 0 1 0 7.8 0a3.9 3.9 0 1 0 -7.8 0zM69.4 238.1a3.9 3.9 0 1 0 7.8 0a3.9 3.9 0 1 0 -7.8 0zM70.2 237.8a3.9 3.9 0 1 0 7.8 0a3.9 3.9 0 1 0 -7.8 0zM71.0 238.0a3.9 3.9 0 1 0 7.8 0a3.9 3.9 0 1 0 -7.8 0zM71.8 237.9a3.9 3.9 0 1 0 7.8 0a3.9 3.9 0 1 0 -7.8 0zM72.6 237.9a3.9 3.9 0 1 0 7.8 0a3.9 3.9 0 1 0 -7.8 0zM73.4 238.1a3.9 3.9 0 1 0 7.8 0a3.9 3.9 0 1 0 -7.8 0zM74.2 238.2a3.9 3.9 0 1 0 7.8 0a3.9 3.9 0 1 0 -7.8 0zM75.0 238.1a3.9 3.9 0 1 0 7.8 0a3.9 3.9 0 1 0 -7.8 0zM75.8 238.0a3.9 3.9 0 1 0 7.8 0a3.9 3.9 0 1 0 -7.8 0zM76.7 238.0a3.9 3.9 0 1 0 7.8 0a3.9 3.9 0 1 0 -7.8 0zM77.5 238.3a3.9 3.9 0 1 0 7.8 0a3.9 3.9 0 1 0 -7.8 0zM78.3 238.2a3.9 3.9 0 1 0 7.8 0a3.9 3.9 0 1 0 -7.8 0zM79.1 238.2a3.9 3.9 0 1 0 7.8 0a3.9 3.9 0 1 0 -7.8 0zM79.9 238.2a3.9 3.9 0 1 0 7.8 0a3.9 3.9 0 1 0 -7.8 0zM80.7 238.2a3.9 3.9 0 1 0 7.8 0a3.9 3.9 0 1 0 -7.8 0zM81.5 238.1a3.9 3.9 0 1 0 7.8 0a3.9 3.9 0 1 0 -7.8 0zM82.3 238.1a3.9 3.9 0 1 0 7.8 0a3.9 3.9 0 1 0 -7.8 0zM83.1 238.1a3.9 3.9 0 1 0 7.8 0a3.9 3.9 0 1 0 -7.8 0zM83.9 238.3a3.9 3.9 0 1 0 7.8 0a3.9 3.9 0 1 0 -7.8 0zM84.8 238.3a3.9 3.9 0 1 0 7.8 0a3.9 3.9 0 1 0 -7.8 0zM85.6 238.4a3.9 3.9 0 1 0 7.8 0a3.9 3.9 0 1 0 -7.8 0zM86.4 238.5a3.9 3.9 0 1 0 7.8 0a3.9 3.9 0 1 0 -7.8 0zM87.2 238.3a3.9 3.9 0 1 0 7.8 0a3.9 3.9 0 1 0 -7.8 0zM88.0 238.0a3.9 3.9 0 1 0 7.8 0a3.9 3.9 0 1 0 -7.8 0zM88.8 238.2a3.9 3.9 0 1 0 7.8 0a3.9 3.9 0 1 0 -7.8 0zM89.6 238.5a3.9 3.9 0 1 0 7.8 0a3.9 3.9 0 1 0 -7.8 0zM90.4 238.4a3.9 3.9 0 1 0 7.8 0a3.9 3.9 0 1 0 -7.8 0zM91.2 238.3a3.9 3.9 0 1 0 7.8 0a3.9 3.9 0 1 0 -7.8 0zM92.0 238.2a3.9 3.9 0 1 0 7.8 0a3.9 3.9 0 1 0 -7.8 0zM92.9 238.4a3.9 3.9 0 1 0 7.8 0a3.9 3.9 0 1 0 -7.8 0zM93.7 238.4a3.9 3.9 0 1 0 7.8 0a3.9 3.9 0 1 0 -7.8 0zM94.5 238.5a3.9 3.9 0 1 0 7.8 0a3.9 3.9 0 1 0 -7.8 0zM95.3 238.5a3.9 3.9 0 1 0 7.8 0a3.9 3.9 0 1 0 -7.8 0zM96.1 238.6a3.9 3.9 0 1 0 7.8 0a3.9 3.9 0 1 0 -7.8 0zM96.9 238.5a3.9 3.9 0 1 0 7.8 0a3.9 3.9 0 1 0 -7.8 0zM97.7 238.3a3.9 3.9 0 1 0 7.8 0a3.9 3.9 0 1 0 -7.8 0zM98.5 238.5a3.9 3.9 0 1 0 7.8 0a3.9 3.9 0 1 0 -7.8 0zM99.3 238.3a3.9 3.9 0 1 0 7.8 0a3.9 3.9 0 1 0 -7.8 0zM100.1 238.4a3.9 3.9 0 1 0 7.8 0a3.9 3.9 0 1 0 -7.8 0zM100.9 238.4a3.9 3.9 0 1 0 7.8 0a3.9 3.9 0 1 0 -7.8 0zM101.7 238.4a3.9 3.9 0 1 0 7.8 0a3.9 3.9 0 1 0 -7.8 0zM102.5 238.4a3.9 3.9 0 1 0 7.8 0a3.9 3.9 0 1 0 -7.8 0zM103.3 238.7a3.9 3.9 0 1 0 7.8 0a3.9 3.9 0 1 0 -7.8 0zM104.1 238.5a3.9 3.9 0 1 0 7.8 0a3.9 3.9 0 1 0 -7.8 0zM104.9 238.7a3.9 3.9 0 1 0 7.8 0a3.9 3.9 0 1 0 -7.8 0zM105.7 238.6a3.9 3.9 0 1 0 7.8 0a3.9 3.9 0 1 0 -7.8 0zM106.5 238.4a3.9 3.9 0 1 0 7.8 0a3.9 3.9 0 1 0 -7.8 0zM107.3 238.5a3.9 3.9 0 1 0 7.8 0a3.9 3.9 0 1 0 -7.8 0zM108.1 238.8a3.9 3.9 0 1 0 7.8 0a3.9 3.9 0 1 0 -7.8 0zM108.9 238.8a3.9 3.9 0 1 0 7.8 0a3.9 3.9 0 1 0 -7.8 0zM109.7 238.6a3.9 3.9 0 1 0 7.8 0a3.9 3.9 0 1 0 -7.8 0zM110.5 238.6a3.9 3.9 0 1 0 7.8 0a3.9 3.9 0 1 0 -7.8 0zM111.3 238.8a3.9 3.9 0 1 0 7.8 0a3.9 3.9 0 1 0 -7.8 0zM112.1 238.7a3.9 3.9 0 1 0 7.8 0a3.9 3.9 0 1 0 -7.8 0zM112.9 238.7a3.9 3.9 0 1 0 7.8 0a3.9 3.9 0 1 0 -7.8 0zM113.7 238.9a3.9 3.9 0 1 0 7.8 0a3.9 3.9 0 1 0 -7.8 0zM114.5 238.7a3.9 3.9 0 1 0 7.8 0a3.9 3.9 0 1 0 -7.8 0zM115.3 238.6a3.9 3.9 0 1 0 7.8 0a3.9 3.9 0 1 0 -7.8 0zM116.1 238.6a3.9 3.9 0 1 0 7.8 0a3.9 3.9 0 1 0 -7.8 0zM116.9 238.5a3.9 3.9 0 1 0 7.8 0a3.9 3.9 0 1 0 -7.8 0zM117.7 239.1a3.9 3.9 0 1 0 7.8 0a3.9 3.9 0 1 0 -7.8 0zM118.5 238.8a3.9 3.9 0 1 0 7.8 0a3.9 3.9 0 1 0 -7.8 0zM119.3 239.0a3.9 3.9 0 1 0 7.8 0a3.9 3.9 0 1 0 -7.8 0zM120.1 238.9a3.9 3.9 0 1 0 7.8 0a3.9 3.9 0 1 0 -7.8 0zM120.9 238.9a3.9 3.9 0 1 0 7.8 0a3.9 3.9 0 1 0 -7.8 0zM121.7 238.9a3.9 3.9 0 1 0 7.8 0a3.9 3.9 0 1 0 -7.8 0zM122.5 238.9a3.9 3.9 0 1 0 7.8 0a3.9 3.9 0 1 0 -7.8 0zM123.3 238.7a3.9 3.9 0 1 0 7.8 0a3.9 3.9 0 1 0 -7.8 0zM124.1 238.9a3.9 3.9 0 1 0 7.8 0a3.9 3.9 0 1 0 -7.8 0zM125.6 222.9a3.9 3.9 0 1 0 7.8 0a3.9 3.9 0 1 0 -7.8 0zM126.5 223.1a3.9 3.9 0 1 0 7.8 0a3.9 3.9 0 1 0 -7.8 0zM127.3 223.4a3.9 3.9 0 1 0 7.8 0a3.9 3.9 0 1 0 -7.8 0zM128.2 223.2a3.9 3.9 0 1 0 7.8 0a3.9 3.9 0 1 0 -7.8 0zM129.1 223.5a3.9 3.9 0 1 0 7.8 0a3.9 3.9 0 1 0 -7.8 0zM129.8 227.0a3.9 3.9 0 1 0 7.8 0a3.9 3.9 0 1 0 -7.8 0zM130.6 230.6a3.9 3.9 0 1 0 7.8 0a3.9 3.9 0 1 0 -7.8 0zM131.1 233.1a3.9 3.9 0 1 0 7.8 0a3.9 3.9 0 1 0 -7.8 0zM131.6 235.7a3.9 3.9 0 1 0 7.8 0a3.9 3.9 0 1 0 -7.8 0zM132.1 238.4a3.9 3.9 0 1 0 7.8 0a3.9 3.9 0 1 0 -7.8 0zM132.1 238.6a3.9 3.9 0 1 0 7.8 0a3.9 3.9 0 1 0 -7.8 0zM132.9 238.5a3.9 3.9 0 1 0 7.8 0a3.9 3.9 0 1 0 -7.8 0zM133.7 238.6a3.9 3.9 0 1 0 7.8 0a3.9 3.9 0 1 0 -7.8 0zM134.6 239.0a3.9 3.9 0 1 0 7.8 0a3.9 3.9 0 1 0 -7.8 0zM135.4 238.6a3.9 3.9 0 1 0 7.8 0a3.9 3.9 0 1 0 -7.8 0zM136.2 238.8a3.9 3.9 0 1 0 7.8 0a3.9 3.9 0 1 0 -7.8 0zM137.0 238.8a3.9 3.9 0 1 0 7.8 0a3.9 3.9 0 1 0 -7.8 0zM137.9 239.2a3.9 3.9 0 1 0 7.8 0a3.9 3.9 0 1 0 -7.8 0zM138.7 239.0a3.9 3.9 0 1 0 7.8 0a3.9 3.9 0 1 0 -7.8 0zM139.5 239.2a3.9 3.9 0 1 0 7.8 0a3.9 3.9 0 1 0 -7.8 0zM140.3 239.3a3.9 3.9 0 1 0 7.8 0a3.9 3.9 0 1 0 -7.8 0zM141.2 239.3a3.9 3.9 0 1 0 7.8 0a3.9 3.9 0 1 0 -7.8 0zM142.0 239.5a3.9 3.9 0 1 0 7.8 0a3.9 3.9 0 1 0 -7.8 0zM142.8 239.5a3.9 3.9 0 1 0 7.8 0a3.9 3.9 0 1 0 -7.8 0zM143.6 239.6a3.9 3.9 0 1 0 7.8 0a3.9 3.9 0 1 0 -7.8 0zM144.5 239.6a3.9 3.9 0 1 0 7.8 0a3.9 3.9 0 1 0 -7.8 0zM145.3 239.8a3.9 3.9 0 1 0 7.8 0a3.9 3.9 0 1 0 -7.8 0zM146.1 239.9a3.9 3.9 0 1 0 7.8 0a3.9 3.9 0 1 0 -7.8 0zM146.9 239.8a3.9 3.9 0 1 0 7.8 0a3.9 3.9 0 1 0 -7.8 0zM147.7 239.9a3.9 3.9 0 1 0 7.8 0a3.9 3.9 0 1 0 -7.8 0zM148.5 240.2a3.9 3.9 0 1 0 7.8 0a3.9 3.9 0 1 0 -7.8 0zM149.3 239.9a3.9 3.9 0 1 0 7.8 0a3.9 3.9 0 1 0 -7.8 0zM150.1 240.0a3.9 3.9 0 1 0 7.8 0a3.9 3.9 0 1 0 -7.8 0zM150.9 240.0a3.9 3.9 0 1 0 7.8 0a3.9 3.9 0 1 0 -7.8 0zM151.7 240.1a3.9 3.9 0 1 0 7.8 0a3.9 3.9 0 1 0 -7.8 0zM152.6 240.2a3.9 3.9 0 1 0 7.8 0a3.9 3.9 0 1 0 -7.8 0zM153.4 240.1a3.9 3.9 0 1 0 7.8 0a3.9 3.9 0 1 0 -7.8 0zM154.2 240.2a3.9 3.9 0 1 0 7.8 0a3.9 3.9 0 1 0 -7.8 0zM155.0 240.3a3.9 3.9 0 1 0 7.8 0a3.9 3.9 0 1 0 -7.8 0zM155.8 240.4a3.9 3.9 0 1 0 7.8 0a3.9 3.9 0 1 0 -7.8 0zM156.6 240.2a3.9 3.9 0 1 0 7.8 0a3.9 3.9 0 1 0 -7.8 0zM157.4 240.2a3.9 3.9 0 1 0 7.8 0a3.9 3.9 0 1 0 -7.8 0zM158.2 240.4a3.9 3.9 0 1 0 7.8 0a3.9 3.9 0 1 0 -7.8 0zM159.0 240.3a3.9 3.9 0 1 0 7.8 0a3.9 3.9 0 1 0 -7.8 0zM159.8 240.3a3.9 3.9 0 1 0 7.8 0a3.9 3.9 0 1 0 -7.8 0zM160.6 240.4a3.9 3.9 0 1 0 7.8 0a3.9 3.9 0 1 0 -7.8 0zM161.4 240.6a3.9 3.9 0 1 0 7.8 0a3.9 3.9 0 1 0 -7.8 0zM162.2 240.3a3.9 3.9 0 1 0 7.8 0a3.9 3.9 0 1 0 -7.8 0zM163.0 240.5a3.9 3.9 0 1 0 7.8 0a3.9 3.9 0 1 0 -7.8 0zM163.8 240.7a3.9 3.9 0 1 0 7.8 0a3.9 3.9 0 1 0 -7.8 0zM164.6 240.6a3.9 3.9 0 1 0 7.8 0a3.9 3.9 0 1 0 -7.8 0zM165.5 240.5a3.9 3.9 0 1 0 7.8 0a3.9 3.9 0 1 0 -7.8 0zM166.3 240.5a3.9 3.9 0 1 0 7.8 0a3.9 3.9 0 1 0 -7.8 0zM167.1 240.7a3.9 3.9 0 1 0 7.8 0a3.9 3.9 0 1 0 -7.8 0zM167.9 240.7a3.9 3.9 0 1 0 7.8 0a3.9 3.9 0 1 0 -7.8 0zM168.7 240.6a3.9 3.9 0 1 0 7.8 0a3.9 3.9 0 1 0 -7.8 0zM169.5 240.6a3.9 3.9 0 1 0 7.8 0a3.9 3.9 0 1 0 -7.8 0zM170.3 240.6a3.9 3.9 0 1 0 7.8 0a3.9 3.9 0 1 0 -7.8 0zM171.1 240.6a3.9 3.9 0 1 0 7.8 0a3.9 3.9 0 1 0 -7.8 0zM171.9 240.8a3.9 3.9 0 1 0 7.8 0a3.9 3.9 0 1 0 -7.8 0zM172.7 240.9a3.9 3.9 0 1 0 7.8 0a3.9 3.9 0 1 0 -7.8 0zM173.5 240.8a3.9 3.9 0 1 0 7.8 0a3.9 3.9 0 1 0 -7.8 0zM174.3 240.9a3.9 3.9 0 1 0 7.8 0a3.9 3.9 0 1 0 -7.8 0zM175.1 240.8a3.9 3.9 0 1 0 7.8 0a3.9 3.9 0 1 0 -7.8 0zM175.9 241.0a3.9 3.9 0 1 0 7.8 0a3.9 3.9 0 1 0 -7.8 0zM176.7 240.7a3.9 3.9 0 1 0 7.8 0a3.9 3.9 0 1 0 -7.8 0zM177.6 241.1a3.9 3.9 0 1 0 7.8 0a3.9 3.9 0 1 0 -7.8 0zM178.4 241.2a3.9 3.9 0 1 0 7.8 0a3.9 3.9 0 1 0 -7.8 0zM179.2 241.1a3.9 3.9 0 1 0 7.8 0a3.9 3.9 0 1 0 -7.8 0zM180.0 241.0a3.9 3.9 0 1 0 7.8 0a3.9 3.9 0 1 0 -7.8 0zM180.8 241.1a3.9 3.9 0 1 0 7.8 0a3.9 3.9 0 1 0 -7.8 0zM181.6 241.1a3.9 3.9 0 1 0 7.8 0a3.9 3.9 0 1 0 -7.8 0zM182.4 241.2a3.9 3.9 0 1 0 7.8 0a3.9 3.9 0 1 0 -7.8 0zM183.2 241.2a3.9 3.9 0 1 0 7.8 0a3.9 3.9 0 1 0 -7.8 0zM184.0 241.2a3.9 3.9 0 1 0 7.8 0a3.9 3.9 0 1 0 -7.8 0zM184.8 241.2a3.9 3.9 0 1 0 7.8 0a3.9 3.9 0 1 0 -7.8 0zM185.6 241.2a3.9 3.9 0 1 0 7.8 0a3.9 3.9 0 1 0 -7.8 0zM186.4 241.2a3.9 3.9 0 1 0 7.8 0a3.9 3.9 0 1 0 -7.8 0zM187.2 241.4a3.9 3.9 0 1 0 7.8 0a3.9 3.9 0 1 0 -7.8 0zM188.0 241.5a3.9 3.9 0 1 0 7.8 0a3.9 3.9 0 1 0 -7.8 0zM188.8 241.4a3.9 3.9 0 1 0 7.8 0a3.9 3.9 0 1 0 -7.8 0zM189.6 241.4a3.9 3.9 0 1 0 7.8 0a3.9 3.9 0 1 0 -7.8 0zM190.5 241.6a3.9 3.9 0 1 0 7.8 0a3.9 3.9 0 1 0 -7.8 0zM191.3 241.3a3.9 3.9 0 1 0 7.8 0a3.9 3.9 0 1 0 -7.8 0zM192.1 241.7a3.9 3.9 0 1 0 7.8 0a3.9 3.9 0 1 0 -7.8 0zM192.9 241.3a3.9 3.9 0 1 0 7.8 0a3.9 3.9 0 1 0 -7.8 0zM193.7 241.6a3.9 3.9 0 1 0 7.8 0a3.9 3.9 0 1 0 -7.8 0zM194.5 241.6a3.9 3.9 0 1 0 7.8 0a3.9 3.9 0 1 0 -7.8 0zM195.3 241.6a3.9 3.9 0 1 0 7.8 0a3.9 3.9 0 1 0 -7.8 0zM196.1 241.4a3.9 3.9 0 1 0 7.8 0a3.9 3.9 0 1 0 -7.8 0zM196.9 241.8a3.9 3.9 0 1 0 7.8 0a3.9 3.9 0 1 0 -7.8 0zM197.7 241.7a3.9 3.9 0 1 0 7.8 0a3.9 3.9 0 1 0 -7.8 0zM198.5 241.7a3.9 3.9 0 1 0 7.8 0a3.9 3.9 0 1 0 -7.8 0zM199.3 241.8a3.9 3.9 0 1 0 7.8 0a3.9 3.9 0 1 0 -7.8 0zM200.1 241.7a3.9 3.9 0 1 0 7.8 0a3.9 3.9 0 1 0 -7.8 0zM200.9 241.7a3.9 3.9 0 1 0 7.8 0a3.9 3.9 0 1 0 -7.8 0zM201.7 241.8a3.9 3.9 0 1 0 7.8 0a3.9 3.9 0 1 0 -7.8 0zM202.5 241.8a3.9 3.9 0 1 0 7.8 0a3.9 3.9 0 1 0 -7.8 0zM203.3 241.8a3.9 3.9 0 1 0 7.8 0a3.9 3.9 0 1 0 -7.8 0zM204.1 241.8a3.9 3.9 0 1 0 7.8 0a3.9 3.9 0 1 0 -7.8 0zM204.9 241.8a3.9 3.9 0 1 0 7.8 0a3.9 3.9 0 1 0 -7.8 0zM205.7 241.8a3.9 3.9 0 1 0 7.8 0a3.9 3.9 0 1 0 -7.8 0zM206.5 241.8a3.9 3.9 0 1 0 7.8 0a3.9 3.9 0 1 0 -7.8 0zM207.3 241.9a3.9 3.9 0 1 0 7.8 0a3.9 3.9 0 1 0 -7.8 0zM208.1 241.9a3.9 3.9 0 1 0 7.8 0a3.9 3.9 0 1 0 -7.8 0zM208.9 241.9a3.9 3.9 0 1 0 7.8 0a3.9 3.9 0 1 0 -7.8 0zM209.7 241.9a3.9 3.9 0 1 0 7.8 0a3.9 3.9 0 1 0 -7.8 0zM210.5 241.8a3.9 3.9 0 1 0 7.8 0a3.9 3.9 0 1 0 -7.8 0zM211.3 242.1a3.9 3.9 0 1 0 7.8 0a3.9 3.9 0 1 0 -7.8 0zM212.1 242.1a3.9 3.9 0 1 0 7.8 0a3.9 3.9 0 1 0 -7.8 0zM212.9 241.8a3.9 3.9 0 1 0 7.8 0a3.9 3.9 0 1 0 -7.8 0zM213.7 242.0a3.9 3.9 0 1 0 7.8 0a3.9 3.9 0 1 0 -7.8 0zM214.5 242.0a3.9 3.9 0 1 0 7.8 0a3.9 3.9 0 1 0 -7.8 0zM215.3 242.1a3.9 3.9 0 1 0 7.8 0a3.9 3.9 0 1 0 -7.8 0zM216.1 242.3a3.9 3.9 0 1 0 7.8 0a3.9 3.9 0 1 0 -7.8 0zM216.9 242.1a3.9 3.9 0 1 0 7.8 0a3.9 3.9 0 1 0 -7.8 0zM217.7 242.1a3.9 3.9 0 1 0 7.8 0a3.9 3.9 0 1 0 -7.8 0zM218.5 242.1a3.9 3.9 0 1 0 7.8 0a3.9 3.9 0 1 0 -7.8 0zM219.3 242.2a3.9 3.9 0 1 0 7.8 0a3.9 3.9 0 1 0 -7.8 0zM220.1 242.3a3.9 3.9 0 1 0 7.8 0a3.9 3.9 0 1 0 -7.8 0zM220.9 242.3a3.9 3.9 0 1 0 7.8 0a3.9 3.9 0 1 0 -7.8 0zM221.7 242.3a3.9 3.9 0 1 0 7.8 0a3.9 3.9 0 1 0 -7.8 0zM222.5 242.1a3.9 3.9 0 1 0 7.8 0a3.9 3.9 0 1 0 -7.8 0zM223.3 242.3a3.9 3.9 0 1 0 7.8 0a3.9 3.9 0 1 0 -7.8 0zM224.1 242.2a3.9 3.9 0 1 0 7.8 0a3.9 3.9 0 1 0 -7.8 0zM224.9 242.3a3.9 3.9 0 1 0 7.8 0a3.9 3.9 0 1 0 -7.8 0zM225.7 242.5a3.9 3.9 0 1 0 7.8 0a3.9 3.9 0 1 0 -7.8 0zM226.5 242.4a3.9 3.9 0 1 0 7.8 0a3.9 3.9 0 1 0 -7.8 0zM227.3 242.3a3.9 3.9 0 1 0 7.8 0a3.9 3.9 0 1 0 -7.8 0zM228.1 242.3a3.9 3.9 0 1 0 7.8 0a3.9 3.9 0 1 0 -7.8 0zM228.9 242.2a3.9 3.9 0 1 0 7.8 0a3.9 3.9 0 1 0 -7.8 0zM229.7 242.4a3.9 3.9 0 1 0 7.8 0a3.9 3.9 0 1 0 -7.8 0zM230.5 242.7a3.9 3.9 0 1 0 7.8 0a3.9 3.9 0 1 0 -7.8 0zM231.3 242.5a3.9 3.9 0 1 0 7.8 0a3.9 3.9 0 1 0 -7.8 0zM232.1 242.5a3.9 3.9 0 1 0 7.8 0a3.9 3.9 0 1 0 -7.8 0zM232.9 242.4a3.9 3.9 0 1 0 7.8 0a3.9 3.9 0 1 0 -7.8 0zM233.7 242.5a3.9 3.9 0 1 0 7.8 0a3.9 3.9 0 1 0 -7.8 0zM234.5 242.7a3.9 3.9 0 1 0 7.8 0a3.9 3.9 0 1 0 -7.8 0zM235.3 242.7a3.9 3.9 0 1 0 7.8 0a3.9 3.9 0 1 0 -7.8 0zM236.1 242.6a3.9 3.9 0 1 0 7.8 0a3.9 3.9 0 1 0 -7.8 0zM236.9 242.5a3.9 3.9 0 1 0 7.8 0a3.9 3.9 0 1 0 -7.8 0zM237.7 242.7a3.9 3.9 0 1 0 7.8 0a3.9 3.9 0 1 0 -7.8 0zM238.5 242.9a3.9 3.9 0 1 0 7.8 0a3.9 3.9 0 1 0 -7.8 0zM239.3 242.9a3.9 3.9 0 1 0 7.8 0a3.9 3.9 0 1 0 -7.8 0zM240.2 242.8a3.9 3.9 0 1 0 7.8 0a3.9 3.9 0 1 0 -7.8 0zM241.0 242.6a3.9 3.9 0 1 0 7.8 0a3.9 3.9 0 1 0 -7.8 0zM241.8 242.7a3.9 3.9 0 1 0 7.8 0a3.9 3.9 0 1 0 -7.8 0zM242.6 242.6a3.9 3.9 0 1 0 7.8 0a3.9 3.9 0 1 0 -7.8 0zM243.4 242.5a3.9 3.9 0 1 0 7.8 0a3.9 3.9 0 1 0 -7.8 0zM244.2 242.5a3.9 3.9 0 1 0 7.8 0a3.9 3.9 0 1 0 -7.8 0zM245.0 242.6a3.9 3.9 0 1 0 7.8 0a3.9 3.9 0 1 0 -7.8 0zM245.8 242.7a3.9 3.9 0 1 0 7.8 0a3.9 3.9 0 1 0 -7.8 0zM246.6 242.8a3.9 3.9 0 1 0 7.8 0a3.9 3.9 0 1 0 -7.8 0zM247.5 242.8a3.9 3.9 0 1 0 7.8 0a3.9 3.9 0 1 0 -7.8 0zM248.3 242.7a3.9 3.9 0 1 0 7.8 0a3.9 3.9 0 1 0 -7.8 0zM249.1 242.3a3.9 3.9 0 1 0 7.8 0a3.9 3.9 0 1 0 -7.8 0zM249.9 242.8a3.9 3.9 0 1 0 7.8 0a3.9 3.9 0 1 0 -7.8 0zM250.7 242.7a3.9 3.9 0 1 0 7.8 0a3.9 3.9 0 1 0 -7.8 0zM251.5 242.5a3.9 3.9 0 1 0 7.8 0a3.9 3.9 0 1 0 -7.8 0zM252.3 242.8a3.9 3.9 0 1 0 7.8 0a3.9 3.9 0 1 0 -7.8 0zM253.1 242.5a3.9 3.9 0 1 0 7.8 0a3.9 3.9 0 1 0 -7.8 0zM253.9 242.6a3.9 3.9 0 1 0 7.8 0a3.9 3.9 0 1 0 -7.8 0zM254.7 242.6a3.9 3.9 0 1 0 7.8 0a3.9 3.9 0 1 0 -7.8 0zM255.6 242.6a3.9 3.9 0 1 0 7.8 0a3.9 3.9 0 1 0 -7.8 0zM256.4 242.6a3.9 3.9 0 1 0 7.8 0a3.9 3.9 0 1 0 -7.8 0zM257.2 242.4a3.9 3.9 0 1 0 7.8 0a3.9 3.9 0 1 0 -7.8 0zM258.0 242.4a3.9 3.9 0 1 0 7.8 0a3.9 3.9 0 1 0 -7.8 0zM258.8 242.6a3.9 3.9 0 1 0 7.8 0a3.9 3.9 0 1 0 -7.8 0zM259.6 242.7a3.9 3.9 0 1 0 7.8 0a3.9 3.9 0 1 0 -7.8 0zM260.4 242.6a3.9 3.9 0 1 0 7.8 0a3.9 3.9 0 1 0 -7.8 0zM261.2 242.5a3.9 3.9 0 1 0 7.8 0a3.9 3.9 0 1 0 -7.8 0zM262.0 242.5a3.9 3.9 0 1 0 7.8 0a3.9 3.9 0 1 0 -7.8 0zM262.9 242.5a3.9 3.9 0 1 0 7.8 0a3.9 3.9 0 1 0 -7.8 0zM263.7 242.7a3.9 3.9 0 1 0 7.8 0a3.9 3.9 0 1 0 -7.8 0zM264.5 242.5a3.9 3.9 0 1 0 7.8 0a3.9 3.9 0 1 0 -7.8 0zM265.3 242.7a3.9 3.9 0 1 0 7.8 0a3.9 3.9 0 1 0 -7.8 0zM266.1 242.5a3.9 3.9 0 1 0 7.8 0a3.9 3.9 0 1 0 -7.8 0zM266.9 242.5a3.9 3.9 0 1 0 7.8 0a3.9 3.9 0 1 0 -7.8 0zM267.7 242.5a3.9 3.9 0 1 0 7.8 0a3.9 3.9 0 1 0 -7.8 0zM268.5 242.7a3.9 3.9 0 1 0 7.8 0a3.9 3.9 0 1 0 -7.8 0zM269.3 242.5a3.9 3.9 0 1 0 7.8 0a3.9 3.9 0 1 0 -7.8 0zM270.2 242.6a3.9 3.9 0 1 0 7.8 0a3.9 3.9 0 1 0 -7.8 0zM271.0 242.5a3.9 3.9 0 1 0 7.8 0a3.9 3.9 0 1 0 -7.8 0zM271.8 242.5a3.9 3.9 0 1 0 7.8 0a3.9 3.9 0 1 0 -7.8 0zM272.6 242.7a3.9 3.9 0 1 0 7.8 0a3.9 3.9 0 1 0 -7.8 0zM273.4 242.5a3.9 3.9 0 1 0 7.8 0a3.9 3.9 0 1 0 -7.8 0zM274.2 242.5a3.9 3.9 0 1 0 7.8 0a3.9 3.9 0 1 0 -7.8 0zM275.0 242.4a3.9 3.9 0 1 0 7.8 0a3.9 3.9 0 1 0 -7.8 0zM275.8 242.5a3.9 3.9 0 1 0 7.8 0a3.9 3.9 0 1 0 -7.8 0zM276.6 242.5a3.9 3.9 0 1 0 7.8 0a3.9 3.9 0 1 0 -7.8 0zM277.5 242.7a3.9 3.9 0 1 0 7.8 0a3.9 3.9 0 1 0 -7.8 0zM278.3 242.7a3.9 3.9 0 1 0 7.8 0a3.9 3.9 0 1 0 -7.8 0zM279.1 242.4a3.9 3.9 0 1 0 7.8 0a3.9 3.9 0 1 0 -7.8 0zM279.9 242.5a3.9 3.9 0 1 0 7.8 0a3.9 3.9 0 1 0 -7.8 0zM280.7 242.3a3.9 3.9 0 1 0 7.8 0a3.9 3.9 0 1 0 -7.8 0zM281.5 242.5a3.9 3.9 0 1 0 7.8 0a3.9 3.9 0 1 0 -7.8 0zM282.3 242.5a3.9 3.9 0 1 0 7.8 0a3.9 3.9 0 1 0 -7.8 0zM283.1 242.6a3.9 3.9 0 1 0 7.8 0a3.9 3.9 0 1 0 -7.8 0zM283.9 242.5a3.9 3.9 0 1 0 7.8 0a3.9 3.9 0 1 0 -7.8 0zM284.7 242.4a3.9 3.9 0 1 0 7.8 0a3.9 3.9 0 1 0 -7.8 0zM285.6 242.3a3.9 3.9 0 1 0 7.8 0a3.9 3.9 0 1 0 -7.8 0zM286.4 242.3a3.9 3.9 0 1 0 7.8 0a3.9 3.9 0 1 0 -7.8 0zM287.2 242.6a3.9 3.9 0 1 0 7.8 0a3.9 3.9 0 1 0 -7.8 0zM288.0 242.3a3.9 3.9 0 1 0 7.8 0a3.9 3.9 0 1 0 -7.8 0zM288.8 242.6a3.9 3.9 0 1 0 7.8 0a3.9 3.9 0 1 0 -7.8 0zM289.6 242.5a3.9 3.9 0 1 0 7.8 0a3.9 3.9 0 1 0 -7.8 0zM290.4 242.5a3.9 3.9 0 1 0 7.8 0a3.9 3.9 0 1 0 -7.8 0zM291.2 242.2a3.9 3.9 0 1 0 7.8 0a3.9 3.9 0 1 0 -7.8 0zM292.0 242.5a3.9 3.9 0 1 0 7.8 0a3.9 3.9 0 1 0 -7.8 0zM292.9 242.5a3.9 3.9 0 1 0 7.8 0a3.9 3.9 0 1 0 -7.8 0zM293.7 242.4a3.9 3.9 0 1 0 7.8 0a3.9 3.9 0 1 0 -7.8 0zM294.5 242.5a3.9 3.9 0 1 0 7.8 0a3.9 3.9 0 1 0 -7.8 0zM295.3 242.3a3.9 3.9 0 1 0 7.8 0a3.9 3.9 0 1 0 -7.8 0zM296.1 242.6a3.9 3.9 0 1 0 7.8 0a3.9 3.9 0 1 0 -7.8 0zM296.9 242.3a3.9 3.9 0 1 0 7.8 0a3.9 3.9 0 1 0 -7.8 0zM297.7 242.4a3.9 3.9 0 1 0 7.8 0a3.9 3.9 0 1 0 -7.8 0zM298.5 242.5a3.9 3.9 0 1 0 7.8 0a3.9 3.9 0 1 0 -7.8 0zM299.3 242.5a3.9 3.9 0 1 0 7.8 0a3.9 3.9 0 1 0 -7.8 0zM300.1 242.6a3.9 3.9 0 1 0 7.8 0a3.9 3.9 0 1 0 -7.8 0zM300.9 242.4a3.9 3.9 0 1 0 7.8 0a3.9 3.9 0 1 0 -7.8 0zM301.7 242.3a3.9 3.9 0 1 0 7.8 0a3.9 3.9 0 1 0 -7.8 0zM302.6 242.5a3.9 3.9 0 1 0 7.8 0a3.9 3.9 0 1 0 -7.8 0zM303.4 242.5a3.9 3.9 0 1 0 7.8 0a3.9 3.9 0 1 0 -7.8 0zM304.2 242.3a3.9 3.9 0 1 0 7.8 0a3.9 3.9 0 1 0 -7.8 0zM305.0 242.6a3.9 3.9 0 1 0 7.8 0a3.9 3.9 0 1 0 -7.8 0zM305.8 242.6a3.9 3.9 0 1 0 7.8 0a3.9 3.9 0 1 0 -7.8 0zM306.6 242.4a3.9 3.9 0 1 0 7.8 0a3.9 3.9 0 1 0 -7.8 0zM307.4 242.6a3.9 3.9 0 1 0 7.8 0a3.9 3.9 0 1 0 -7.8 0zM308.2 242.5a3.9 3.9 0 1 0 7.8 0a3.9 3.9 0 1 0 -7.8 0zM309.0 242.6a3.9 3.9 0 1 0 7.8 0a3.9 3.9 0 1 0 -7.8 0zM309.8 242.5a3.9 3.9 0 1 0 7.8 0a3.9 3.9 0 1 0 -7.8 0zM310.6 242.6a3.9 3.9 0 1 0 7.8 0a3.9 3.9 0 1 0 -7.8 0zM311.4 242.6a3.9 3.9 0 1 0 7.8 0a3.9 3.9 0 1 0 -7.8 0zM312.2 242.6a3.9 3.9 0 1 0 7.8 0a3.9 3.9 0 1 0 -7.8 0zM313.0 242.5a3.9 3.9 0 1 0 7.8 0a3.9 3.9 0 1 0 -7.8 0zM313.8 242.6a3.9 3.9 0 1 0 7.8 0a3.9 3.9 0 1 0 -7.8 0zM314.6 242.7a3.9 3.9 0 1 0 7.8 0a3.9 3.9 0 1 0 -7.8 0zM315.5 242.8a3.9 3.9 0 1 0 7.8 0a3.9 3.9 0 1 0 -7.8 0zM316.3 242.6a3.9 3.9 0 1 0 7.8 0a3.9 3.9 0 1 0 -7.8 0zM317.1 242.7a3.9 3.9 0 1 0 7.8 0a3.9 3.9 0 1 0 -7.8 0zM317.9 242.6a3.9 3.9 0 1 0 7.8 0a3.9 3.9 0 1 0 -7.8 0zM318.7 242.9a3.9 3.9 0 1 0 7.8 0a3.9 3.9 0 1 0 -7.8 0zM319.5 242.8a3.9 3.9 0 1 0 7.8 0a3.9 3.9 0 1 0 -7.8 0zM320.3 242.7a3.9 3.9 0 1 0 7.8 0a3.9 3.9 0 1 0 -7.8 0zM321.1 242.7a3.9 3.9 0 1 0 7.8 0a3.9 3.9 0 1 0 -7.8 0zM321.9 242.6a3.9 3.9 0 1 0 7.8 0a3.9 3.9 0 1 0 -7.8 0zM322.7 242.5a3.9 3.9 0 1 0 7.8 0a3.9 3.9 0 1 0 -7.8 0zM323.5 242.8a3.9 3.9 0 1 0 7.8 0a3.9 3.9 0 1 0 -7.8 0zM324.3 242.6a3.9 3.9 0 1 0 7.8 0a3.9 3.9 0 1 0 -7.8 0zM325.1 242.6a3.9 3.9 0 1 0 7.8 0a3.9 3.9 0 1 0 -7.8 0zM325.9 242.8a3.9 3.9 0 1 0 7.8 0a3.9 3.9 0 1 0 -7.8 0zM326.7 242.7a3.9 3.9 0 1 0 7.8 0a3.9 3.9 0 1 0 -7.8 0zM327.6 242.6a3.9 3.9 0 1 0 7.8 0a3.9 3.9 0 1 0 -7.8 0zM328.4 242.9a3.9 3.9 0 1 0 7.8 0a3.9 3.9 0 1 0 -7.8 0zM329.2 242.7a3.9 3.9 0 1 0 7.8 0a3.9 3.9 0 1 0 -7.8 0zM330.0 242.9a3.9 3.9 0 1 0 7.8 0a3.9 3.9 0 1 0 -7.8 0zM330.8 242.6a3.9 3.9 0 1 0 7.8 0a3.9 3.9 0 1 0 -7.8 0zM331.6 242.6a3.9 3.9 0 1 0 7.8 0a3.9 3.9 0 1 0 -7.8 0zM332.4 242.7a3.9 3.9 0 1 0 7.8 0a3.9 3.9 0 1 0 -7.8 0zM333.2 242.9a3.9 3.9 0 1 0 7.8 0a3.9 3.9 0 1 0 -7.8 0zM334.0 242.5a3.9 3.9 0 1 0 7.8 0a3.9 3.9 0 1 0 -7.8 0zM334.8 242.7a3.9 3.9 0 1 0 7.8 0a3.9 3.9 0 1 0 -7.8 0zM335.6 242.9a3.9 3.9 0 1 0 7.8 0a3.9 3.9 0 1 0 -7.8 0zM336.4 243.1a3.9 3.9 0 1 0 7.8 0a3.9 3.9 0 1 0 -7.8 0zM337.2 242.8a3.9 3.9 0 1 0 7.8 0a3.9 3.9 0 1 0 -7.8 0zM338.0 242.7a3.9 3.9 0 1 0 7.8 0a3.9 3.9 0 1 0 -7.8 0zM338.8 242.8a3.9 3.9 0 1 0 7.8 0a3.9 3.9 0 1 0 -7.8 0zM339.6 242.7a3.9 3.9 0 1 0 7.8 0a3.9 3.9 0 1 0 -7.8 0zM340.5 243.0a3.9 3.9 0 1 0 7.8 0a3.9 3.9 0 1 0 -7.8 0zM341.3 242.9a3.9 3.9 0 1 0 7.8 0a3.9 3.9 0 1 0 -7.8 0zM342.1 242.8a3.9 3.9 0 1 0 7.8 0a3.9 3.9 0 1 0 -7.8 0zM342.9 243.0a3.9 3.9 0 1 0 7.8 0a3.9 3.9 0 1 0 -7.8 0zM343.7 242.6a3.9 3.9 0 1 0 7.8 0a3.9 3.9 0 1 0 -7.8 0zM344.5 242.9a3.9 3.9 0 1 0 7.8 0a3.9 3.9 0 1 0 -7.8 0zM345.3 242.9a3.9 3.9 0 1 0 7.8 0a3.9 3.9 0 1 0 -7.8 0zM346.1 242.9a3.9 3.9 0 1 0 7.8 0a3.9 3.9 0 1 0 -7.8 0zM346.9 242.8a3.9 3.9 0 1 0 7.8 0a3.9 3.9 0 1 0 -7.8 0zM347.7 242.8a3.9 3.9 0 1 0 7.8 0a3.9 3.9 0 1 0 -7.8 0zM348.5 242.7a3.9 3.9 0 1 0 7.8 0a3.9 3.9 0 1 0 -7.8 0zM349.3 243.0a3.9 3.9 0 1 0 7.8 0a3.9 3.9 0 1 0 -7.8 0zM350.1 242.8a3.9 3.9 0 1 0 7.8 0a3.9 3.9 0 1 0 -7.8 0zM350.9 243.0a3.9 3.9 0 1 0 7.8 0a3.9 3.9 0 1 0 -7.8 0zM351.7 243.1a3.9 3.9 0 1 0 7.8 0a3.9 3.9 0 1 0 -7.8 0zM352.6 242.9a3.9 3.9 0 1 0 7.8 0a3.9 3.9 0 1 0 -7.8 0zM353.4 242.8a3.9 3.9 0 1 0 7.8 0a3.9 3.9 0 1 0 -7.8 0zM354.2 243.0a3.9 3.9 0 1 0 7.8 0a3.9 3.9 0 1 0 -7.8 0zM355.0 243.1a3.9 3.9 0 1 0 7.8 0a3.9 3.9 0 1 0 -7.8 0zM355.8 242.8a3.9 3.9 0 1 0 7.8 0a3.9 3.9 0 1 0 -7.8 0zM356.6 243.0a3.9 3.9 0 1 0 7.8 0a3.9 3.9 0 1 0 -7.8 0zM357.4 242.9a3.9 3.9 0 1 0 7.8 0a3.9 3.9 0 1 0 -7.8 0zM358.2 243.2a3.9 3.9 0 1 0 7.8 0a3.9 3.9 0 1 0 -7.8 0zM359.0 243.1a3.9 3.9 0 1 0 7.8 0a3.9 3.9 0 1 0 -7.8 0zM359.8 242.8a3.9 3.9 0 1 0 7.8 0a3.9 3.9 0 1 0 -7.8 0zM360.6 243.0a3.9 3.9 0 1 0 7.8 0a3.9 3.9 0 1 0 -7.8 0zM361.4 243.1a3.9 3.9 0 1 0 7.8 0a3.9 3.9 0 1 0 -7.8 0zM362.2 243.0a3.9 3.9 0 1 0 7.8 0a3.9 3.9 0 1 0 -7.8 0zM363.0 243.1a3.9 3.9 0 1 0 7.8 0a3.9 3.9 0 1 0 -7.8 0zM363.8 243.1a3.9 3.9 0 1 0 7.8 0a3.9 3.9 0 1 0 -7.8 0zM364.6 243.1a3.9 3.9 0 1 0 7.8 0a3.9 3.9 0 1 0 -7.8 0zM365.5 243.0a3.9 3.9 0 1 0 7.8 0a3.9 3.9 0 1 0 -7.8 0zM366.3 243.3a3.9 3.9 0 1 0 7.8 0a3.9 3.9 0 1 0 -7.8 0zM367.1 243.2a3.9 3.9 0 1 0 7.8 0a3.9 3.9 0 1 0 -7.8 0zM367.9 243.1a3.9 3.9 0 1 0 7.8 0a3.9 3.9 0 1 0 -7.8 0zM368.7 243.1a3.9 3.9 0 1 0 7.8 0a3.9 3.9 0 1 0 -7.8 0zM369.5 243.1a3.9 3.9 0 1 0 7.8 0a3.9 3.9 0 1 0 -7.8 0zM370.3 243.0a3.9 3.9 0 1 0 7.8 0a3.9 3.9 0 1 0 -7.8 0zM371.1 243.1a3.9 3.9 0 1 0 7.8 0a3.9 3.9 0 1 0 -7.8 0zM371.9 243.2a3.9 3.9 0 1 0 7.8 0a3.9 3.9 0 1 0 -7.8 0zM372.7 243.1a3.9 3.9 0 1 0 7.8 0a3.9 3.9 0 1 0 -7.8 0zM373.5 243.1a3.9 3.9 0 1 0 7.8 0a3.9 3.9 0 1 0 -7.8 0zM374.3 242.8a3.9 3.9 0 1 0 7.8 0a3.9 3.9 0 1 0 -7.8 0zM375.1 243.0a3.9 3.9 0 1 0 7.8 0a3.9 3.9 0 1 0 -7.8 0zM375.9 243.3a3.9 3.9 0 1 0 7.8 0a3.9 3.9 0 1 0 -7.8 0zM376.7 243.0a3.9 3.9 0 1 0 7.8 0a3.9 3.9 0 1 0 -7.8 0zM377.6 243.3a3.9 3.9 0 1 0 7.8 0a3.9 3.9 0 1 0 -7.8 0zM378.4 243.3a3.9 3.9 0 1 0 7.8 0a3.9 3.9 0 1 0 -7.8 0zM379.2 243.2a3.9 3.9 0 1 0 7.8 0a3.9 3.9 0 1 0 -7.8 0zM380.0 243.2a3.9 3.9 0 1 0 7.8 0a3.9 3.9 0 1 0 -7.8 0zM380.8 243.3a3.9 3.9 0 1 0 7.8 0a3.9 3.9 0 1 0 -7.8 0zM381.6 243.2a3.9 3.9 0 1 0 7.8 0a3.9 3.9 0 1 0 -7.8 0zM382.4 243.3a3.9 3.9 0 1 0 7.8 0a3.9 3.9 0 1 0 -7.8 0zM383.2 243.4a3.9 3.9 0 1 0 7.8 0a3.9 3.9 0 1 0 -7.8 0zM384.0 243.3a3.9 3.9 0 1 0 7.8 0a3.9 3.9 0 1 0 -7.8 0zM384.8 243.5a3.9 3.9 0 1 0 7.8 0a3.9 3.9 0 1 0 -7.8 0zM385.6 243.2a3.9 3.9 0 1 0 7.8 0a3.9 3.9 0 1 0 -7.8 0zM386.4 243.3a3.9 3.9 0 1 0 7.8 0a3.9 3.9 0 1 0 -7.8 0zM387.2 243.3a3.9 3.9 0 1 0 7.8 0a3.9 3.9 0 1 0 -7.8 0zM388.0 243.3a3.9 3.9 0 1 0 7.8 0a3.9 3.9 0 1 0 -7.8 0zM388.8 243.2a3.9 3.9 0 1 0 7.8 0a3.9 3.9 0 1 0 -7.8 0zM389.6 243.6a3.9 3.9 0 1 0 7.8 0a3.9 3.9 0 1 0 -7.8 0zM390.5 243.4a3.9 3.9 0 1 0 7.8 0a3.9 3.9 0 1 0 -7.8 0zM391.3 243.1a3.9 3.9 0 1 0 7.8 0a3.9 3.9 0 1 0 -7.8 0zM392.1 243.4a3.9 3.9 0 1 0 7.8 0a3.9 3.9 0 1 0 -7.8 0zM392.9 243.4a3.9 3.9 0 1 0 7.8 0a3.9 3.9 0 1 0 -7.8 0zM393.7 243.5a3.9 3.9 0 1 0 7.8 0a3.9 3.9 0 1 0 -7.8 0zM394.5 243.4a3.9 3.9 0 1 0 7.8 0a3.9 3.9 0 1 0 -7.8 0zM395.3 243.3a3.9 3.9 0 1 0 7.8 0a3.9 3.9 0 1 0 -7.8 0zM396.1 243.5a3.9 3.9 0 1 0 7.8 0a3.9 3.9 0 1 0 -7.8 0zM396.9 243.3a3.9 3.9 0 1 0 7.8 0a3.9 3.9 0 1 0 -7.8 0zM397.7 243.5a3.9 3.9 0 1 0 7.8 0a3.9 3.9 0 1 0 -7.8 0zM398.5 243.4a3.9 3.9 0 1 0 7.8 0a3.9 3.9 0 1 0 -7.8 0zM399.3 243.7a3.9 3.9 0 1 0 7.8 0a3.9 3.9 0 1 0 -7.8 0zM400.1 243.7a3.9 3.9 0 1 0 7.8 0a3.9 3.9 0 1 0 -7.8 0zM400.9 243.9a3.9 3.9 0 1 0 7.8 0a3.9 3.9 0 1 0 -7.8 0zM401.7 243.6a3.9 3.9 0 1 0 7.8 0a3.9 3.9 0 1 0 -7.8 0zM402.5 243.7a3.9 3.9 0 1 0 7.8 0a3.9 3.9 0 1 0 -7.8 0zM403.3 243.7a3.9 3.9 0 1 0 7.8 0a3.9 3.9 0 1 0 -7.8 0zM404.1 243.9a3.9 3.9 0 1 0 7.8 0a3.9 3.9 0 1 0 -7.8 0zM404.9 243.7a3.9 3.9 0 1 0 7.8 0a3.9 3.9 0 1 0 -7.8 0zM405.7 244.0a3.9 3.9 0 1 0 7.8 0a3.9 3.9 0 1 0 -7.8 0zM406.5 243.9a3.9 3.9 0 1 0 7.8 0a3.9 3.9 0 1 0 -7.8 0zM407.3 244.0a3.9 3.9 0 1 0 7.8 0a3.9 3.9 0 1 0 -7.8 0zM408.1 244.0a3.9 3.9 0 1 0 7.8 0a3.9 3.9 0 1 0 -7.8 0zM408.9 243.9a3.9 3.9 0 1 0 7.8 0a3.9 3.9 0 1 0 -7.8 0zM409.7 244.0a3.9 3.9 0 1 0 7.8 0a3.9 3.9 0 1 0 -7.8 0zM410.5 243.9a3.9 3.9 0 1 0 7.8 0a3.9 3.9 0 1 0 -7.8 0zM411.3 244.0a3.9 3.9 0 1 0 7.8 0a3.9 3.9 0 1 0 -7.8 0zM412.1 244.1a3.9 3.9 0 1 0 7.8 0a3.9 3.9 0 1 0 -7.8 0zM412.9 244.4a3.9 3.9 0 1 0 7.8 0a3.9 3.9 0 1 0 -7.8 0zM413.7 244.2a3.9 3.9 0 1 0 7.8 0a3.9 3.9 0 1 0 -7.8 0zM414.5 244.3a3.9 3.9 0 1 0 7.8 0a3.9 3.9 0 1 0 -7.8 0zM415.3 244.3a3.9 3.9 0 1 0 7.8 0a3.9 3.9 0 1 0 -7.8 0zM416.1 244.2a3.9 3.9 0 1 0 7.8 0a3.9 3.9 0 1 0 -7.8 0zM416.9 244.5a3.9 3.9 0 1 0 7.8 0a3.9 3.9 0 1 0 -7.8 0zM417.7 244.6a3.9 3.9 0 1 0 7.8 0a3.9 3.9 0 1 0 -7.8 0zM418.5 244.5a3.9 3.9 0 1 0 7.8 0a3.9 3.9 0 1 0 -7.8 0zM419.4 244.5a3.9 3.9 0 1 0 7.8 0a3.9 3.9 0 1 0 -7.8 0zM420.2 244.5a3.9 3.9 0 1 0 7.8 0a3.9 3.9 0 1 0 -7.8 0zM421.0 244.5a3.9 3.9 0 1 0 7.8 0a3.9 3.9 0 1 0 -7.8 0zM421.8 244.6a3.9 3.9 0 1 0 7.8 0a3.9 3.9 0 1 0 -7.8 0zM422.6 244.2a3.9 3.9 0 1 0 7.8 0a3.9 3.9 0 1 0 -7.8 0zM423.4 244.3a3.9 3.9 0 1 0 7.8 0a3.9 3.9 0 1 0 -7.8 0zM424.2 244.2a3.9 3.9 0 1 0 7.8 0a3.9 3.9 0 1 0 -7.8 0zM425.0 244.4a3.9 3.9 0 1 0 7.8 0a3.9 3.9 0 1 0 -7.8 0zM425.9 244.4a3.9 3.9 0 1 0 7.8 0a3.9 3.9 0 1 0 -7.8 0zM426.7 244.3a3.9 3.9 0 1 0 7.8 0a3.9 3.9 0 1 0 -7.8 0zM427.5 244.5a3.9 3.9 0 1 0 7.8 0a3.9 3.9 0 1 0 -7.8 0zM428.3 244.6a3.9 3.9 0 1 0 7.8 0a3.9 3.9 0 1 0 -7.8 0zM429.1 244.6a3.9 3.9 0 1 0 7.8 0a3.9 3.9 0 1 0 -7.8 0zM429.9 244.5a3.9 3.9 0 1 0 7.8 0a3.9 3.9 0 1 0 -7.8 0zM430.7 244.1a3.9 3.9 0 1 0 7.8 0a3.9 3.9 0 1 0 -7.8 0zM431.6 244.0a3.9 3.9 0 1 0 7.8 0a3.9 3.9 0 1 0 -7.8 0zM432.4 244.0a3.9 3.9 0 1 0 7.8 0a3.9 3.9 0 1 0 -7.8 0zM433.2 243.8a3.9 3.9 0 1 0 7.8 0a3.9 3.9 0 1 0 -7.8 0zM434.0 243.7a3.9 3.9 0 1 0 7.8 0a3.9 3.9 0 1 0 -7.8 0zM434.8 243.4a3.9 3.9 0 1 0 7.8 0a3.9 3.9 0 1 0 -7.8 0zM435.6 243.3a3.9 3.9 0 1 0 7.8 0a3.9 3.9 0 1 0 -7.8 0zM436.5 243.1a3.9 3.9 0 1 0 7.8 0a3.9 3.9 0 1 0 -7.8 0zM437.3 243.2a3.9 3.9 0 1 0 7.8 0a3.9 3.9 0 1 0 -7.8 0zM438.1 242.8a3.9 3.9 0 1 0 7.8 0a3.9 3.9 0 1 0 -7.8 0zM438.9 242.9a3.9 3.9 0 1 0 7.8 0a3.9 3.9 0 1 0 -7.8 0zM439.7 242.9a3.9 3.9 0 1 0 7.8 0a3.9 3.9 0 1 0 -7.8 0zM440.5 242.9a3.9 3.9 0 1 0 7.8 0a3.9 3.9 0 1 0 -7.8 0zM441.3 242.9a3.9 3.9 0 1 0 7.8 0a3.9 3.9 0 1 0 -7.8 0zM442.1 243.0a3.9 3.9 0 1 0 7.8 0a3.9 3.9 0 1 0 -7.8 0zM442.9 242.8a3.9 3.9 0 1 0 7.8 0a3.9 3.9 0 1 0 -7.8 0zM443.7 242.9a3.9 3.9 0 1 0 7.8 0a3.9 3.9 0 1 0 -7.8 0zM444.5 243.1a3.9 3.9 0 1 0 7.8 0a3.9 3.9 0 1 0 -7.8 0zM445.3 242.8a3.9 3.9 0 1 0 7.8 0a3.9 3.9 0 1 0 -7.8 0zM446.1 243.0a3.9 3.9 0 1 0 7.8 0a3.9 3.9 0 1 0 -7.8 0zM446.9 243.1a3.9 3.9 0 1 0 7.8 0a3.9 3.9 0 1 0 -7.8 0zM447.7 243.1a3.9 3.9 0 1 0 7.8 0a3.9 3.9 0 1 0 -7.8 0zM448.5 242.8a3.9 3.9 0 1 0 7.8 0a3.9 3.9 0 1 0 -7.8 0zM449.3 243.1a3.9 3.9 0 1 0 7.8 0a3.9 3.9 0 1 0 -7.8 0zM450.1 243.0a3.9 3.9 0 1 0 7.8 0a3.9 3.9 0 1 0 -7.8 0zM450.9 243.1a3.9 3.9 0 1 0 7.8 0a3.9 3.9 0 1 0 -7.8 0zM451.7 243.0a3.9 3.9 0 1 0 7.8 0a3.9 3.9 0 1 0 -7.8 0zM452.5 242.9a3.9 3.9 0 1 0 7.8 0a3.9 3.9 0 1 0 -7.8 0zM453.3 243.0a3.9 3.9 0 1 0 7.8 0a3.9 3.9 0 1 0 -7.8 0zM454.1 242.9a3.9 3.9 0 1 0 7.8 0a3.9 3.9 0 1 0 -7.8 0zM454.9 242.8a3.9 3.9 0 1 0 7.8 0a3.9 3.9 0 1 0 -7.8 0zM455.7 242.8a3.9 3.9 0 1 0 7.8 0a3.9 3.9 0 1 0 -7.8 0zM456.5 242.8a3.9 3.9 0 1 0 7.8 0a3.9 3.9 0 1 0 -7.8 0zM457.3 242.9a3.9 3.9 0 1 0 7.8 0a3.9 3.9 0 1 0 -7.8 0zM458.1 242.7a3.9 3.9 0 1 0 7.8 0a3.9 3.9 0 1 0 -7.8 0zM458.9 242.9a3.9 3.9 0 1 0 7.8 0a3.9 3.9 0 1 0 -7.8 0zM459.7 242.7a3.9 3.9 0 1 0 7.8 0a3.9 3.9 0 1 0 -7.8 0zM460.5 243.0a3.9 3.9 0 1 0 7.8 0a3.9 3.9 0 1 0 -7.8 0zM461.3 243.1a3.9 3.9 0 1 0 7.8 0a3.9 3.9 0 1 0 -7.8 0zM462.1 243.0a3.9 3.9 0 1 0 7.8 0a3.9 3.9 0 1 0 -7.8 0zM462.9 243.1a3.9 3.9 0 1 0 7.8 0a3.9 3.9 0 1 0 -7.8 0zM463.7 243.1a3.9 3.9 0 1 0 7.8 0a3.9 3.9 0 1 0 -7.8 0zM464.5 243.2a3.9 3.9 0 1 0 7.8 0a3.9 3.9 0 1 0 -7.8 0zM465.3 242.9a3.9 3.9 0 1 0 7.8 0a3.9 3.9 0 1 0 -7.8 0zM466.1 242.8a3.9 3.9 0 1 0 7.8 0a3.9 3.9 0 1 0 -7.8 0zM466.9 242.9a3.9 3.9 0 1 0 7.8 0a3.9 3.9 0 1 0 -7.8 0zM467.7 242.8a3.9 3.9 0 1 0 7.8 0a3.9 3.9 0 1 0 -7.8 0zM468.5 243.1a3.9 3.9 0 1 0 7.8 0a3.9 3.9 0 1 0 -7.8 0zM469.3 242.6a3.9 3.9 0 1 0 7.8 0a3.9 3.9 0 1 0 -7.8 0zM470.1 242.9a3.9 3.9 0 1 0 7.8 0a3.9 3.9 0 1 0 -7.8 0zM470.9 243.0a3.9 3.9 0 1 0 7.8 0a3.9 3.9 0 1 0 -7.8 0zM471.7 243.0a3.9 3.9 0 1 0 7.8 0a3.9 3.9 0 1 0 -7.8 0zM472.5 243.0a3.9 3.9 0 1 0 7.8 0a3.9 3.9 0 1 0 -7.8 0zM473.3 242.8a3.9 3.9 0 1 0 7.8 0a3.9 3.9 0 1 0 -7.8 0zM474.1 242.9a3.9 3.9 0 1 0 7.8 0a3.9 3.9 0 1 0 -7.8 0zM474.9 242.9a3.9 3.9 0 1 0 7.8 0a3.9 3.9 0 1 0 -7.8 0zM475.7 243.0a3.9 3.9 0 1 0 7.8 0a3.9 3.9 0 1 0 -7.8 0zM476.5 243.0a3.9 3.9 0 1 0 7.8 0a3.9 3.9 0 1 0 -7.8 0zM477.3 243.1a3.9 3.9 0 1 0 7.8 0a3.9 3.9 0 1 0 -7.8 0zM478.1 242.8a3.9 3.9 0 1 0 7.8 0a3.9 3.9 0 1 0 -7.8 0zM478.9 242.9a3.9 3.9 0 1 0 7.8 0a3.9 3.9 0 1 0 -7.8 0zM479.7 243.2a3.9 3.9 0 1 0 7.8 0a3.9 3.9 0 1 0 -7.8 0zM480.5 243.1a3.9 3.9 0 1 0 7.8 0a3.9 3.9 0 1 0 -7.8 0zM481.3 242.9a3.9 3.9 0 1 0 7.8 0a3.9 3.9 0 1 0 -7.8 0zM482.1 243.0a3.9 3.9 0 1 0 7.8 0a3.9 3.9 0 1 0 -7.8 0zM482.9 242.9a3.9 3.9 0 1 0 7.8 0a3.9 3.9 0 1 0 -7.8 0zM483.7 243.2a3.9 3.9 0 1 0 7.8 0a3.9 3.9 0 1 0 -7.8 0zM484.6 243.0a3.9 3.9 0 1 0 7.8 0a3.9 3.9 0 1 0 -7.8 0zM485.4 243.2a3.9 3.9 0 1 0 7.8 0a3.9 3.9 0 1 0 -7.8 0zM486.2 243.2a3.9 3.9 0 1 0 7.8 0a3.9 3.9 0 1 0 -7.8 0zM487.0 243.2a3.9 3.9 0 1 0 7.8 0a3.9 3.9 0 1 0 -7.8 0zM487.9 243.3a3.9 3.9 0 1 0 7.8 0a3.9 3.9 0 1 0 -7.8 0zM488.7 243.4a3.9 3.9 0 1 0 7.8 0a3.9 3.9 0 1 0 -7.8 0zM489.5 243.4a3.9 3.9 0 1 0 7.8 0a3.9 3.9 0 1 0 -7.8 0zM490.3 243.5a3.9 3.9 0 1 0 7.8 0a3.9 3.9 0 1 0 -7.8 0zM491.2 243.4a3.9 3.9 0 1 0 7.8 0a3.9 3.9 0 1 0 -7.8 0zM492.0 243.7a3.9 3.9 0 1 0 7.8 0a3.9 3.9 0 1 0 -7.8 0zM492.8 243.7a3.9 3.9 0 1 0 7.8 0a3.9 3.9 0 1 0 -7.8 0zM493.6 243.8a3.9 3.9 0 1 0 7.8 0a3.9 3.9 0 1 0 -7.8 0zM494.5 243.9a3.9 3.9 0 1 0 7.8 0a3.9 3.9 0 1 0 -7.8 0zM495.3 243.9a3.9 3.9 0 1 0 7.8 0a3.9 3.9 0 1 0 -7.8 0zM496.1 243.7a3.9 3.9 0 1 0 7.8 0a3.9 3.9 0 1 0 -7.8 0zM496.9 243.9a3.9 3.9 0 1 0 7.8 0a3.9 3.9 0 1 0 -7.8 0zM497.7 244.0a3.9 3.9 0 1 0 7.8 0a3.9 3.9 0 1 0 -7.8 0zM498.5 243.9a3.9 3.9 0 1 0 7.8 0a3.9 3.9 0 1 0 -7.8 0zM499.3 244.0a3.9 3.9 0 1 0 7.8 0a3.9 3.9 0 1 0 -7.8 0zM500.1 244.0a3.9 3.9 0 1 0 7.8 0a3.9 3.9 0 1 0 -7.8 0zM500.9 244.0a3.9 3.9 0 1 0 7.8 0a3.9 3.9 0 1 0 -7.8 0zM501.7 244.0a3.9 3.9 0 1 0 7.8 0a3.9 3.9 0 1 0 -7.8 0zM502.5 244.0a3.9 3.9 0 1 0 7.8 0a3.9 3.9 0 1 0 -7.8 0zM503.3 244.0a3.9 3.9 0 1 0 7.8 0a3.9 3.9 0 1 0 -7.8 0zM504.1 244.3a3.9 3.9 0 1 0 7.8 0a3.9 3.9 0 1 0 -7.8 0zM504.9 244.2a3.9 3.9 0 1 0 7.8 0a3.9 3.9 0 1 0 -7.8 0zM505.7 244.3a3.9 3.9 0 1 0 7.8 0a3.9 3.9 0 1 0 -7.8 0zM506.5 244.3a3.9 3.9 0 1 0 7.8 0a3.9 3.9 0 1 0 -7.8 0zM507.3 244.2a3.9 3.9 0 1 0 7.8 0a3.9 3.9 0 1 0 -7.8 0zM508.1 244.4a3.9 3.9 0 1 0 7.8 0a3.9 3.9 0 1 0 -7.8 0zM508.9 244.1a3.9 3.9 0 1 0 7.8 0a3.9 3.9 0 1 0 -7.8 0zM509.7 244.3a3.9 3.9 0 1 0 7.8 0a3.9 3.9 0 1 0 -7.8 0zM510.5 244.4a3.9 3.9 0 1 0 7.8 0a3.9 3.9 0 1 0 -7.8 0zM511.3 244.6a3.9 3.9 0 1 0 7.8 0a3.9 3.9 0 1 0 -7.8 0zM512.1 244.4a3.9 3.9 0 1 0 7.8 0a3.9 3.9 0 1 0 -7.8 0z"/>
<g fill="#111" stroke="#111" stroke-width="0.2"><text transform="translate(50.2 333.4) scale(1 1.08)" text-anchor="end">0</text><text transform="translate(50.2 272.6) scale(1 1.08)" text-anchor="end">10</text><text transform="translate(50.2 211.7) scale(1 1.08)" text-anchor="end">20</text><text transform="translate(50.2 150.9) scale(1 1.08)" text-anchor="end">30</text><text transform="translate(50.2 90.0) scale(1 1.08)" text-anchor="end">40</text><text transform="translate(50.2 29.2) scale(1 1.08)" text-anchor="end">50</text><text transform="translate(60.0 351.3) scale(1 1.08)" text-anchor="middle">0</text><text transform="translate(151.5 351.3) scale(1 1.08)" text-anchor="middle">20</text><text transform="translate(243.0 351.3) scale(1 1.08)" text-anchor="middle">40</text><text transform="translate(334.4 351.3) scale(1 1.08)" text-anchor="middle">60</text><text transform="translate(425.9 351.3) scale(1 1.08)" text-anchor="middle">80</text><text transform="translate(517.4 351.3) scale(1 1.08)" text-anchor="middle">100</text><text transform="translate(288 372.6) scale(1 1.08)" text-anchor="middle">Minutes</text><text transform="translate(27.3 176.3) rotate(-90)" text-anchor="middle" font-size="13.3">PAP (mmHg)</text></g>
<g fill="#111" stroke="#111" stroke-width="0.2"><path fill="#000000" stroke="none" d="M563.7 27.5a3.9 3.9 0 1 0 7.8 0a3.9 3.9 0 1 0 -7.8 0z"/><text transform="translate(589 32.8) scale(1 1.08)">NBO - Trial 01</text><path fill="#FF0866" stroke="none" d="M563.9 45.7h7.4v7.4h-7.4z"/><text transform="translate(589 54.7) scale(1 1.08)">NBO - Trial 02</text><path fill="#19827D" stroke="none" d="M567.6 67.0l3.7 7.3h-7.4z"/><text transform="translate(589 76.5) scale(1 1.08)">NBO - Trial 03</text><path fill="#3F0A8C" stroke="none" d="M563.8 89.8h7.6l-3.8 7.4z"/><text transform="translate(589 98.4) scale(1 1.08)">EHT - Trial 01</text><path fill="#A05CF4" stroke="none" d="M567.6 111.3l3.6 3.6l-3.6 3.6l-3.6-3.6z"/><text transform="translate(589 120.2) scale(1 1.08)">EHT - Trial 02</text><path fill="#5CC6F5" stroke="none" d="M564.0 136.8a3.6 3.6 0 1 0 7.2 0a3.6 3.6 0 1 0 -7.2 0z"/><text transform="translate(589 142.1) scale(1 1.08)">EHT - Trial 03</text></g>
</svg>
</body></html>
